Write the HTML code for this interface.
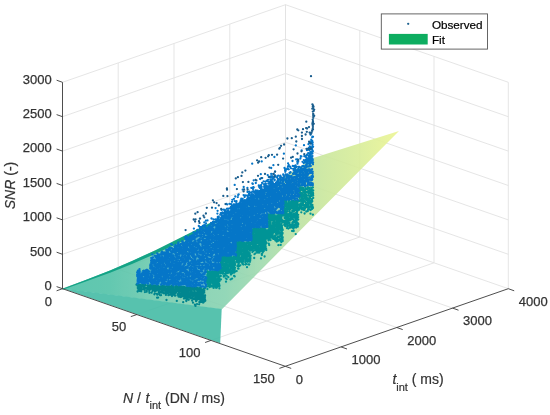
<!DOCTYPE html>
<html><head><meta charset="utf-8"><style>
html,body{margin:0;padding:0;background:#fff;}
body{width:550px;height:415px;overflow:hidden;}
svg{display:block;font-family:"Liberation Sans",Arial,sans-serif;}
.g{stroke:#e2e2e2;stroke-width:0.9;}
.a{stroke:#3a3a3a;stroke-width:0.9;}
.tk text{font-size:13px;fill:#333;stroke:#333;stroke-width:0.25px;}
.lab{font-size:14px;fill:#333;stroke:#333;stroke-width:0.2px;}
</style></head><body>
<svg width="550" height="415" viewBox="0 0 550 415">
<rect width="550" height="415" fill="#fff"/>
<g id="grid">
<line x1="118.2" y1="269.3" x2="341.1" y2="346.9" class="g"/>
<line x1="174.0" y1="249.9" x2="396.8" y2="327.5" class="g"/>
<line x1="229.8" y1="230.5" x2="452.6" y2="308.1" class="g"/>
<line x1="118.2" y1="269.3" x2="118.2" y2="62.9" class="g"/>
<line x1="174.0" y1="249.9" x2="174.0" y2="43.5" class="g"/>
<line x1="229.8" y1="230.5" x2="229.8" y2="24.1" class="g"/>
<line x1="285.5" y1="211.1" x2="285.5" y2="4.7" class="g"/>
<line x1="62.5" y1="288.7" x2="285.5" y2="211.1" class="g"/>
<line x1="136.8" y1="314.6" x2="359.8" y2="237.0" class="g"/>
<line x1="211.0" y1="340.4" x2="434.0" y2="262.8" class="g"/>
<line x1="285.5" y1="211.1" x2="285.5" y2="4.7" class="g"/>
<line x1="359.8" y1="237.0" x2="359.8" y2="30.6" class="g"/>
<line x1="434.0" y1="262.8" x2="434.0" y2="56.4" class="g"/>
<line x1="508.3" y1="288.7" x2="508.3" y2="82.3" class="g"/>
<line x1="285.5" y1="211.1" x2="508.3" y2="288.7" class="g"/>
<line x1="62.5" y1="254.3" x2="285.5" y2="176.7" class="g"/>
<line x1="285.5" y1="176.7" x2="508.3" y2="254.3" class="g"/>
<line x1="62.5" y1="219.9" x2="285.5" y2="142.3" class="g"/>
<line x1="285.5" y1="142.3" x2="508.3" y2="219.9" class="g"/>
<line x1="62.5" y1="185.5" x2="285.5" y2="107.9" class="g"/>
<line x1="285.5" y1="107.9" x2="508.3" y2="185.5" class="g"/>
<line x1="62.5" y1="151.1" x2="285.5" y2="73.5" class="g"/>
<line x1="285.5" y1="73.5" x2="508.3" y2="151.1" class="g"/>
<line x1="62.5" y1="116.7" x2="285.5" y2="39.1" class="g"/>
<line x1="285.5" y1="39.1" x2="508.3" y2="116.7" class="g"/>
<line x1="62.5" y1="82.3" x2="285.5" y2="4.7" class="g"/>
<line x1="285.5" y1="4.7" x2="508.3" y2="82.3" class="g"/>
</g>

<defs>
<linearGradient id="sg" gradientUnits="userSpaceOnUse" x1="62" y1="0" x2="399" y2="0">
<stop offset="0.000" stop-color="#4ac0a7"/><stop offset="0.142" stop-color="#53c3a8"/><stop offset="0.202" stop-color="#5ec6ab"/><stop offset="0.350" stop-color="#7fcfb0"/><stop offset="0.484" stop-color="#88d3b1"/><stop offset="0.588" stop-color="#9edaae"/><stop offset="0.706" stop-color="#bce2a1"/><stop offset="0.780" stop-color="#cae79c"/><stop offset="0.884" stop-color="#d8ed98"/><stop offset="1.000" stop-color="#ecf593"/>
</linearGradient>
</defs>
<g opacity="0.9">
<polygon points="221.7,309.5 399.0,131.0 314.0,157.8 290.0,173.0 265.0,190.0 240.0,206.0 215.0,220.5 195.0,230.5 175.0,240.5 155.0,250.4 132.0,261.0 110.0,270.5 85.0,280.2 62.5,288.7" fill="url(#sg)"/>
<polygon points="62.2,288.3 220.2,343.2 221.7,308.9" fill="#45bca6"/>
</g>
<polygon points="62.5,288.7 85.0,280.2 110.0,270.5 132.0,261.0 155.0,250.4 175.0,240.5 195.0,230.5 215.0,220.5 215.0,225.8 195.0,235.2 175.0,244.7 155.0,254.0 132.0,263.9 110.0,272.8 85.0,281.8 62.5,289.7" fill="#14a386"/>


<defs>
<linearGradient id="ubg" gradientUnits="userSpaceOnUse" x1="255" y1="0" x2="300" y2="0">
<stop offset="0" stop-color="#2a9ad8" stop-opacity="0.6"/><stop offset="1" stop-color="#2a9ad8" stop-opacity="0"/>
</linearGradient>
<linearGradient id="utg" gradientUnits="userSpaceOnUse" x1="260" y1="0" x2="305" y2="0">
<stop offset="0" stop-color="#009496" stop-opacity="0.45"/><stop offset="1" stop-color="#009496" stop-opacity="0"/>
</linearGradient>
</defs>
<polygon points="136.5,283.8 205.3,287.5 205.3,298.0 136.5,284.3" fill="url(#utg)"/><polygon points="206.3,270.4 219.6,270.4 219.6,283.5 206.3,283.9" fill="url(#utg)"/><polygon points="220.6,255.8 235.1,255.8 235.1,270.8 220.6,271.3" fill="url(#utg)"/><polygon points="236.1,241.0 250.8,241.0 250.8,258.5 236.1,259.0" fill="url(#utg)"/><polygon points="251.8,227.5 266.5,227.5 266.5,247.5 251.8,248.0" fill="url(#utg)"/><polygon points="267.5,213.3 282.8,213.3 282.8,236.3 267.5,236.8" fill="url(#utg)"/><polygon points="283.8,199.8 298.4,199.8 298.4,223.8 283.8,224.3" fill="url(#utg)"/><polygon points="299.4,186.3 313.2,186.3 313.2,207.4 299.4,207.8" fill="url(#utg)"/>
<polygon points="136.5,271.5 136.5,271.5 150.1,270.5 150.3,258.0 165.0,252.0 180.0,244.0 200.0,231.0 215.0,222.0 230.0,210.0 258.0,193.0 289.0,177.0 297.0,174.0 305.0,168.0 309.5,155.0 310.8,143.0 314.2,139.0 314.2,186.3 299.4,186.3 299.4,199.8 283.8,199.8 283.8,213.3 267.5,213.3 267.5,227.5 251.8,227.5 251.8,241.0 236.1,241.0 236.1,255.8 220.6,255.8 220.6,270.4 206.3,270.4 206.3,287.5 136.5,283.8" fill="url(#ubg)"/>
<g fill="none" stroke-linecap="round" stroke-width="2.3">
<path d="M210.9 277.9h0M207.7 280.8h0M217.9 274.7h0M213.0 285.7h0M218.3 273.9h0M210.4 285.3h0M214.1 276.6h0M213.6 287.9h0M209.0 280.8h0M216.8 282.3h0M217.8 279.7h0M216.5 284.3h0M213.7 273.4h0M209.0 284.6h0M214.9 273.7h0M217.2 286.9h0M214.6 282.5h0M212.6 286.4h0M218.7 272.3h0M209.0 285.3h0M212.6 271.9h0M219.3 277.0h0M218.6 281.6h0M218.0 278.6h0M206.4 277.9h0M213.4 285.7h0M216.9 275.6h0M209.6 287.2h0M211.4 277.3h0M211.8 282.4h0M218.4 271.8h0M209.7 276.0h0M217.7 285.6h0M216.0 285.7h0M217.3 274.5h0M219.0 276.8h0M213.8 282.3h0M211.5 273.7h0M214.4 286.0h0M219.1 283.9h0M212.7 278.8h0M215.5 283.2h0M213.0 275.3h0M209.5 275.7h0M208.0 276.4h0M212.5 285.9h0M210.1 283.8h0M214.0 282.5h0M209.9 281.6h0M219.0 276.5h0M213.0 276.9h0M211.3 272.7h0M218.4 280.1h0M218.2 273.8h0M217.3 283.7h0M214.9 278.8h0M208.1 277.0h0M207.2 271.5h0M214.0 278.5h0M219.3 271.2h0M218.1 281.2h0M214.9 276.7h0M214.2 274.0h0M219.3 278.6h0M209.1 279.8h0M213.0 286.0h0M212.2 276.9h0M215.0 272.8h0M214.1 273.6h0M218.3 276.3h0M208.4 280.3h0M214.2 278.4h0M215.9 283.5h0M208.0 278.6h0M217.1 274.5h0M214.1 273.8h0M209.0 277.8h0M213.1 281.5h0M218.2 280.9h0M215.9 272.1h0M215.7 275.1h0M212.0 285.3h0M217.4 278.3h0M214.6 281.9h0M209.3 272.9h0M207.4 275.9h0M210.6 283.2h0M210.5 272.3h0M217.0 279.7h0M215.2 279.5h0M210.3 272.1h0M214.6 281.7h0M210.7 278.3h0M211.2 280.1h0M206.5 279.6h0M215.0 278.7h0M212.4 273.6h0M218.8 280.6h0M208.8 284.8h0M209.8 286.3h0M214.0 283.8h0M218.2 274.7h0M209.1 278.4h0M208.4 279.2h0M209.2 274.2h0M208.7 276.8h0M209.3 272.3h0M211.1 273.3h0M212.1 271.4h0M213.0 273.2h0M207.5 274.9h0M219.0 271.7h0M212.3 279.2h0M218.3 286.2h0M212.3 275.9h0M207.0 280.6h0M215.0 272.3h0M208.2 277.2h0M214.8 284.7h0M214.2 278.6h0M219.3 286.3h0M214.3 273.9h0M217.1 279.9h0M219.0 281.6h0M215.9 281.2h0M218.5 275.3h0M213.9 276.4h0M216.7 287.8h0M209.7 284.3h0M209.7 286.9h0M210.7 272.8h0M217.8 273.7h0M214.0 275.3h0M208.6 283.6h0M218.9 277.6h0M210.2 281.5h0M215.3 280.3h0M211.5 274.3h0M216.7 279.2h0M213.7 275.2h0M211.5 276.8h0M208.9 272.3h0M214.4 279.5h0M215.3 277.3h0M209.6 285.1h0M214.7 286.1h0M215.5 284.3h0M219.3 271.5h0M219.5 285.4h0M209.3 279.8h0M211.6 277.4h0M215.4 276.3h0M211.6 273.8h0M216.4 285.0h0M216.8 282.1h0M213.4 285.1h0M209.1 281.5h0M217.1 276.3h0M208.0 273.3h0M215.9 287.7h0M213.3 272.9h0M209.8 275.0h0M212.7 272.7h0M211.3 277.1h0M207.8 283.8h0M219.0 272.3h0M210.8 279.4h0M215.3 271.4h0M213.9 277.1h0M216.4 271.2h0M211.2 273.0h0M219.4 288.4h0M217.6 285.4h0M218.4 273.5h0M214.7 279.1h0M206.3 281.8h0M212.1 275.4h0M208.7 284.1h0M216.2 273.0h0M214.9 274.8h0M213.5 271.6h0M209.7 280.3h0M208.0 275.5h0M210.6 279.2h0M207.0 281.5h0M219.4 286.1h0M213.6 276.9h0M217.8 272.3h0M214.6 272.5h0M211.5 279.4h0M213.7 272.5h0M207.4 289.0h0M212.8 282.4h0M207.4 279.3h0M208.8 282.2h0M208.3 285.9h0M208.1 284.4h0M214.4 278.3h0M217.0 281.3h0M207.5 277.6h0M217.2 281.4h0M219.2 280.2h0M208.6 281.4h0M207.9 278.2h0M217.5 281.2h0M213.4 278.7h0M210.3 275.6h0M212.9 283.2h0M214.5 272.8h0M212.8 281.4h0M217.2 282.8h0M210.0 272.7h0M213.5 280.2h0M211.5 279.4h0M210.3 276.4h0M212.3 282.6h0M211.3 286.4h0M209.1 275.2h0M207.9 277.5h0M209.3 273.1h0M213.3 285.1h0M216.3 283.8h0M212.8 276.3h0M209.2 271.8h0M218.0 279.1h0M219.6 280.9h0M213.5 276.1h0M213.7 284.6h0M210.6 275.3h0M211.9 280.7h0M216.4 283.2h0M209.5 284.8h0M218.0 280.0h0M218.8 280.0h0M215.2 285.3h0M219.4 281.1h0M217.8 281.3h0M207.9 282.8h0M217.7 278.9h0M207.5 277.1h0M210.1 275.3h0M216.7 272.8h0M207.1 271.4h0M206.9 286.4h0M215.7 282.0h0M210.1 283.2h0M215.0 280.4h0M217.9 272.3h0M209.9 278.5h0M209.5 280.8h0M214.5 286.1h0M218.5 275.3h0M218.6 284.0h0M218.7 280.3h0M213.6 272.0h0M214.8 279.4h0M209.8 285.7h0M210.0 282.4h0M215.9 281.5h0M209.2 280.2h0M231.3 271.8h0M224.4 265.5h0M230.2 262.9h0M234.2 266.5h0M232.8 260.2h0M224.9 258.4h0M228.9 256.7h0M223.0 260.4h0M230.1 260.2h0M234.4 257.0h0M224.4 261.5h0M232.0 265.0h0M232.1 264.5h0M228.9 258.6h0M229.0 272.4h0M220.7 263.5h0M234.3 262.9h0M223.8 276.7h0M224.1 270.2h0M221.4 266.0h0M228.7 272.5h0M225.2 259.2h0M221.4 264.2h0M225.7 260.2h0M232.1 267.0h0M230.6 279.4h0M233.6 262.7h0M223.6 271.2h0M223.1 259.8h0M222.2 272.1h0M223.5 265.0h0M220.7 263.3h0M228.6 258.2h0M235.1 264.1h0M233.3 268.5h0M231.7 260.1h0M224.2 256.7h0M222.4 270.2h0M231.3 264.9h0M221.6 259.9h0M235.1 257.8h0M234.2 260.1h0M234.4 262.2h0M232.5 261.1h0M222.5 273.6h0M225.8 261.6h0M228.2 271.8h0M226.3 268.8h0M228.9 261.3h0M222.3 269.2h0M224.7 275.9h0M225.2 269.7h0M224.2 269.1h0M233.5 264.1h0M234.9 263.8h0M234.3 272.5h0M231.1 262.5h0M234.5 268.8h0M221.4 272.1h0M234.8 256.9h0M232.4 273.2h0M234.1 258.2h0M232.5 264.1h0M229.9 262.5h0M227.5 256.8h0M225.0 270.7h0M232.1 278.6h0M228.1 267.3h0M234.0 264.7h0M230.2 270.9h0M233.1 268.9h0M234.4 270.3h0M230.2 259.7h0M221.2 262.4h0M223.0 264.6h0M222.8 263.2h0M234.7 276.4h0M226.7 279.1h0M220.8 264.1h0M230.9 257.1h0M229.8 266.0h0M226.9 265.0h0M234.8 271.9h0M233.7 258.1h0M222.7 267.5h0M226.9 265.0h0M234.4 257.2h0M227.8 266.4h0M227.6 258.3h0M223.9 260.4h0M230.5 265.5h0M228.0 257.9h0M226.1 257.1h0M228.4 256.8h0M230.5 264.9h0M221.4 270.2h0M224.2 268.4h0M234.2 270.7h0M228.3 277.2h0M231.6 270.3h0M233.9 258.0h0M230.2 263.1h0M230.5 259.0h0M226.0 268.1h0M222.0 268.6h0M221.8 268.1h0M230.6 261.1h0M223.5 270.5h0M233.7 261.2h0M228.2 261.0h0M225.2 274.0h0M223.3 264.8h0M233.3 272.5h0M231.4 261.8h0M223.9 268.0h0M221.1 270.4h0M226.0 281.7h0M225.2 259.2h0M228.1 272.9h0M234.9 267.8h0M227.3 257.8h0M228.4 268.9h0M227.0 265.4h0M226.2 265.4h0M220.8 268.4h0M221.7 264.5h0M220.7 269.1h0M233.4 257.2h0M221.0 273.0h0M231.4 266.1h0M230.8 259.2h0M228.3 272.8h0M222.0 267.9h0M231.9 266.7h0M235.0 267.8h0M226.7 275.7h0M230.8 261.6h0M220.8 276.0h0M229.4 270.6h0M226.1 269.9h0M233.2 264.3h0M229.8 257.2h0M232.2 265.8h0M222.3 258.7h0M226.7 271.0h0M223.5 260.6h0M228.4 267.2h0M228.5 257.0h0M222.0 257.1h0M230.1 269.9h0M234.8 265.6h0M224.0 257.3h0M231.8 262.9h0M232.0 263.8h0M232.5 263.3h0M230.9 256.6h0M223.7 260.1h0M221.0 271.5h0M227.7 262.4h0M224.5 264.3h0M220.9 279.4h0M220.9 261.4h0M220.9 261.8h0M231.4 261.2h0M225.4 269.3h0M225.9 262.3h0M221.6 260.3h0M233.6 268.2h0M233.0 270.8h0M221.0 264.7h0M225.1 258.4h0M227.2 272.0h0M224.6 264.5h0M231.8 259.3h0M228.2 270.3h0M229.2 264.2h0M223.9 265.8h0M230.7 260.3h0M234.9 265.0h0M226.0 263.3h0M221.8 260.0h0M222.3 262.6h0M232.1 268.3h0M226.2 270.4h0M222.7 268.6h0M232.4 263.4h0M231.8 273.5h0M223.2 265.0h0M228.0 257.0h0M225.2 266.9h0M225.9 263.5h0M231.3 264.5h0M232.8 271.4h0M231.1 262.1h0M230.2 265.5h0M225.1 258.9h0M221.4 257.9h0M222.1 264.0h0M223.0 272.2h0M231.2 261.7h0M225.0 267.7h0M220.6 273.3h0M222.2 261.6h0M226.4 264.9h0M232.7 266.2h0M225.8 272.2h0M229.2 258.5h0M222.4 270.8h0M227.8 259.4h0M222.2 269.0h0M222.7 262.1h0M232.2 271.2h0M232.3 266.3h0M220.7 258.8h0M228.6 265.4h0M224.4 269.9h0M224.2 266.4h0M222.6 264.2h0M229.9 271.3h0M232.1 267.2h0M234.3 269.8h0M225.8 259.4h0M224.3 256.9h0M225.8 278.3h0M224.1 264.2h0M230.5 259.3h0M224.5 257.4h0M226.1 264.2h0M231.0 273.0h0M231.0 274.5h0M234.7 262.6h0M226.7 258.7h0M234.3 276.1h0M223.2 268.5h0M221.3 265.9h0M234.1 275.9h0M228.4 265.7h0M226.0 270.7h0M226.9 264.2h0M233.6 272.0h0M230.0 261.5h0M223.5 273.7h0M234.2 264.8h0M227.6 271.0h0M232.5 266.2h0M234.2 270.1h0M227.8 260.3h0M224.7 266.0h0M225.1 264.8h0M224.7 260.1h0M223.7 276.1h0M227.6 258.6h0M234.3 258.1h0M231.1 258.7h0M227.2 260.1h0M224.6 271.1h0M229.4 264.7h0M227.8 257.3h0M223.7 257.0h0M222.1 270.1h0M221.4 268.4h0M229.3 266.6h0M227.2 265.8h0M224.5 260.2h0M224.4 264.5h0M234.7 269.7h0M226.1 271.3h0M231.8 261.6h0M231.1 267.6h0M221.3 265.5h0M225.3 260.4h0M221.0 271.9h0M220.9 265.0h0M227.9 257.9h0M234.5 258.3h0M226.8 273.1h0M233.7 257.5h0M225.4 267.3h0M233.5 271.1h0M233.1 258.1h0M230.9 266.8h0M221.5 258.0h0M227.5 259.8h0M226.8 265.2h0M231.3 266.0h0M222.4 261.5h0M227.4 257.8h0M226.0 265.4h0M222.8 256.6h0M222.8 260.7h0M222.9 259.2h0M229.4 263.2h0M228.9 261.0h0M229.4 259.0h0M221.3 264.0h0M226.7 269.8h0M230.0 269.1h0M224.0 270.6h0M232.5 258.0h0M234.6 265.7h0M225.4 271.0h0M223.7 256.9h0M220.7 261.0h0M227.1 262.8h0M227.4 262.1h0M227.6 267.4h0M223.4 267.1h0M234.4 271.8h0M225.3 268.5h0M233.9 262.0h0M225.3 266.3h0M226.3 265.7h0M231.0 267.7h0M235.0 258.9h0M224.7 256.6h0M224.4 264.2h0M234.7 270.1h0M226.5 261.6h0M226.9 263.3h0M225.5 264.0h0M226.6 261.2h0M224.8 270.6h0M221.4 257.9h0M221.2 260.2h0M233.3 265.0h0M226.8 272.7h0M232.4 271.7h0M223.2 267.3h0M230.6 273.0h0M246.4 256.1h0M237.8 247.5h0M248.5 249.2h0M236.4 243.7h0M236.8 243.8h0M241.6 244.4h0M237.0 244.7h0M240.3 247.8h0M236.5 259.4h0M237.3 245.6h0M238.5 252.5h0M245.2 253.3h0M241.2 254.3h0M243.8 254.2h0M248.6 259.6h0M243.2 250.0h0M250.1 245.9h0M246.3 251.8h0M238.0 242.9h0M236.6 243.5h0M245.5 254.6h0M245.7 249.3h0M241.5 251.3h0M236.7 251.8h0M249.8 246.3h0M243.2 252.0h0M244.9 249.8h0M239.2 259.6h0M243.5 244.4h0M236.2 256.6h0M236.7 271.1h0M236.5 261.5h0M245.0 253.1h0M243.1 250.0h0M242.6 264.0h0M239.2 248.4h0M247.1 249.3h0M242.1 245.3h0M242.2 255.5h0M238.3 247.1h0M237.2 259.0h0M250.2 260.4h0M250.4 259.1h0M238.9 241.9h0M236.6 257.5h0M249.8 260.8h0M236.7 259.6h0M236.1 248.3h0M243.5 255.4h0M247.0 267.2h0M242.2 247.6h0M238.4 253.6h0M240.2 248.6h0M241.3 241.8h0M245.5 255.8h0M249.1 245.9h0M239.6 251.5h0M239.6 246.5h0M241.8 260.5h0M241.5 246.4h0M240.4 249.8h0M245.0 248.9h0M242.3 259.5h0M250.6 248.1h0M239.1 258.0h0M236.4 250.0h0M238.5 264.4h0M242.7 246.2h0M236.5 252.2h0M243.0 250.6h0M248.0 249.2h0M238.8 244.6h0M244.9 249.3h0M240.4 246.2h0M238.0 268.6h0M250.4 258.7h0M248.3 248.7h0M250.4 242.8h0M250.7 255.7h0M249.6 243.6h0M240.3 265.3h0M242.3 260.2h0M238.8 253.9h0M249.6 256.8h0M238.5 252.8h0M240.9 248.4h0M243.3 264.5h0M249.8 245.4h0M244.2 254.6h0M240.7 260.5h0M236.4 246.5h0M239.0 256.9h0M237.9 261.9h0M249.9 248.7h0M241.7 254.0h0M242.4 242.8h0M246.7 259.6h0M242.7 263.4h0M240.6 242.4h0M248.2 264.3h0M241.3 253.7h0M242.2 257.7h0M239.3 266.0h0M239.4 254.7h0M244.2 243.2h0M239.5 243.3h0M240.1 247.8h0M245.8 254.0h0M238.3 245.2h0M242.7 247.5h0M237.1 258.6h0M242.6 258.3h0M239.8 251.8h0M237.1 262.3h0M242.6 264.1h0M245.6 258.3h0M249.6 257.0h0M240.4 258.3h0M243.2 261.7h0M246.4 247.1h0M236.6 253.2h0M250.2 246.2h0M237.3 255.7h0M238.6 248.5h0M242.7 254.0h0M238.0 256.3h0M243.9 248.3h0M241.2 259.1h0M243.1 251.4h0M238.3 248.0h0M246.1 252.6h0M249.4 256.8h0M238.3 255.8h0M236.8 252.0h0M248.7 244.1h0M244.5 250.4h0M240.3 243.4h0M249.1 261.4h0M245.8 247.1h0M236.7 253.3h0M244.7 254.1h0M243.4 254.7h0M241.6 247.0h0M240.1 248.1h0M245.3 257.7h0M244.7 243.9h0M249.5 247.7h0M242.8 244.4h0M248.3 243.9h0M238.9 254.6h0M246.8 253.2h0M245.4 256.9h0M248.2 247.0h0M247.3 250.1h0M248.0 253.2h0M241.6 249.0h0M241.1 251.2h0M236.7 251.0h0M241.7 262.6h0M244.6 256.2h0M239.7 261.4h0M244.6 249.1h0M242.6 250.3h0M250.1 244.5h0M250.4 243.9h0M249.8 258.2h0M241.0 253.2h0M250.6 248.2h0M246.5 251.0h0M238.3 249.4h0M245.3 258.4h0M249.0 255.4h0M250.0 246.4h0M245.1 244.7h0M248.7 260.1h0M249.7 256.3h0M244.3 258.3h0M247.8 255.5h0M236.1 248.9h0M242.2 242.0h0M241.1 260.4h0M245.5 261.2h0M237.6 253.9h0M238.4 256.4h0M244.2 254.1h0M238.0 260.5h0M245.4 248.3h0M250.3 249.9h0M237.0 254.1h0M249.2 264.5h0M247.8 248.7h0M249.6 257.1h0M241.9 260.7h0M248.2 260.0h0M242.7 260.7h0M236.6 249.0h0M239.2 255.1h0M243.3 259.7h0M239.3 250.4h0M245.6 254.8h0M244.7 254.5h0M243.1 257.8h0M239.1 261.8h0M239.6 247.7h0M245.5 255.0h0M239.2 258.4h0M241.0 249.5h0M238.3 244.6h0M249.7 248.0h0M248.5 260.6h0M246.2 258.0h0M240.8 243.0h0M246.5 248.1h0M246.8 257.5h0M240.0 252.7h0M241.9 253.8h0M250.0 261.8h0M236.6 251.9h0M241.4 252.1h0M245.4 245.9h0M248.1 256.3h0M248.8 259.2h0M240.9 243.8h0M239.7 242.1h0M242.5 254.4h0M237.5 257.1h0M244.2 246.1h0M246.3 260.2h0M241.1 243.7h0M246.6 247.4h0M240.8 245.8h0M245.4 262.2h0M250.8 249.9h0M239.0 253.4h0M246.9 245.9h0M246.3 244.1h0M250.1 250.6h0M236.6 259.1h0M248.4 252.2h0M243.7 259.7h0M238.6 246.4h0M247.6 261.8h0M245.0 243.1h0M237.0 256.0h0M247.8 249.6h0M238.0 256.6h0M241.6 245.3h0M241.8 243.2h0M244.7 251.4h0M244.3 257.5h0M238.8 263.2h0M237.9 249.7h0M243.0 261.9h0M248.4 260.7h0M241.2 250.4h0M237.9 253.2h0M241.8 251.7h0M242.5 250.2h0M237.2 251.7h0M243.6 245.5h0M242.7 254.5h0M248.5 242.0h0M245.4 247.1h0M246.4 245.6h0M247.0 255.0h0M249.2 243.5h0M238.7 256.1h0M237.8 248.4h0M241.3 258.6h0M239.4 261.9h0M239.2 250.7h0M242.5 260.9h0M240.5 245.3h0M236.3 252.5h0M245.5 244.5h0M237.4 266.0h0M238.2 260.3h0M246.3 246.4h0M239.8 254.8h0M242.3 247.7h0M247.9 259.3h0M247.1 252.2h0M240.3 243.7h0M239.4 248.8h0M245.5 248.4h0M241.4 251.8h0M247.4 243.5h0M243.3 252.1h0M244.1 256.0h0M240.8 257.7h0M242.5 259.0h0M242.7 241.8h0M246.9 259.6h0M249.7 259.8h0M242.0 256.7h0M246.1 264.0h0M250.3 249.1h0M247.7 242.3h0M245.7 255.4h0M238.5 268.7h0M247.1 250.6h0M249.3 244.0h0M249.2 255.3h0M241.9 245.1h0M238.4 243.1h0M250.3 257.7h0M240.0 261.5h0M245.4 256.7h0M247.6 251.1h0M244.5 255.0h0M242.5 256.8h0M236.3 257.7h0M246.0 260.0h0M249.7 255.3h0M236.6 245.0h0M245.5 264.5h0M237.8 255.8h0M238.1 260.1h0M247.5 247.3h0M236.7 248.3h0M238.2 243.2h0M243.5 250.4h0M237.9 261.7h0M241.0 249.3h0M249.0 255.4h0M247.1 260.2h0M247.3 255.7h0M240.8 248.2h0M242.6 259.6h0M247.8 246.0h0M249.7 253.3h0M247.1 242.5h0M240.7 246.2h0M236.2 241.9h0M243.7 252.7h0M236.8 251.5h0M248.0 247.7h0M236.9 242.1h0M242.5 251.3h0M245.5 250.8h0M243.3 254.8h0M240.7 248.2h0M238.3 266.5h0M239.9 247.9h0M247.2 256.7h0M244.4 249.0h0M243.4 260.6h0M239.5 252.3h0M245.6 253.0h0M241.6 242.8h0M248.5 242.5h0M249.9 259.5h0M236.8 259.3h0M248.3 253.6h0M247.2 256.9h0M243.1 245.6h0M245.9 252.3h0M249.2 255.2h0M237.4 254.4h0M240.7 242.6h0M263.9 230.4h0M254.1 237.8h0M252.6 230.7h0M255.7 231.9h0M255.0 230.5h0M263.7 242.2h0M265.5 232.6h0M262.5 249.4h0M263.5 228.4h0M253.1 247.6h0M253.8 239.3h0M262.4 234.3h0M252.8 231.8h0M253.4 245.0h0M260.0 240.4h0M252.5 248.6h0M258.6 236.7h0M259.8 240.6h0M264.6 232.8h0M255.9 241.5h0M261.6 241.1h0M261.3 235.3h0M256.7 241.8h0M264.4 241.1h0M261.8 235.2h0M265.8 241.3h0M253.7 245.2h0M257.7 240.8h0M254.1 235.3h0M252.1 240.4h0M259.7 248.2h0M260.8 232.5h0M259.3 249.1h0M260.1 247.8h0M258.0 251.6h0M257.5 250.3h0M260.9 246.2h0M261.7 234.7h0M252.8 236.2h0M265.8 248.3h0M264.3 231.9h0M254.3 247.2h0M265.5 246.3h0M261.5 232.8h0M264.3 238.5h0M252.4 247.6h0M263.5 248.3h0M253.5 243.7h0M265.5 246.5h0M263.7 249.4h0M263.8 236.8h0M254.4 242.2h0M257.5 248.4h0M253.9 242.6h0M256.6 250.0h0M255.5 239.7h0M257.6 231.6h0M260.8 238.8h0M251.8 247.2h0M264.2 249.7h0M263.3 236.9h0M262.3 232.7h0M256.7 251.2h0M259.0 242.1h0M259.9 236.9h0M261.5 240.8h0M257.6 235.6h0M255.4 234.8h0M260.7 249.7h0M252.3 241.7h0M257.2 250.7h0M263.2 248.9h0M254.8 229.6h0M260.9 251.0h0M254.2 258.0h0M254.6 247.9h0M260.3 248.8h0M257.7 246.4h0M256.0 229.9h0M253.6 246.7h0M254.8 247.2h0M257.5 238.9h0M261.8 254.8h0M254.3 250.2h0M260.9 237.7h0M253.3 240.5h0M262.4 237.3h0M258.6 236.7h0M264.8 245.7h0M255.7 233.1h0M264.4 236.5h0M265.6 230.7h0M264.7 237.9h0M263.9 231.3h0M252.4 248.8h0M263.2 235.0h0M255.0 235.7h0M264.7 234.0h0M260.8 242.9h0M261.7 247.1h0M262.7 240.5h0M263.2 229.6h0M264.5 237.8h0M252.6 244.0h0M264.8 243.3h0M261.0 232.2h0M264.8 248.0h0M255.1 250.3h0M255.4 233.9h0M263.2 228.9h0M263.0 248.6h0M263.9 241.4h0M261.5 245.0h0M262.1 240.7h0M265.4 238.5h0M259.5 242.6h0M253.4 247.8h0M260.0 238.5h0M254.1 247.9h0M266.3 233.1h0M257.6 246.5h0M264.8 241.3h0M253.0 237.5h0M255.1 246.2h0M258.7 249.7h0M260.9 234.7h0M258.8 245.6h0M265.5 244.6h0M256.2 229.7h0M263.9 233.5h0M252.3 244.1h0M255.9 244.1h0M252.1 234.7h0M263.8 251.0h0M261.8 236.1h0M258.6 232.1h0M257.7 239.8h0M255.7 242.6h0M262.4 239.9h0M258.2 242.8h0M261.0 258.4h0M255.9 230.1h0M264.7 247.6h0M265.1 231.6h0M262.9 234.1h0M260.0 238.5h0M254.8 230.0h0M254.4 240.4h0M259.0 249.1h0M260.7 239.4h0M258.1 236.2h0M257.4 245.9h0M255.6 230.9h0M262.4 242.3h0M253.7 241.5h0M258.0 238.2h0M257.7 229.5h0M256.9 238.4h0M252.0 246.6h0M255.3 247.2h0M265.5 235.7h0M259.0 236.4h0M259.6 230.6h0M252.1 246.7h0M265.8 249.0h0M256.8 236.2h0M260.4 241.3h0M263.6 240.6h0M254.7 239.6h0M260.7 242.4h0M257.8 238.6h0M256.6 234.4h0M255.1 244.6h0M258.3 230.2h0M252.8 229.7h0M252.9 237.4h0M262.6 238.7h0M260.7 228.6h0M254.5 254.2h0M262.7 235.3h0M262.3 232.1h0M265.8 234.5h0M257.5 232.9h0M264.9 249.3h0M252.3 231.7h0M257.8 240.5h0M253.3 232.8h0M255.0 250.3h0M260.8 234.6h0M262.4 228.3h0M265.2 246.8h0M251.9 234.1h0M266.1 248.3h0M263.5 232.0h0M259.8 235.5h0M264.6 247.9h0M258.9 239.1h0M263.0 229.8h0M257.9 247.4h0M263.9 244.7h0M251.9 241.9h0M262.9 247.3h0M263.9 240.7h0M252.6 235.0h0M253.2 230.9h0M259.2 239.1h0M257.1 235.1h0M264.2 244.3h0M257.6 240.1h0M265.4 229.3h0M265.6 233.0h0M260.5 231.7h0M261.5 229.5h0M260.6 237.8h0M252.7 249.3h0M255.1 231.4h0M260.0 235.4h0M258.7 249.1h0M259.5 232.1h0M264.0 228.6h0M258.0 246.8h0M252.9 242.0h0M254.8 243.5h0M256.4 228.7h0M255.6 240.8h0M262.9 248.2h0M257.2 252.5h0M252.5 245.0h0M254.6 235.8h0M260.0 245.4h0M263.3 244.1h0M254.9 241.1h0M258.6 252.5h0M258.6 243.3h0M258.9 235.4h0M252.0 232.2h0M258.1 228.5h0M257.1 243.1h0M263.3 237.7h0M261.9 255.0h0M261.9 235.5h0M264.3 249.1h0M256.0 237.7h0M255.0 228.6h0M259.4 244.4h0M264.6 235.8h0M263.6 234.4h0M258.0 240.5h0M264.6 240.3h0M255.2 248.1h0M258.2 234.5h0M262.8 246.4h0M260.5 246.5h0M255.9 242.5h0M265.5 232.4h0M266.3 250.1h0M265.2 249.4h0M256.1 246.8h0M257.3 239.6h0M266.5 230.5h0M257.4 233.3h0M252.1 244.4h0M252.7 234.2h0M254.5 238.4h0M251.8 241.1h0M255.8 244.5h0M264.6 256.5h0M256.0 244.0h0M257.1 252.4h0M257.4 250.0h0M261.0 243.7h0M254.3 240.0h0M256.4 248.9h0M258.1 233.5h0M257.0 248.3h0M252.5 248.6h0M252.7 229.3h0M259.6 231.2h0M266.4 236.5h0M261.4 237.7h0M252.3 250.3h0M263.2 230.1h0M259.7 245.1h0M256.5 235.4h0M257.5 235.1h0M263.8 231.2h0M262.4 232.6h0M255.6 230.8h0M262.2 240.2h0M263.4 251.1h0M254.6 246.0h0M253.3 251.0h0M259.2 235.5h0M253.8 235.0h0M263.1 245.1h0M254.8 242.5h0M253.3 244.6h0M256.4 248.4h0M263.2 232.9h0M252.1 249.5h0M260.4 244.8h0M255.4 247.0h0M255.3 232.6h0M260.1 233.6h0M260.2 234.3h0M255.5 241.4h0M256.8 247.6h0M255.7 246.4h0M258.4 237.1h0M259.2 245.4h0M256.7 229.9h0M252.8 249.9h0M258.9 231.5h0M257.5 247.9h0M260.2 247.4h0M259.6 244.8h0M254.9 236.5h0M261.1 241.3h0M266.4 233.6h0M255.6 233.8h0M260.7 250.2h0M256.4 247.0h0M253.1 245.8h0M263.5 244.0h0M251.8 235.6h0M255.3 239.3h0M259.9 229.1h0M265.8 239.1h0M263.1 242.1h0M262.9 235.0h0M254.6 237.1h0M263.2 240.9h0M256.7 229.8h0M262.7 252.5h0M257.8 238.6h0M261.3 231.0h0M255.2 248.8h0M256.7 250.4h0M258.1 230.2h0M261.9 230.6h0M260.5 250.5h0M255.1 248.4h0M255.4 253.3h0M261.9 238.1h0M263.6 236.4h0M263.5 235.5h0M258.6 243.6h0M260.5 240.9h0M260.5 238.9h0M265.0 243.2h0M260.9 237.3h0M252.0 239.2h0M253.2 244.9h0M252.1 239.9h0M260.7 248.1h0M266.5 242.9h0M254.8 240.6h0M257.8 241.5h0M252.7 248.4h0M255.1 232.6h0M259.4 252.5h0M259.7 241.0h0M258.3 231.6h0M266.4 238.5h0M258.3 238.0h0M258.4 239.7h0M252.2 242.3h0M264.6 231.7h0M257.4 248.4h0M257.9 242.1h0M256.7 237.6h0M253.7 236.0h0M254.9 248.0h0M257.3 238.1h0M264.6 243.2h0M262.1 244.5h0M264.2 228.6h0M264.5 228.3h0M262.6 250.4h0M261.1 246.2h0M259.7 250.6h0M256.5 239.0h0M252.4 252.0h0M262.8 243.8h0M255.4 238.1h0M265.3 232.8h0M254.1 229.0h0M253.8 236.4h0M261.6 241.7h0M263.3 236.2h0M263.6 232.2h0M256.7 247.5h0M256.2 236.1h0M263.6 248.9h0M261.6 240.5h0M254.8 230.5h0M262.3 231.5h0M253.9 237.5h0M254.3 244.4h0M254.5 237.3h0M261.8 253.8h0M267.8 237.0h0M273.2 238.5h0M269.8 237.1h0M270.3 220.5h0M268.0 230.2h0M275.9 225.2h0M274.4 216.6h0M279.6 216.1h0M278.9 233.5h0M281.8 234.9h0M280.1 233.9h0M277.7 228.4h0M276.0 225.7h0M268.7 239.0h0M274.1 218.7h0M275.2 224.2h0M280.9 221.7h0M272.0 233.1h0M276.4 234.3h0M281.8 232.1h0M279.4 228.1h0M280.9 220.2h0M276.6 225.0h0M272.9 226.3h0M282.5 222.2h0M269.5 238.1h0M268.7 226.1h0M274.7 215.3h0M282.0 227.5h0M275.4 231.2h0M275.5 238.0h0M278.6 216.3h0M268.4 215.2h0M271.6 228.8h0M271.6 219.6h0M280.4 230.4h0M276.3 224.6h0M268.6 214.8h0M276.8 225.8h0M277.8 216.5h0M274.9 237.4h0M270.6 230.0h0M272.4 238.0h0M276.8 230.8h0M280.2 229.7h0M274.2 232.1h0M277.3 227.2h0M281.8 235.3h0M275.2 239.3h0M276.1 220.1h0M267.6 223.0h0M268.2 214.7h0M272.3 233.9h0M282.2 215.2h0M281.5 230.6h0M274.3 217.6h0M272.3 217.6h0M281.7 236.3h0M271.3 231.5h0M278.7 214.9h0M272.7 219.8h0M278.1 219.9h0M272.1 216.1h0M277.5 240.0h0M276.5 237.9h0M278.0 222.7h0M270.5 220.9h0M268.4 218.7h0M277.7 236.3h0M280.0 229.0h0M269.7 221.0h0M269.3 219.6h0M277.6 219.0h0M280.8 234.8h0M276.9 222.0h0M276.6 232.3h0M271.1 229.8h0M278.5 237.3h0M270.2 214.5h0M277.8 233.8h0M271.3 214.3h0M272.4 235.4h0M276.2 219.7h0M270.3 219.3h0M270.2 230.4h0M268.1 216.9h0M279.8 219.9h0M278.6 227.2h0M273.6 237.7h0M273.5 219.2h0M276.5 216.4h0M281.7 225.3h0M268.9 232.3h0M268.2 232.3h0M277.2 227.3h0M279.3 221.0h0M274.3 223.4h0M273.1 222.8h0M267.6 219.3h0M272.2 230.3h0M269.4 228.3h0M276.4 231.9h0M269.8 229.6h0M277.2 222.3h0M271.6 227.1h0M280.1 229.5h0M269.8 229.7h0M270.5 215.6h0M280.2 215.5h0M270.2 221.6h0M280.7 244.9h0M272.6 232.7h0M277.8 230.7h0M274.0 215.4h0M273.4 220.6h0M269.6 239.0h0M270.2 220.3h0M276.9 226.8h0M269.8 215.0h0M268.3 222.5h0M280.1 240.6h0M281.5 238.7h0M274.6 224.3h0M268.5 222.1h0M275.6 218.4h0M272.4 218.0h0M279.5 222.5h0M272.4 228.6h0M270.6 226.2h0M279.9 227.2h0M270.8 235.8h0M269.7 234.3h0M275.2 240.1h0M268.4 238.0h0M281.3 242.0h0M282.4 220.2h0M271.6 217.2h0M277.8 220.7h0M279.3 219.0h0M273.1 229.5h0M276.6 238.1h0M274.9 230.5h0M268.5 240.4h0M267.9 217.2h0M274.8 219.7h0M275.0 237.4h0M275.2 218.6h0M268.9 223.8h0M276.2 233.3h0M272.8 237.9h0M271.1 233.4h0M270.1 232.5h0M273.5 227.8h0M268.8 229.4h0M268.3 232.6h0M274.8 222.0h0M268.6 219.5h0M273.1 229.9h0M276.2 230.6h0M268.5 219.1h0M281.1 226.1h0M268.6 226.4h0M272.6 217.1h0M269.4 228.1h0M273.3 220.2h0M268.5 222.5h0M271.9 236.5h0M271.5 216.5h0M272.7 237.1h0M271.9 235.8h0M281.4 228.0h0M273.5 227.0h0M276.7 232.5h0M273.6 215.3h0M275.6 235.3h0M281.3 230.3h0M282.7 241.0h0M279.2 236.4h0M270.1 217.9h0M274.4 226.5h0M268.5 217.6h0M274.4 218.8h0M282.7 237.2h0M272.0 234.7h0M274.2 219.2h0M269.9 216.2h0M273.9 223.5h0M274.3 225.6h0M267.7 232.2h0M269.5 216.2h0M280.5 218.5h0M274.9 238.3h0M269.4 223.8h0M268.2 217.8h0M276.7 228.7h0M273.5 214.4h0M282.2 215.6h0M273.4 229.1h0M270.1 225.0h0M278.4 223.5h0M267.8 236.3h0M276.9 228.9h0M276.5 230.5h0M272.2 216.0h0M280.4 229.4h0M272.1 225.7h0M281.6 216.6h0M269.7 217.9h0M276.3 228.2h0M281.8 235.5h0M270.5 236.9h0M279.3 218.4h0M277.1 238.6h0M279.9 225.2h0M281.5 219.3h0M271.7 234.0h0M281.9 239.6h0M280.7 229.3h0M281.4 231.0h0M267.5 217.7h0M279.2 222.2h0M270.1 223.8h0M276.6 229.8h0M278.4 245.2h0M279.2 227.6h0M272.6 235.2h0M275.7 229.5h0M268.8 223.9h0M280.6 234.8h0M281.5 219.7h0M279.3 229.7h0M268.8 243.6h0M273.1 216.6h0M281.8 230.2h0M275.0 236.6h0M269.6 232.9h0M279.9 218.3h0M277.3 227.1h0M281.0 217.8h0M269.6 224.7h0M278.3 232.0h0M282.7 233.1h0M278.1 233.3h0M275.1 226.1h0M276.5 229.2h0M281.0 233.0h0M269.1 227.3h0M269.3 223.4h0M281.5 236.5h0M275.4 226.0h0M272.5 220.6h0M270.0 216.9h0M271.4 235.0h0M282.1 220.9h0M281.9 228.3h0M269.1 232.7h0M276.0 233.3h0M269.7 223.8h0M280.4 219.7h0M273.1 231.4h0M275.1 225.5h0M269.6 230.5h0M270.5 234.8h0M272.9 237.0h0M278.0 221.7h0M278.9 226.8h0M270.2 215.5h0M270.7 236.7h0M277.3 227.1h0M270.7 226.5h0M279.3 239.6h0M277.2 239.9h0M272.6 230.2h0M274.5 238.8h0M275.4 240.4h0M272.2 217.3h0M272.8 233.6h0M272.1 215.2h0M271.4 230.2h0M282.5 239.6h0M269.1 232.3h0M272.2 218.9h0M280.2 234.3h0M282.3 233.9h0M272.9 225.4h0M270.7 216.2h0M281.1 219.1h0M281.8 215.9h0M276.8 217.8h0M279.7 240.3h0M268.2 233.6h0M268.4 234.9h0M267.5 231.9h0M269.3 229.0h0M276.9 229.9h0M282.6 238.0h0M272.9 215.8h0M275.5 225.6h0M280.7 217.2h0M276.6 241.6h0M273.9 221.3h0M281.4 216.4h0M272.5 218.3h0M278.1 225.1h0M278.1 232.9h0M271.7 219.1h0M271.3 225.9h0M277.0 219.9h0M281.9 238.2h0M274.2 218.2h0M277.4 225.9h0M272.1 218.5h0M269.4 235.4h0M282.7 229.3h0M278.5 222.0h0M269.3 219.6h0M278.6 226.6h0M275.2 217.8h0M282.2 214.7h0M274.4 215.2h0M268.0 219.1h0M270.6 240.1h0M268.5 237.7h0M272.8 227.4h0M280.6 218.5h0M273.1 214.4h0M282.3 230.4h0M270.6 226.9h0M277.6 217.5h0M280.4 221.1h0M270.2 234.5h0M270.2 214.5h0M280.3 238.5h0M273.3 238.9h0M282.6 230.2h0M269.8 232.6h0M281.3 217.3h0M274.3 217.4h0M270.4 223.0h0M276.8 216.5h0M272.7 223.2h0M269.9 234.4h0M273.4 236.6h0M280.0 219.7h0M272.3 217.4h0M276.2 216.8h0M279.4 232.4h0M271.8 236.5h0M270.2 225.0h0M267.6 235.0h0M271.0 226.6h0M270.4 229.0h0M281.4 233.1h0M269.2 230.9h0M280.6 221.6h0M267.9 222.0h0M277.4 232.7h0M275.1 235.9h0M270.5 237.7h0M282.4 222.4h0M268.0 238.8h0M276.4 230.2h0M276.6 223.0h0M280.6 220.9h0M268.6 230.3h0M274.7 227.4h0M279.7 236.4h0M281.2 224.1h0M281.8 230.1h0M282.4 229.9h0M276.5 231.6h0M281.2 218.5h0M271.5 227.2h0M274.9 236.2h0M280.7 230.3h0M277.8 229.7h0M279.3 224.3h0M271.3 228.5h0M282.3 229.4h0M282.1 220.9h0M271.0 225.9h0M269.2 245.1h0M274.9 218.0h0M277.6 216.0h0M274.9 228.4h0M281.4 232.9h0M274.0 218.8h0M280.8 214.2h0M273.0 224.5h0M273.5 236.3h0M268.1 226.1h0M275.8 225.4h0M281.9 225.7h0M271.3 217.7h0M270.7 225.0h0M277.9 241.1h0M277.4 215.3h0M271.5 219.4h0M268.6 230.8h0M273.0 236.6h0M282.6 237.2h0M280.7 234.7h0M291.0 202.4h0M296.8 222.2h0M284.3 202.0h0M285.3 226.2h0M288.1 214.6h0M285.2 204.2h0M283.8 203.3h0M284.3 214.1h0M286.7 219.0h0M297.8 210.6h0M293.9 207.8h0M296.9 213.5h0M295.9 208.3h0M288.8 209.5h0M286.2 220.3h0M287.1 219.6h0M293.7 231.0h0M284.3 214.4h0M295.1 216.9h0M293.7 222.4h0M290.5 203.5h0M288.0 225.7h0M284.7 222.9h0M297.9 209.7h0M287.1 219.2h0M294.7 206.3h0M289.8 207.0h0M292.5 200.8h0M291.3 217.8h0M296.7 218.9h0M291.2 219.0h0M296.7 202.7h0M298.2 217.1h0M286.8 215.1h0M294.8 227.2h0M285.9 222.3h0M292.1 231.0h0M294.7 214.8h0M290.6 207.8h0M287.5 226.1h0M286.0 215.8h0M290.2 216.9h0M287.8 204.2h0M284.8 224.3h0M288.8 223.0h0M286.4 217.7h0M290.0 220.3h0M293.4 209.4h0M293.5 228.7h0M296.5 217.6h0M290.3 208.2h0M288.5 206.9h0M285.2 211.6h0M295.9 220.1h0M288.5 209.2h0M287.2 222.4h0M291.1 206.0h0M289.0 214.9h0M290.0 227.8h0M291.9 216.0h0M298.0 207.7h0M286.6 213.2h0M295.2 225.4h0M287.5 226.7h0M293.3 204.0h0M294.0 207.6h0M285.2 202.5h0M298.2 223.6h0M293.1 201.0h0M289.0 200.6h0M297.4 218.8h0M293.7 226.2h0M286.1 215.3h0M296.6 221.5h0M285.2 202.9h0M293.0 202.5h0M291.0 208.5h0M297.2 211.2h0M289.0 204.5h0M285.6 221.3h0M296.1 223.1h0M286.7 209.1h0M287.5 204.3h0M288.2 220.6h0M283.9 221.2h0M285.9 218.8h0M293.3 214.3h0M286.9 208.2h0M297.8 208.3h0M297.0 212.7h0M285.6 217.2h0M296.2 210.2h0M296.3 222.1h0M293.6 216.7h0M287.0 208.8h0M290.8 218.1h0M292.2 217.6h0M284.8 205.1h0M292.4 222.7h0M295.2 205.1h0M283.8 222.1h0M295.7 221.8h0M290.3 226.7h0M285.4 201.9h0M289.6 206.4h0M290.7 204.0h0M292.1 224.3h0M291.0 219.3h0M284.4 223.0h0M295.3 209.3h0M290.3 209.0h0M293.1 207.9h0M293.5 208.0h0M289.2 218.8h0M287.9 220.1h0M292.0 214.9h0M298.2 224.5h0M289.2 215.4h0M286.9 228.1h0M296.5 213.5h0M292.5 211.5h0M292.9 206.2h0M284.0 212.5h0M288.9 208.8h0M289.3 211.3h0M287.6 218.6h0M296.9 210.4h0M290.1 214.7h0M287.4 222.7h0M295.7 204.8h0M288.3 228.5h0M292.1 202.5h0M298.1 223.4h0M286.8 216.1h0M289.4 222.7h0M286.1 202.4h0M284.2 224.9h0M285.9 223.6h0M285.2 213.5h0M293.8 220.2h0M284.2 207.7h0M285.1 209.5h0M287.8 208.6h0M285.1 224.2h0M291.4 225.7h0M295.4 206.0h0M287.8 209.5h0M288.4 225.8h0M288.4 202.7h0M293.0 204.7h0M293.4 200.7h0M296.5 213.9h0M288.0 217.4h0M289.7 209.6h0M296.9 209.9h0M297.7 226.7h0M295.1 205.0h0M293.1 225.6h0M293.9 216.8h0M294.7 202.0h0M298.2 219.5h0M287.0 224.7h0M288.8 215.9h0M293.2 225.8h0M287.3 225.0h0M293.3 225.5h0M287.7 206.9h0M289.0 202.2h0M298.2 214.8h0M284.8 218.2h0M286.1 214.2h0M291.8 212.7h0M296.9 201.1h0M288.1 220.9h0M286.6 208.1h0M296.1 224.2h0M297.2 226.0h0M290.7 225.6h0M294.8 225.6h0M296.1 218.2h0M295.4 205.9h0M286.3 201.0h0M295.7 204.2h0M283.8 200.6h0M295.0 208.3h0M298.0 204.4h0M297.8 208.6h0M296.6 220.5h0M284.4 200.8h0M287.8 217.0h0M286.9 203.7h0M298.0 207.5h0M283.8 208.5h0M292.4 216.5h0M284.5 222.7h0M286.4 221.0h0M297.5 216.9h0M288.7 201.5h0M296.2 213.7h0M297.2 215.6h0M286.6 219.0h0M295.6 216.0h0M291.0 204.9h0M288.4 214.8h0M284.6 218.0h0M285.6 210.3h0M296.8 217.2h0M288.0 207.2h0M296.0 224.4h0M285.9 220.9h0M297.5 202.7h0M284.0 221.0h0M292.8 217.0h0M295.8 200.7h0M296.8 202.3h0M293.9 225.4h0M289.8 208.1h0M288.2 207.6h0M295.7 207.5h0M292.9 219.3h0M291.0 203.1h0M293.7 215.6h0M285.1 210.4h0M292.0 227.6h0M290.3 213.8h0M297.2 218.9h0M290.3 224.6h0M295.0 217.9h0M296.1 227.6h0M293.3 222.8h0M292.7 218.2h0M297.6 207.7h0M296.3 225.2h0M294.9 222.1h0M287.3 221.0h0M287.1 219.1h0M293.7 205.6h0M296.9 217.0h0M295.2 203.2h0M285.7 220.8h0M283.9 215.7h0M296.9 217.4h0M297.3 206.0h0M288.0 214.7h0M291.1 215.0h0M297.5 217.5h0M287.1 211.4h0M295.7 234.1h0M297.7 226.2h0M284.5 202.3h0M285.3 205.4h0M298.3 204.7h0M293.1 221.9h0M294.7 206.7h0M291.4 208.1h0M296.5 200.8h0M296.0 218.7h0M294.4 216.0h0M289.5 208.2h0M284.7 215.8h0M294.5 201.9h0M292.3 210.9h0M292.5 202.0h0M286.8 222.8h0M284.5 213.4h0M296.7 204.0h0M285.7 204.9h0M288.5 205.4h0M295.3 210.2h0M293.6 209.0h0M290.4 212.9h0M285.6 206.4h0M289.2 220.0h0M297.6 202.3h0M298.3 200.8h0M290.4 213.2h0M289.7 212.0h0M297.0 225.2h0M296.9 214.5h0M288.8 209.5h0M289.7 213.7h0M297.7 217.3h0M284.7 205.7h0M296.1 213.0h0M294.2 210.9h0M293.4 209.6h0M295.0 208.2h0M287.1 205.8h0M289.4 213.8h0M290.1 224.6h0M285.6 213.5h0M289.5 220.0h0M285.9 211.0h0M283.9 212.2h0M294.6 225.5h0M291.3 214.6h0M285.5 209.5h0M291.2 216.9h0M293.6 210.2h0M285.2 200.8h0M295.4 202.3h0M294.0 213.3h0M290.2 209.4h0M291.2 201.3h0M297.0 224.8h0M286.3 206.0h0M290.8 215.2h0M285.8 210.0h0M283.9 210.7h0M294.2 221.5h0M296.4 220.2h0M293.1 226.4h0M286.3 201.0h0M294.3 224.8h0M293.5 226.6h0M295.6 218.5h0M289.8 205.3h0M294.2 202.8h0M292.7 204.0h0M294.7 226.2h0M287.8 205.0h0M287.6 216.7h0M286.6 220.8h0M286.7 208.9h0M287.6 224.2h0M293.1 225.2h0M296.4 210.4h0M287.2 218.7h0M284.5 206.3h0M291.5 203.8h0M290.4 220.2h0M293.2 222.3h0M284.3 211.8h0M291.1 219.4h0M287.1 222.4h0M284.7 217.9h0M295.6 218.5h0M293.0 204.8h0M297.9 210.1h0M286.2 214.8h0M293.5 207.3h0M289.8 208.6h0M291.7 201.4h0M286.6 222.6h0M288.9 203.2h0M291.3 213.2h0M291.7 207.4h0M293.9 206.1h0M294.9 224.6h0M290.8 202.4h0M289.6 225.5h0M312.9 214.7h0M302.6 203.7h0M305.8 206.2h0M312.3 194.9h0M311.8 195.9h0M300.6 188.2h0M310.8 195.2h0M303.8 195.7h0M301.1 189.2h0M303.8 189.7h0M305.3 208.0h0M300.9 187.2h0M299.8 189.2h0M311.2 195.0h0M301.8 203.3h0M302.2 201.8h0M299.6 200.4h0M308.8 203.5h0M309.8 206.3h0M311.7 189.4h0M301.6 205.3h0M312.5 192.7h0M309.2 189.0h0M301.8 189.2h0M313.2 197.9h0M307.8 206.1h0M311.6 194.9h0M304.0 205.9h0M303.5 200.9h0M307.6 192.5h0M310.9 201.5h0M308.7 199.7h0M299.6 192.9h0M300.3 190.2h0M309.5 202.1h0M307.8 188.8h0M300.1 189.4h0M307.8 207.4h0M313.2 190.5h0M301.6 208.6h0M305.6 193.5h0M309.8 187.8h0M310.8 204.5h0M304.1 205.2h0M310.5 190.5h0M300.6 189.4h0M303.1 202.6h0M313.2 195.4h0M302.8 189.7h0M311.9 188.0h0M300.1 191.8h0M304.9 194.3h0M303.9 198.3h0M302.2 193.6h0M305.4 191.6h0M310.3 197.1h0M302.2 198.9h0M303.9 210.1h0M303.9 205.3h0M310.4 193.8h0M304.3 210.0h0M310.6 204.4h0M302.3 199.6h0M308.3 200.4h0M310.7 210.0h0M307.9 202.6h0M311.9 199.2h0M302.6 201.1h0M305.4 189.0h0M305.6 189.5h0M309.9 198.6h0M300.8 189.1h0M308.6 206.4h0M305.0 199.1h0M301.7 205.3h0M309.7 202.5h0M304.4 207.8h0M307.0 205.4h0M305.9 204.2h0M300.3 195.0h0M312.3 206.1h0M313.1 193.8h0M310.7 193.2h0M309.1 191.8h0M304.2 196.0h0M304.5 192.4h0M305.3 199.8h0M306.0 205.5h0M311.6 204.5h0M305.8 204.7h0M310.4 195.5h0M308.1 191.1h0M304.8 201.7h0M306.4 206.4h0M301.3 204.6h0M310.7 191.2h0M309.3 197.8h0M311.2 193.4h0M312.1 194.4h0M301.0 205.2h0M299.6 197.9h0M306.8 198.4h0M300.3 207.7h0M305.8 207.1h0M307.8 206.6h0M310.2 190.0h0M302.1 189.6h0M302.0 209.5h0M309.8 196.1h0M300.6 204.8h0M308.1 195.6h0M303.0 195.7h0M300.6 207.5h0M305.5 197.3h0M311.8 200.0h0M310.7 200.8h0M301.8 193.2h0M310.3 209.3h0M308.5 193.2h0M309.4 200.8h0M313.0 207.9h0M299.6 206.5h0M302.5 202.1h0M306.6 200.1h0M302.9 195.0h0M303.7 196.0h0M313.0 193.0h0M311.6 202.2h0M308.0 202.0h0M308.2 203.1h0M311.9 207.7h0M309.0 188.2h0M302.3 199.4h0M308.5 207.9h0M301.0 206.9h0M308.8 191.5h0M300.4 199.5h0M309.4 199.1h0M305.1 208.5h0M303.0 199.4h0M308.4 191.0h0M305.6 188.1h0M299.8 191.8h0M312.2 198.8h0M304.5 192.1h0M301.5 196.0h0M300.1 201.1h0M303.6 191.7h0M306.8 198.9h0M300.7 195.1h0M306.3 194.8h0M307.4 207.1h0M300.6 207.1h0M311.9 200.1h0M306.6 192.0h0M308.9 198.6h0M307.1 204.5h0M312.1 208.9h0M301.3 196.8h0M312.9 187.4h0M311.9 207.2h0M307.5 200.5h0M308.6 192.3h0M302.0 197.9h0M302.5 207.9h0M303.2 208.5h0M311.8 192.3h0M300.7 193.2h0M299.4 196.5h0M310.3 203.3h0M307.9 187.1h0M306.8 188.9h0M308.8 195.6h0M301.7 193.2h0M299.4 209.7h0M306.0 195.3h0M302.5 188.3h0M312.7 207.0h0M302.9 205.6h0M311.2 205.8h0M299.9 188.0h0M300.5 189.7h0M304.1 206.1h0M310.5 213.7h0M303.7 208.0h0M303.4 191.0h0M306.0 198.1h0M299.7 208.5h0M312.3 201.2h0M309.8 189.4h0M310.9 191.5h0M301.6 200.7h0M308.0 209.8h0M304.6 197.9h0M305.9 202.5h0M309.2 201.8h0M304.7 189.7h0M307.7 211.2h0M312.2 190.3h0M300.5 194.4h0M300.1 204.1h0M306.2 197.4h0M311.1 201.4h0M300.7 203.5h0M309.9 207.1h0M299.5 192.6h0M299.5 201.0h0M308.9 198.7h0M302.2 194.1h0M303.4 187.8h0M299.7 192.4h0M299.6 187.3h0M308.5 205.6h0M305.0 190.9h0M307.5 204.3h0M302.3 204.1h0M305.2 207.2h0M301.3 212.3h0M311.8 190.2h0M305.3 204.9h0M307.9 201.1h0M304.6 213.5h0M302.8 196.6h0M309.9 209.7h0M306.3 211.5h0M308.3 195.6h0M310.4 193.2h0M306.9 197.7h0M303.2 204.2h0M309.5 189.5h0M304.5 193.6h0M310.6 203.0h0M301.8 187.8h0M302.4 190.6h0M308.0 203.2h0M312.4 204.9h0M304.8 194.7h0M308.1 209.3h0M306.6 195.4h0M300.4 207.9h0M302.5 203.8h0M303.7 192.6h0" stroke="#009496"/>
<path d="M193.0 302.7h0M179.5 287.3h0M149.8 289.7h0M182.7 295.9h0M152.5 291.1h0M190.0 294.3h0M144.7 289.9h0M175.5 295.6h0M165.9 288.9h0M198.3 288.8h0M196.1 301.2h0M178.5 293.5h0M203.4 296.7h0M197.0 288.0h0M178.6 294.9h0M185.7 290.2h0M178.1 291.2h0M179.4 290.8h0M177.3 286.8h0M200.4 292.9h0M180.1 293.8h0M187.3 293.9h0M178.5 296.6h0M185.2 297.1h0M200.7 290.1h0M183.0 288.5h0M155.8 287.7h0M155.7 288.9h0M180.2 297.0h0M194.4 289.6h0M203.4 302.4h0M169.7 287.9h0M200.0 293.6h0M186.6 288.9h0M191.7 292.0h0M196.2 292.8h0M192.3 287.8h0M195.4 298.9h0M201.0 290.5h0M199.4 296.5h0M172.1 290.0h0M196.3 289.5h0M154.6 285.6h0M184.4 288.2h0M146.7 288.1h0M202.9 296.1h0M166.5 300.0h0M150.1 287.5h0M193.4 294.4h0M189.9 294.4h0M180.1 289.5h0M183.0 292.5h0M154.4 294.3h0M169.4 287.7h0M202.5 294.9h0M178.2 293.3h0M186.5 291.3h0M199.1 304.3h0M180.1 295.9h0M180.1 293.1h0M180.6 293.5h0M190.2 288.9h0M166.4 293.4h0M184.3 291.4h0M184.9 290.9h0M199.0 289.9h0M163.6 288.4h0M192.1 298.3h0M175.8 287.9h0M198.0 290.9h0M142.4 285.1h0M180.8 286.9h0M181.8 289.8h0M189.9 297.8h0M165.9 294.9h0M148.2 288.7h0M158.0 286.1h0M190.7 287.9h0M139.0 285.9h0M178.0 289.2h0M156.1 287.8h0M170.0 290.3h0M200.3 292.6h0M203.3 296.7h0M186.3 300.2h0M197.2 297.6h0M173.8 287.1h0M191.6 294.8h0M194.6 291.7h0M186.4 293.1h0M154.4 288.5h0M187.0 292.3h0M142.9 286.8h0M142.8 289.3h0M200.8 295.1h0M174.8 292.9h0M150.3 285.2h0M201.3 293.2h0M199.6 298.4h0M175.6 290.4h0M178.5 286.3h0M202.1 301.7h0M172.8 290.4h0M183.3 287.0h0M189.0 296.7h0M199.6 292.0h0M185.0 297.9h0M192.7 289.2h0M199.2 291.6h0M199.1 288.4h0M180.6 288.3h0M140.0 285.8h0M186.1 288.4h0M177.7 289.4h0M201.2 301.9h0M205.1 295.4h0M178.4 291.0h0M201.4 297.1h0M190.9 287.5h0M170.6 289.1h0M197.4 288.0h0M167.3 290.3h0M146.7 291.7h0M193.8 287.7h0M165.2 293.3h0M187.7 289.4h0M175.0 289.7h0M201.6 293.2h0M205.0 300.3h0M191.0 289.0h0M184.8 293.2h0M137.8 288.0h0M201.9 293.1h0M159.0 293.8h0M198.1 292.1h0M164.0 289.6h0M197.1 289.5h0M171.2 290.8h0M182.9 289.7h0M163.8 293.3h0M159.2 290.1h0M174.5 294.1h0M204.1 292.4h0M198.4 291.8h0M194.0 287.4h0M153.0 290.0h0M192.1 294.1h0M194.3 299.1h0M180.6 294.2h0M146.8 287.8h0M201.7 290.0h0M144.9 292.1h0M176.0 286.9h0M155.6 289.3h0M162.0 290.3h0M197.0 296.7h0M192.8 294.2h0M138.4 287.6h0M158.1 297.6h0M187.8 294.3h0M185.7 290.0h0M193.1 293.3h0M148.9 285.8h0M161.0 295.2h0M171.6 294.4h0M198.0 292.0h0M203.7 289.1h0M185.8 287.9h0M181.4 288.9h0M182.9 294.8h0M180.3 295.6h0M192.8 295.8h0M196.9 288.4h0M162.0 285.7h0M144.7 288.0h0M180.5 290.8h0M185.0 288.0h0M184.9 296.2h0M161.5 288.4h0M180.6 295.0h0M202.2 292.7h0M197.4 291.0h0M165.8 290.9h0M203.1 291.2h0M183.4 289.8h0M195.8 299.8h0M183.2 292.7h0M180.7 296.3h0M168.9 291.9h0M162.3 286.9h0M188.3 290.1h0M191.6 291.5h0M190.8 289.9h0M204.2 297.9h0M186.2 287.3h0M138.5 286.0h0M154.7 286.0h0M152.0 285.6h0M188.8 296.8h0M178.2 293.4h0M140.2 285.5h0M196.5 294.3h0M189.0 293.6h0M167.0 286.2h0M184.6 293.9h0M177.4 288.6h0M195.3 293.1h0M185.2 289.5h0M187.5 299.3h0M186.5 295.2h0M159.7 287.1h0M191.2 289.1h0M174.0 290.1h0M154.2 286.6h0M155.5 291.0h0M201.9 293.2h0M176.0 292.8h0M202.1 301.7h0M176.0 286.2h0M173.3 288.1h0M185.7 294.8h0M204.4 298.9h0M136.5 284.7h0M159.9 292.8h0M190.3 290.3h0M173.2 292.4h0M168.3 289.5h0M148.8 287.1h0M173.0 290.1h0M149.4 289.5h0M191.7 298.3h0M189.8 289.8h0M163.5 286.7h0M191.1 292.5h0M163.0 291.0h0M188.3 296.5h0M201.5 292.6h0M149.9 286.7h0M168.2 293.5h0M149.4 292.8h0M157.9 288.0h0M142.2 289.2h0M171.7 287.4h0M176.2 291.3h0M204.4 296.0h0M195.6 296.1h0M189.7 294.3h0M182.1 296.1h0M137.6 291.5h0M156.6 287.7h0M202.6 291.0h0M184.5 292.8h0M171.2 290.5h0M180.6 296.1h0M204.2 290.8h0M199.5 297.3h0M170.2 291.1h0M171.6 292.6h0M192.4 287.9h0M201.6 301.3h0M205.3 300.7h0M197.5 299.1h0M181.1 296.9h0M172.5 291.9h0M202.3 292.3h0M200.1 291.1h0M196.7 298.2h0M188.5 290.0h0M177.0 289.7h0M181.1 294.7h0M168.4 295.2h0M140.4 284.8h0M185.0 295.4h0M157.7 289.1h0M198.4 290.2h0M185.9 295.7h0M180.0 294.6h0M190.4 295.9h0M197.9 295.8h0M182.1 289.3h0M179.3 289.1h0M191.0 292.1h0M202.8 290.7h0M203.1 292.9h0M201.7 290.0h0M144.7 285.3h0M188.1 290.4h0M197.8 289.1h0M200.4 302.2h0M161.9 289.4h0M195.2 298.4h0M185.1 287.9h0M169.1 291.1h0M156.9 290.3h0M172.2 291.8h0M184.8 297.2h0M198.8 289.2h0M192.1 300.6h0M172.4 291.7h0M177.2 287.8h0M199.3 302.1h0M176.8 300.9h0M203.4 298.8h0M181.0 290.3h0M141.1 288.2h0M159.5 287.1h0M200.3 288.0h0M153.2 288.2h0M139.1 286.0h0M149.8 286.0h0M181.2 287.6h0M173.9 293.6h0M179.4 288.3h0M201.0 288.1h0M199.2 299.4h0M180.4 290.8h0M178.9 288.3h0M195.8 288.5h0M186.5 289.5h0M165.9 291.9h0M184.3 287.2h0M204.0 288.6h0M165.4 288.1h0M140.6 285.6h0M173.6 286.5h0M194.0 292.7h0M140.6 286.6h0M192.6 294.1h0M183.8 287.1h0M167.5 291.3h0M198.5 288.9h0M198.3 296.7h0M201.8 292.4h0M171.7 286.8h0M175.0 291.9h0M168.9 286.2h0M181.5 293.3h0M181.8 293.5h0M181.4 290.0h0M169.5 288.6h0M166.1 290.8h0M159.3 288.3h0M176.6 286.4h0M183.2 287.3h0M195.5 305.9h0M183.1 294.7h0M163.0 287.4h0M151.1 286.3h0M169.6 286.5h0M190.7 295.3h0M176.1 287.0h0M163.5 293.1h0M163.1 287.9h0M187.9 291.5h0M184.0 288.7h0M196.9 297.4h0M160.3 289.3h0M170.8 293.6h0M197.9 293.1h0M189.1 296.8h0M190.8 290.7h0M201.8 297.9h0M170.0 292.5h0M167.6 290.6h0M194.4 289.4h0M137.9 285.4h0M199.2 290.4h0M172.1 290.6h0M182.7 292.1h0M193.8 299.1h0M187.5 296.8h0M168.8 288.7h0M184.0 298.5h0M152.3 289.2h0M196.7 300.4h0M199.1 294.2h0M164.1 290.7h0M192.5 292.5h0M197.0 304.1h0M178.7 286.7h0M172.1 290.5h0M183.2 290.3h0M186.6 297.9h0M190.3 293.3h0M205.0 299.7h0M157.2 289.5h0M202.9 291.8h0M153.6 287.3h0M141.2 291.3h0M198.0 292.9h0M161.4 288.6h0M193.9 289.8h0M184.9 294.8h0M198.0 294.0h0M145.3 285.2h0M178.8 296.5h0M181.3 286.7h0M157.7 286.9h0M192.9 296.8h0M151.6 292.7h0M189.9 296.4h0M201.0 290.6h0M171.8 287.0h0M196.1 295.9h0M165.0 287.0h0M140.9 286.2h0M166.2 286.7h0M150.9 288.7h0M176.7 289.9h0M178.8 291.1h0M198.8 292.7h0M177.1 290.2h0M158.2 286.1h0M179.1 289.7h0M189.2 290.6h0M175.1 289.6h0M168.2 287.9h0M150.7 288.4h0M173.0 287.7h0M179.2 291.3h0M184.6 289.0h0M186.7 288.1h0M205.0 297.0h0M179.9 293.8h0M186.2 287.7h0M181.0 296.0h0M156.6 287.4h0M204.7 298.5h0M184.2 290.1h0M153.3 288.2h0M184.5 289.3h0M172.1 287.9h0M138.9 285.2h0M167.7 287.0h0M175.7 290.9h0M164.4 286.4h0M173.2 293.0h0M187.6 290.1h0M184.2 295.0h0M170.8 290.1h0M202.7 296.6h0M152.0 286.5h0M195.3 298.1h0M153.8 285.7h0M178.9 295.1h0M204.3 295.7h0M182.0 291.8h0M191.7 290.8h0M203.2 302.3h0M202.4 296.2h0M175.0 290.1h0M146.9 290.1h0M182.5 291.0h0M202.9 302.4h0M187.6 287.3h0M192.0 293.0h0M201.4 294.7h0M180.6 287.0h0M203.2 295.7h0M140.0 287.9h0M149.2 291.0h0M147.6 285.5h0M142.0 286.8h0M173.0 293.5h0M193.8 294.0h0M169.8 287.7h0M157.0 286.0h0M169.9 291.0h0M172.8 291.1h0M182.1 292.7h0M172.0 296.0h0M155.1 288.1h0M189.7 290.5h0M189.5 297.2h0M187.8 298.6h0M194.0 288.7h0M152.1 287.3h0M188.5 288.7h0M161.5 290.4h0M145.5 287.9h0M181.9 293.9h0M192.8 298.1h0M190.6 295.8h0M142.0 285.3h0M148.4 286.9h0M166.7 291.1h0M160.9 286.8h0M201.6 300.6h0M195.2 295.7h0M200.2 289.1h0M149.5 287.9h0M181.2 286.9h0M178.7 289.7h0M196.2 288.9h0M175.1 289.5h0M203.9 300.7h0M141.2 289.8h0M192.5 292.9h0M190.8 292.9h0M161.0 287.8h0M186.3 301.1h0M184.0 296.3h0M197.4 295.3h0M141.5 288.9h0M187.1 290.8h0M159.0 287.1h0M140.8 285.2h0M142.9 285.4h0M165.4 292.4h0M179.5 293.3h0M175.6 289.2h0M179.8 286.5h0M188.0 293.3h0M177.1 290.1h0M168.2 290.1h0M160.1 288.5h0M160.0 295.1h0M161.0 286.5h0M167.2 289.1h0M187.9 293.0h0M203.9 301.0h0M190.4 298.3h0M160.9 292.0h0M157.0 285.5h0M176.9 286.4h0M200.4 298.4h0M186.3 292.3h0M199.4 293.5h0M202.7 301.0h0M187.4 293.0h0M179.2 296.1h0M143.6 284.9h0M150.9 285.7h0M200.3 296.2h0M185.1 296.7h0M163.7 290.7h0M144.6 286.3h0M169.7 289.1h0M185.5 294.9h0M201.4 299.2h0M158.8 291.5h0M148.0 287.2h0M180.0 287.4h0M200.4 295.5h0M177.8 294.7h0M195.1 297.0h0M139.0 287.5h0M188.3 293.1h0M150.0 286.8h0M202.9 293.9h0M180.5 287.9h0M203.6 296.9h0M171.6 286.4h0M171.9 286.0h0M168.9 292.1h0M175.2 290.5h0M156.8 287.5h0M194.7 298.7h0M192.3 298.4h0M181.7 287.6h0M189.7 294.0h0M182.0 288.7h0M200.4 289.2h0M179.6 292.7h0M161.8 292.7h0M200.5 295.5h0M173.6 292.1h0M173.3 293.8h0M188.2 295.8h0M166.6 286.6h0M198.8 289.5h0M155.9 288.5h0M157.1 297.7h0M137.7 285.9h0M191.7 291.7h0M172.0 291.5h0M204.8 301.2h0M194.3 290.3h0M202.3 298.9h0M167.6 290.4h0M199.7 291.9h0M174.9 291.2h0M172.0 290.7h0M154.8 293.6h0M196.4 298.2h0M165.0 287.2h0M174.7 295.6h0M200.2 292.6h0M182.8 296.3h0M151.7 287.2h0M182.2 295.2h0M156.9 293.8h0M139.2 289.0h0M194.4 293.1h0M179.1 293.0h0M190.2 292.6h0M190.3 296.7h0M196.7 292.9h0M147.7 287.0h0M200.6 300.7h0M197.2 294.4h0M188.1 293.0h0M182.4 290.1h0M148.1 288.9h0M158.9 288.7h0M192.4 298.3h0M202.9 291.9h0M195.7 288.0h0M173.2 294.4h0M158.9 292.2h0M175.2 289.5h0M172.7 287.9h0M198.2 297.3h0M139.2 285.2h0M195.9 293.1h0M191.3 288.0h0M176.1 291.5h0M192.3 288.4h0M195.3 295.3h0M194.2 290.5h0M186.6 288.8h0M177.2 287.8h0M204.8 295.6h0M138.8 290.3h0M179.8 287.2h0M183.0 287.8h0M159.2 288.8h0M203.9 288.8h0M168.0 287.8h0M143.9 287.8h0M172.9 287.8h0M172.9 290.6h0M167.1 291.4h0M157.4 287.4h0M184.8 292.9h0M194.9 304.7h0M183.2 302.2h0M199.5 291.8h0M191.8 298.4h0M186.5 293.1h0M167.6 288.8h0M204.8 288.4h0M141.8 286.3h0M203.4 289.7h0M184.9 293.1h0M186.7 294.0h0M189.5 287.4h0M193.9 293.0h0M169.3 287.1h0M154.5 290.5h0M168.1 286.6h0M170.1 294.8h0M177.9 288.5h0M171.1 290.9h0M154.9 291.6h0M187.4 296.9h0M163.5 286.1h0M198.9 295.6h0M193.4 289.3h0M150.2 288.2h0M184.6 293.1h0M174.1 289.1h0M202.3 290.6h0M157.3 294.7h0M144.8 290.1h0M191.4 297.2h0M188.7 299.8h0M168.6 288.6h0M204.7 288.5h0M200.5 294.0h0M202.2 297.7h0M193.0 295.9h0M139.6 290.9h0M144.9 285.2h0M170.3 290.4h0M176.8 286.4h0M182.5 289.9h0M204.1 301.4h0M169.6 291.5h0M198.6 292.3h0M178.7 295.6h0M203.1 302.7h0M190.4 287.7h0M156.7 285.7h0M176.0 292.6h0M156.8 287.6h0M186.1 294.7h0M202.6 294.8h0M199.1 295.9h0M138.3 289.1h0M160.7 289.7h0M173.2 294.6h0M204.4 301.4h0M196.5 294.7h0M178.1 295.6h0M200.0 288.4h0M178.4 293.9h0M174.1 294.2h0M189.3 294.3h0M169.1 292.8h0" stroke="#00868f"/>
<path d="M287.9 199.4h0M176.3 264.1h0M263.8 205.3h0M163.9 284.4h0M206.1 223.3h0M296.5 195.8h0M230.2 223.9h0M172.0 255.1h0M189.2 272.5h0M177.5 281.8h0M287.6 181.7h0M302.9 180.1h0M223.0 255.6h0M193.7 254.5h0M260.2 203.0h0M240.5 230.4h0M163.3 253.3h0M240.2 239.9h0M176.8 264.5h0M165.5 256.5h0M240.8 227.8h0M262.6 196.2h0M201.5 268.9h0M178.7 285.0h0M201.9 239.1h0M216.4 233.5h0M283.0 204.3h0M209.2 242.0h0M258.1 221.8h0M240.3 236.1h0M198.8 268.2h0M231.3 250.5h0M271.8 190.4h0M193.9 228.6h0M298.8 182.8h0M194.0 276.3h0M209.6 241.2h0M189.1 262.8h0M232.4 247.1h0M224.7 216.3h0M281.6 190.4h0M297.0 184.7h0M209.0 250.8h0M254.4 220.6h0M225.6 241.7h0M246.3 215.3h0M271.2 173.9h0M175.7 251.8h0M245.0 232.2h0M233.7 218.3h0M208.1 232.2h0M139.9 281.7h0M221.3 244.0h0M294.0 166.2h0M229.7 222.0h0M178.7 285.3h0M146.5 274.5h0M240.6 203.0h0M159.2 273.9h0M182.6 253.2h0M226.5 217.4h0M181.9 258.3h0M282.6 177.9h0M255.5 201.5h0M224.9 224.4h0M159.2 266.6h0M254.8 221.7h0M261.3 210.0h0M230.5 207.9h0M282.5 212.4h0M263.6 191.0h0M178.0 258.1h0M234.6 227.8h0M192.0 252.4h0M261.9 199.3h0M168.3 283.4h0M150.9 275.7h0M276.1 204.5h0M238.0 232.6h0M243.0 220.2h0M212.0 257.2h0M254.0 201.6h0M211.3 224.4h0M262.8 205.9h0M218.7 231.2h0M163.4 262.8h0M187.2 254.3h0M283.6 196.6h0M251.5 219.5h0M280.6 187.2h0M235.8 231.4h0M187.4 274.9h0M172.3 260.2h0M305.4 186.1h0M233.9 219.9h0M242.7 218.9h0M228.5 233.0h0M261.9 195.1h0M183.2 267.3h0M273.8 186.3h0M217.6 210.8h0M145.1 271.7h0M171.6 261.3h0M172.8 260.3h0M225.9 239.4h0M211.3 258.7h0M310.3 161.7h0M268.1 202.2h0M159.6 274.3h0M203.0 232.9h0M257.7 227.2h0M269.7 201.9h0M224.4 212.9h0M255.6 222.0h0M229.4 245.9h0M178.1 243.4h0M238.0 230.4h0M236.3 221.1h0M208.9 233.0h0M185.6 251.4h0M154.2 270.5h0M284.6 198.0h0M291.4 181.7h0M200.2 235.6h0M307.4 149.1h0M255.7 226.1h0M138.3 280.6h0M257.5 191.8h0M282.8 182.7h0M287.2 174.4h0M250.4 210.3h0M283.9 153.7h0M156.2 277.1h0M183.7 270.7h0M291.1 186.0h0M164.3 254.6h0M166.0 268.7h0M238.2 211.9h0M214.4 224.6h0M286.1 199.4h0M168.1 266.7h0M260.6 191.4h0M273.8 177.6h0M146.0 278.9h0M227.8 238.9h0M176.8 263.7h0M205.5 233.5h0M234.3 249.3h0M267.4 202.2h0M274.9 210.6h0M293.1 177.7h0M297.3 161.8h0M260.5 223.1h0M301.1 170.0h0M245.5 208.3h0M173.5 255.5h0M168.5 256.8h0M308.4 170.4h0M194.3 264.5h0M225.8 222.0h0M175.5 251.1h0M235.6 242.5h0M304.3 184.6h0M194.8 277.8h0M282.8 210.9h0M250.6 220.7h0M250.8 226.8h0M149.4 278.1h0M217.8 224.8h0M227.2 208.6h0M270.0 198.5h0M179.9 272.7h0M212.7 226.4h0M306.0 156.0h0M226.4 227.9h0M280.3 210.6h0M288.8 195.2h0M188.4 245.0h0M187.3 259.7h0M179.8 244.4h0M242.4 203.1h0M223.7 228.3h0M300.5 177.0h0M312.4 158.4h0M217.9 219.7h0M175.5 277.7h0M243.6 218.5h0M246.4 214.9h0M156.1 274.2h0M217.4 220.7h0M297.7 178.6h0M282.3 192.3h0M200.1 263.6h0M261.6 212.3h0M206.5 257.2h0M228.9 211.8h0M307.8 158.7h0M180.0 268.7h0M261.3 208.8h0M250.6 215.9h0M155.5 282.1h0M209.9 231.6h0M276.0 212.1h0M251.3 200.8h0M166.6 261.2h0M210.8 267.9h0M298.0 178.2h0M260.6 222.1h0M211.3 252.0h0M218.7 242.9h0M260.1 179.0h0M234.9 217.7h0M211.0 264.5h0M283.2 174.3h0M160.9 268.4h0M217.3 244.3h0M157.4 275.7h0M211.4 236.1h0M189.0 238.7h0M221.0 243.8h0M311.1 171.2h0M249.0 198.8h0M239.6 230.2h0M220.0 242.2h0M200.3 268.3h0M272.2 199.9h0M285.8 197.2h0M200.4 257.4h0M223.5 239.0h0M205.8 239.9h0M274.8 202.2h0M202.4 274.5h0M174.0 275.1h0M233.8 205.3h0M261.6 201.9h0M294.7 186.6h0M282.3 199.0h0M171.3 253.9h0M282.8 185.3h0M292.1 194.0h0M215.0 234.2h0M262.0 211.6h0M189.7 239.2h0M243.3 214.3h0M166.4 273.7h0M224.8 228.3h0M140.5 281.3h0M215.6 208.1h0M153.6 263.5h0M227.6 240.0h0M247.3 209.8h0M154.5 269.0h0M251.5 216.4h0M157.4 257.2h0M197.4 276.3h0M223.5 209.6h0M191.4 270.9h0M215.6 219.5h0M311.8 172.8h0M222.3 228.0h0M145.6 275.2h0M202.0 253.0h0M206.0 267.9h0M226.0 224.6h0M230.8 251.4h0M242.1 235.9h0M173.6 256.8h0M303.1 165.8h0M180.9 273.7h0M197.5 235.3h0M209.0 262.2h0M241.8 208.9h0M228.9 246.8h0M180.7 264.3h0M281.3 206.3h0M203.7 237.3h0M249.3 211.9h0M310.6 159.6h0M247.0 206.1h0M141.1 274.4h0M282.9 210.3h0M244.5 231.5h0M241.2 230.9h0M268.8 194.6h0M158.1 271.1h0M151.3 275.9h0M279.2 191.6h0M158.7 279.6h0M206.6 251.2h0M225.5 212.2h0M219.7 230.9h0M310.7 182.7h0M230.1 232.2h0M190.9 262.1h0M293.7 172.7h0M219.0 261.4h0M238.4 209.2h0M161.8 279.8h0M183.7 247.1h0M201.9 259.5h0M216.3 234.8h0M282.0 188.3h0M202.6 238.3h0M214.3 249.3h0M278.7 188.1h0M184.0 265.3h0M304.3 184.1h0M219.2 230.4h0M213.3 245.7h0M273.4 186.3h0M254.7 219.7h0M199.6 261.4h0M152.3 254.4h0M244.6 230.5h0M274.8 189.6h0M216.1 266.2h0M177.5 279.4h0M167.1 254.8h0M217.2 250.2h0M238.4 236.6h0M207.0 259.3h0M186.7 248.7h0M237.7 212.6h0M262.3 214.6h0M280.8 202.0h0M189.2 245.6h0M276.0 201.5h0M219.2 233.6h0M184.6 282.4h0M279.5 211.5h0M198.3 242.0h0M295.0 194.2h0M281.7 203.3h0M288.9 188.5h0M306.4 157.9h0M307.1 181.6h0M243.6 195.1h0M237.9 224.8h0M158.2 275.7h0M227.1 221.5h0M220.0 246.7h0M260.8 190.4h0M278.0 201.1h0M202.8 255.2h0M229.9 246.0h0M188.8 275.6h0M223.6 251.4h0M262.7 191.1h0M261.9 224.4h0M229.3 247.3h0M193.6 285.4h0M249.4 191.6h0M164.1 252.4h0M224.4 237.2h0M183.1 266.1h0M148.0 276.9h0M237.0 238.1h0M165.3 254.8h0M271.7 206.7h0M239.5 237.3h0M300.0 173.3h0M217.5 243.6h0M285.0 192.1h0M217.6 270.4h0M261.6 203.0h0M221.0 244.7h0M263.8 202.3h0M242.3 204.6h0M137.6 271.7h0M173.9 279.0h0M249.0 226.1h0M175.8 263.5h0M217.4 258.4h0M168.5 278.6h0M157.3 268.8h0M266.4 209.0h0M217.1 246.1h0M287.0 169.2h0M171.3 260.9h0M281.9 191.5h0M304.6 162.6h0M177.9 279.8h0M152.0 262.0h0M194.1 268.7h0M274.4 210.4h0M247.2 228.1h0M304.2 175.0h0M312.1 148.0h0M231.5 230.5h0M271.2 192.9h0M152.9 283.6h0M234.0 217.0h0M240.2 236.9h0M235.0 225.9h0M263.7 190.2h0M232.3 221.1h0M205.6 281.1h0M202.0 266.3h0M188.4 255.3h0M138.1 273.7h0M195.0 276.8h0M162.1 271.4h0M249.3 231.5h0M247.6 233.8h0M215.4 262.2h0M208.8 254.9h0M228.1 250.3h0M143.7 272.1h0M192.1 239.0h0M259.6 205.4h0M243.9 213.1h0M288.4 198.2h0M214.9 245.1h0M250.9 233.9h0M247.0 206.0h0M189.1 256.0h0M233.5 234.6h0M263.6 218.9h0M204.8 250.3h0M159.5 277.0h0M202.5 237.4h0M303.3 170.3h0M192.5 243.6h0M205.2 277.1h0M305.6 176.1h0M195.3 286.4h0M179.5 249.6h0M292.5 161.0h0M302.3 172.9h0M270.1 210.4h0M157.1 283.3h0M254.6 202.4h0M264.2 187.0h0M160.9 258.1h0M246.0 223.9h0M217.1 227.5h0M303.0 176.7h0M180.1 265.8h0M240.3 202.2h0M256.7 220.4h0M268.4 194.9h0M270.5 187.4h0M265.6 220.5h0M274.4 157.0h0M229.5 231.0h0M291.6 195.0h0M219.7 232.5h0M206.1 245.2h0M261.7 192.5h0M303.5 173.1h0M288.7 188.9h0M247.0 202.6h0M206.0 285.3h0M280.4 186.8h0M229.8 249.0h0M223.7 236.8h0M307.2 160.6h0M207.1 265.1h0M221.2 244.6h0M169.8 263.4h0M309.3 149.6h0M184.0 278.4h0M256.1 208.9h0M185.9 277.4h0M170.8 257.8h0M294.4 170.9h0M242.8 233.3h0M235.7 228.9h0M247.5 233.7h0M268.0 200.7h0M234.2 252.2h0M227.5 213.0h0M231.1 246.2h0M156.3 270.3h0M203.5 259.8h0M263.9 202.4h0M176.1 268.8h0M257.2 201.9h0M173.3 250.0h0M283.6 206.5h0M190.9 259.2h0M184.1 283.0h0M222.9 251.2h0M245.4 232.8h0M273.9 213.1h0M148.5 275.6h0M240.6 221.3h0M252.8 216.4h0M262.0 202.2h0M260.3 225.6h0M277.2 190.6h0M266.5 188.7h0M205.7 267.4h0M204.7 227.0h0M253.7 180.3h0M272.7 182.1h0M210.5 242.7h0M234.8 213.7h0M282.7 204.2h0M295.3 173.7h0M260.6 210.8h0M193.2 282.4h0M196.3 256.7h0M245.0 232.4h0M185.8 267.1h0M191.7 265.1h0M199.5 264.8h0M292.0 196.5h0M220.9 246.1h0M300.3 181.4h0M181.0 270.3h0M187.8 266.1h0M204.0 240.8h0M219.2 248.1h0M197.4 229.8h0M236.8 204.8h0M262.4 208.5h0M265.6 218.0h0M247.5 220.1h0M190.7 267.4h0M261.7 219.7h0M264.6 221.4h0M242.0 210.9h0M219.4 267.8h0M181.2 262.6h0M239.2 218.0h0M184.7 262.6h0M248.1 213.5h0M297.8 199.8h0M241.4 200.9h0M199.6 256.0h0M156.3 266.6h0M231.1 244.7h0M297.1 198.7h0M217.2 227.8h0M250.3 221.7h0M258.8 185.5h0M137.8 280.4h0M163.3 273.0h0M169.8 274.1h0M257.7 196.9h0M221.5 249.7h0M209.3 259.5h0M213.3 230.0h0M165.0 260.0h0M235.0 224.2h0M185.9 249.7h0M253.7 187.5h0M234.6 226.8h0M183.9 260.8h0M163.5 282.9h0M157.7 272.4h0M192.6 279.3h0M185.1 242.8h0M249.0 204.5h0M225.0 254.6h0M236.8 230.9h0M264.0 205.9h0M279.4 206.2h0M292.9 185.9h0M137.9 279.4h0M234.0 250.6h0M301.7 170.2h0M182.9 283.9h0M302.2 184.9h0M218.4 246.1h0M240.1 233.4h0M157.7 284.1h0M292.0 188.0h0M201.3 259.9h0M145.7 279.7h0M243.5 220.4h0M263.9 209.4h0M257.7 197.7h0M262.7 189.3h0M194.7 278.0h0M303.1 182.9h0M210.9 262.0h0M262.7 221.5h0M160.1 270.9h0M185.2 248.5h0M172.7 281.1h0M197.0 275.2h0M265.5 219.2h0M201.8 251.7h0M285.9 188.6h0M248.7 234.4h0M233.8 238.5h0M244.7 195.7h0M184.7 248.0h0M219.1 228.3h0M153.3 267.8h0M218.6 252.2h0M277.2 212.4h0M291.3 189.3h0M163.9 278.3h0M192.7 249.7h0M262.5 208.5h0M247.3 212.0h0M145.5 271.7h0M235.3 196.5h0M161.2 254.0h0M217.1 233.9h0M270.0 193.8h0M241.4 216.7h0M297.9 169.5h0M180.7 269.6h0M242.7 189.7h0M176.8 263.9h0M138.8 283.1h0M226.5 229.4h0M242.7 202.5h0M242.9 232.8h0M176.4 262.3h0M257.0 217.9h0M200.2 274.2h0M217.1 269.6h0M201.7 260.9h0M231.5 255.2h0M186.0 248.1h0M148.3 281.5h0M234.8 236.9h0M242.5 204.4h0M229.3 216.9h0M144.2 279.9h0M233.8 225.4h0M261.7 161.4h0M228.9 217.9h0M185.1 263.9h0M253.4 213.0h0M201.6 247.5h0M193.7 237.6h0M255.7 207.7h0M157.7 277.7h0M191.8 276.6h0M229.5 236.5h0M220.8 220.6h0M253.7 219.4h0M189.1 283.1h0M301.2 179.7h0M189.6 252.4h0M237.8 232.3h0M270.2 177.5h0M232.9 223.7h0M288.6 175.4h0M267.3 210.5h0M143.0 278.6h0M287.5 180.7h0M269.4 197.7h0M154.6 262.8h0M198.7 275.8h0M174.6 252.5h0M232.5 248.4h0M259.0 197.0h0M248.1 232.3h0M228.8 208.7h0M293.2 168.9h0M220.3 233.9h0M224.6 252.3h0M221.8 255.2h0M251.7 195.3h0M231.9 214.7h0M232.6 234.3h0M143.2 279.3h0M157.7 271.8h0M230.8 244.2h0M157.1 259.6h0M175.8 282.2h0M241.6 216.9h0M205.4 263.6h0M231.1 255.3h0M176.2 248.3h0M248.7 222.4h0M191.5 251.5h0M304.7 169.4h0M202.1 247.7h0M231.1 204.2h0M227.0 252.0h0M160.7 275.0h0M284.5 176.6h0M236.7 214.3h0M195.4 282.4h0M178.7 257.8h0M235.7 231.1h0M240.2 234.6h0M200.0 235.4h0M219.2 235.9h0M244.3 206.2h0M188.9 265.3h0M199.0 279.7h0M281.4 206.8h0M241.0 216.5h0M266.8 186.2h0M220.3 220.3h0M172.0 274.7h0M219.9 237.9h0M221.9 215.9h0M248.8 208.9h0M241.1 224.8h0M157.6 267.3h0M288.8 169.3h0M153.2 259.9h0M226.1 221.1h0M231.1 206.6h0M299.8 172.7h0M292.3 194.8h0M215.8 253.5h0M283.1 212.0h0M191.2 236.6h0M229.5 240.8h0M311.3 139.7h0M226.3 225.9h0M227.2 241.2h0M179.5 267.7h0M179.7 267.9h0M256.6 222.7h0M213.6 223.2h0M281.8 179.5h0M277.4 184.9h0M286.5 189.9h0M239.3 213.7h0M207.6 254.5h0M185.7 249.4h0M239.4 218.6h0M227.5 240.0h0M293.5 170.0h0M252.7 220.8h0M142.8 280.0h0M304.3 184.4h0M201.2 260.9h0M249.5 220.1h0M301.8 172.0h0M261.9 212.0h0M273.4 194.7h0M246.4 208.8h0M201.4 256.7h0M228.7 254.1h0M297.7 176.1h0M158.8 260.1h0M236.4 203.8h0M178.8 269.4h0M247.8 238.3h0M181.3 277.0h0M239.8 221.9h0M239.6 216.8h0M278.9 185.3h0M220.3 237.7h0M248.6 194.6h0M255.4 197.0h0M256.6 200.4h0M186.2 272.4h0M178.5 242.3h0M241.2 233.8h0M253.8 199.6h0M246.2 218.5h0M300.1 177.6h0M287.6 190.8h0M310.5 182.4h0M185.5 280.8h0M305.0 183.9h0M235.9 236.0h0M214.5 252.6h0M200.4 282.7h0M248.5 213.8h0M154.9 281.6h0M150.4 279.4h0M220.8 218.1h0M230.5 220.6h0M288.4 192.3h0M240.4 204.6h0M216.0 257.0h0M225.9 252.6h0M156.4 265.9h0M223.4 232.2h0M251.6 202.2h0M270.2 193.8h0M182.0 279.9h0M216.0 238.1h0M288.5 199.0h0M174.8 269.0h0M229.7 255.6h0M275.8 184.0h0M137.6 272.1h0M233.4 204.5h0M160.3 276.7h0M280.1 205.5h0M229.7 254.0h0M256.3 211.6h0M284.5 191.1h0M308.5 144.2h0M268.6 208.3h0M168.0 266.2h0M208.7 250.0h0M212.2 268.2h0M250.8 212.1h0M208.0 239.8h0M292.2 184.5h0M240.8 200.1h0M146.1 270.1h0M171.7 270.5h0M281.8 204.2h0M288.1 193.5h0M158.1 282.6h0M176.9 245.7h0M241.4 210.4h0M234.9 236.3h0M232.7 222.4h0M266.8 205.8h0M224.2 239.3h0M246.5 203.7h0M175.8 253.5h0M262.6 218.8h0M220.1 251.2h0M152.2 261.9h0M273.4 183.7h0M251.0 221.2h0M157.4 274.7h0M159.3 269.9h0M219.2 252.1h0M240.7 209.4h0M158.8 267.6h0M139.4 274.4h0M139.1 275.3h0M245.0 223.7h0M248.0 211.9h0M235.0 210.5h0M196.7 274.5h0M193.9 245.2h0M237.6 228.2h0M195.0 249.0h0M309.0 182.4h0M263.9 195.2h0M201.7 274.6h0M289.5 173.0h0M162.2 282.1h0M213.4 240.8h0M173.2 258.9h0M199.1 283.0h0M274.7 185.0h0M222.9 232.9h0M236.3 240.5h0M233.6 238.0h0M280.4 175.7h0M287.0 193.7h0M278.3 206.3h0M257.6 193.8h0M223.1 227.8h0M193.3 237.0h0M297.4 195.4h0M296.8 176.0h0M248.5 232.9h0M146.3 281.9h0M264.0 198.2h0M236.4 205.8h0M182.0 269.2h0M308.5 161.0h0M232.7 231.3h0M284.0 176.9h0M210.4 237.2h0M192.5 260.4h0M284.9 180.0h0M295.5 172.6h0M304.3 182.7h0M207.1 230.7h0M190.8 262.2h0M182.0 275.9h0M219.1 264.9h0M240.6 201.2h0M272.0 188.1h0M263.6 194.1h0M182.0 262.6h0M306.8 181.4h0M275.7 204.0h0M167.8 277.4h0M241.4 203.9h0M273.5 204.1h0M166.1 271.8h0M222.1 217.3h0M177.1 250.9h0M215.4 266.7h0M270.6 210.0h0M276.5 201.3h0M297.9 185.2h0M290.1 188.0h0M199.2 285.4h0M282.7 181.1h0M204.3 236.9h0M204.7 281.8h0M278.2 193.1h0M267.1 218.7h0M194.3 285.4h0M187.7 272.5h0M257.6 207.9h0M180.1 244.5h0M307.6 175.4h0M247.7 208.6h0M155.5 279.6h0M242.6 237.1h0M236.2 231.7h0M202.4 256.6h0M241.4 210.4h0M230.7 247.2h0M250.2 229.1h0M308.3 177.9h0M264.7 192.7h0M207.9 267.8h0M213.5 245.5h0M236.0 223.9h0M237.0 217.8h0M238.2 234.0h0M259.4 223.6h0M229.4 234.6h0M266.0 222.5h0M175.4 272.5h0M301.8 184.1h0M251.3 240.1h0M289.6 186.9h0M266.4 226.8h0M257.6 202.4h0M212.2 249.6h0M233.8 246.6h0M245.5 239.9h0M206.5 231.5h0M194.7 256.6h0M165.4 256.6h0M162.4 253.2h0M265.1 221.1h0M172.5 261.4h0M145.8 275.2h0M301.7 182.7h0M276.6 197.3h0M242.1 228.4h0M150.2 266.0h0M254.9 200.3h0M237.6 229.5h0M148.2 271.0h0M206.5 240.3h0M204.7 272.4h0M243.1 212.1h0M221.0 253.0h0M179.7 263.5h0M288.1 185.5h0M285.1 185.4h0M266.0 197.8h0M282.1 212.9h0M297.4 159.5h0M261.9 206.1h0M171.0 254.5h0M233.8 218.1h0M177.9 284.1h0M231.7 207.1h0M282.3 201.7h0M289.4 198.0h0M244.0 215.8h0M305.8 172.3h0M259.4 216.8h0M179.0 275.6h0M217.4 235.9h0M195.0 237.7h0M220.4 252.7h0M212.3 233.8h0M176.5 271.3h0M236.0 208.4h0M200.0 258.1h0M233.6 243.9h0M216.0 241.8h0M254.5 202.1h0M165.2 272.1h0M242.7 207.7h0M287.8 188.9h0M220.3 224.2h0M178.9 277.4h0M296.9 173.0h0M234.7 184.9h0M306.7 165.6h0M197.6 254.9h0M294.9 186.3h0M232.9 243.9h0M288.4 178.0h0M222.5 238.6h0M230.9 226.6h0M223.0 223.7h0M231.3 238.1h0M255.8 214.2h0M165.4 259.4h0M275.3 189.7h0M156.1 264.9h0M164.5 282.4h0M290.3 184.6h0M188.1 281.5h0M229.4 225.2h0M158.8 258.2h0M298.0 190.8h0M266.2 221.3h0M232.6 236.9h0M165.0 261.6h0M254.3 203.3h0M271.5 187.1h0M243.8 239.7h0M290.1 180.7h0M228.5 227.5h0M214.7 248.9h0M263.2 222.1h0M237.8 233.7h0M282.6 203.1h0M247.6 237.4h0M256.9 191.1h0M259.7 227.4h0M309.9 158.1h0M260.7 201.2h0M215.5 252.2h0M276.6 177.3h0M185.0 251.4h0M239.5 225.4h0M216.3 239.1h0M283.6 187.6h0M311.3 147.3h0M199.2 251.4h0M221.9 240.9h0M224.5 243.2h0M184.4 260.4h0M258.4 205.2h0M308.0 174.5h0M158.7 265.1h0M195.6 245.9h0M285.8 198.2h0M234.4 242.0h0M229.2 224.1h0M175.6 258.5h0M192.8 262.2h0M249.6 233.6h0M140.3 278.6h0M230.7 240.5h0M221.6 230.3h0M219.5 265.7h0M207.3 252.3h0M280.2 187.2h0M275.8 187.4h0M192.5 238.9h0M223.8 252.5h0M240.2 228.4h0M249.4 240.2h0M209.5 235.4h0M166.0 255.3h0M214.9 231.6h0M170.3 267.9h0M215.2 243.3h0M211.7 236.9h0M204.4 262.6h0M219.7 265.9h0M161.5 274.2h0M244.5 231.4h0M250.4 219.1h0M156.0 257.3h0M173.0 277.6h0M237.2 212.1h0M211.5 264.9h0M242.6 221.1h0M174.6 258.9h0M140.8 278.9h0M173.3 276.5h0M306.8 176.9h0M168.7 281.7h0M260.7 209.3h0M263.4 210.9h0M242.6 210.5h0M209.0 240.1h0M254.3 207.7h0M208.7 236.4h0M180.6 244.5h0M180.7 284.6h0M242.5 218.9h0M235.6 242.5h0M205.7 251.7h0M257.8 191.4h0M223.7 218.9h0M203.4 286.6h0M233.9 225.7h0M262.9 196.6h0M156.5 283.1h0M229.9 239.3h0M303.6 179.3h0M167.3 249.7h0M226.4 213.9h0M175.0 274.2h0M282.3 204.9h0M160.1 262.9h0M197.7 271.1h0M174.6 262.0h0M312.1 169.2h0M254.2 224.9h0M216.7 230.5h0M241.3 198.6h0M168.5 278.3h0M224.3 222.2h0M311.9 149.6h0M151.6 273.1h0M180.1 267.7h0M218.9 226.9h0M310.0 171.9h0M163.2 253.9h0M296.3 195.9h0M183.5 281.1h0M260.2 198.7h0M219.5 255.9h0M187.7 239.6h0M267.5 213.3h0M234.7 208.1h0M250.4 209.4h0M282.2 190.8h0M218.5 232.3h0M191.1 249.2h0M178.5 282.6h0M170.9 259.9h0M285.4 187.3h0M293.1 193.2h0M169.7 275.7h0M177.9 268.7h0M153.5 283.7h0M259.8 212.6h0M196.8 266.6h0M165.3 255.3h0M196.0 268.7h0M219.0 230.6h0M300.0 169.5h0M306.7 177.3h0M250.0 231.0h0M237.0 218.2h0M253.4 200.2h0M227.4 241.9h0M185.4 247.4h0M220.7 250.3h0M181.5 275.1h0M160.9 280.7h0M158.3 264.7h0M268.8 202.5h0M306.0 159.9h0M233.4 238.8h0M157.4 259.5h0M308.9 166.7h0M308.1 184.5h0M156.1 273.4h0M158.4 255.2h0M195.3 233.6h0M177.7 273.5h0M219.0 264.7h0M193.7 242.4h0M181.8 247.5h0M260.2 197.0h0M277.9 180.4h0M148.8 280.4h0M232.2 244.3h0M215.4 256.3h0M201.3 236.7h0M183.5 259.0h0M236.7 225.3h0M252.9 209.2h0M168.9 283.8h0M174.3 259.2h0M169.9 283.4h0M209.4 237.5h0M160.5 257.7h0M254.4 227.1h0M309.9 146.3h0M271.0 177.4h0M293.0 187.7h0M189.0 243.6h0M217.7 223.4h0M205.9 241.8h0M230.7 252.4h0M185.0 237.5h0M181.4 260.0h0M225.2 210.5h0M208.7 252.5h0M210.4 269.9h0M207.0 232.8h0M199.9 284.8h0M220.3 248.1h0M197.6 276.5h0M249.5 208.8h0M280.1 177.2h0M234.8 230.3h0M294.7 189.9h0M275.7 208.4h0M197.1 254.2h0M181.0 243.8h0M278.0 178.9h0M259.8 224.8h0M223.9 237.6h0M197.5 254.2h0M266.4 190.9h0M181.8 262.4h0M244.1 220.8h0M210.3 242.0h0M252.4 215.1h0M268.9 207.8h0M264.5 226.2h0M310.9 142.1h0M225.0 214.2h0M222.3 252.5h0M210.3 237.6h0M290.7 188.4h0M228.7 215.9h0M227.1 243.6h0M194.1 276.5h0M227.8 246.3h0M249.0 194.9h0M176.7 262.0h0M256.6 198.6h0M222.8 217.0h0M295.8 171.5h0M270.6 176.5h0M158.0 281.8h0M265.4 181.7h0M162.0 263.6h0M172.2 256.1h0M218.0 218.7h0M148.0 283.7h0M175.7 246.9h0M268.1 187.7h0M251.1 238.5h0M299.9 179.1h0M284.5 167.9h0M250.6 202.6h0M171.0 266.8h0M165.6 267.4h0M198.7 231.8h0M239.4 220.0h0M251.0 229.7h0M220.5 230.7h0M188.6 282.4h0M308.7 170.6h0M203.8 235.5h0M286.7 188.5h0M179.7 268.5h0M187.1 247.6h0M196.7 273.8h0M212.4 238.5h0M256.4 212.3h0M245.2 213.6h0M231.5 222.8h0M207.4 234.6h0M218.1 228.7h0M196.6 274.1h0M221.4 255.8h0M178.6 279.4h0M213.1 247.3h0M276.9 193.5h0M191.0 285.7h0M215.5 258.2h0M278.5 205.3h0M241.3 237.5h0M202.1 278.2h0M184.1 265.1h0M281.5 192.6h0M212.2 266.4h0M208.8 238.4h0M223.6 233.8h0M219.9 238.4h0M170.0 267.1h0M243.3 203.2h0M185.2 245.0h0M178.9 268.9h0M210.1 249.6h0M178.4 267.7h0M307.2 161.7h0M139.5 269.2h0M259.2 196.1h0M251.5 212.8h0M225.2 216.5h0M270.9 207.3h0M237.8 214.7h0M180.0 272.2h0M247.1 216.5h0M220.3 266.6h0M283.1 197.3h0M223.0 229.6h0M189.0 249.7h0M265.2 209.5h0M204.4 279.6h0M233.2 216.3h0M253.0 205.4h0M172.1 269.0h0M248.9 237.0h0M215.4 239.5h0M281.6 207.3h0M232.2 253.5h0M310.3 171.5h0M208.9 262.3h0M207.0 245.7h0M223.2 250.6h0M293.5 178.2h0M229.3 215.5h0M190.5 269.8h0M202.3 251.7h0M162.5 261.9h0M159.5 257.1h0M205.5 225.3h0M216.1 261.6h0M227.8 233.9h0M222.1 220.0h0M259.2 187.0h0M189.0 281.5h0M249.2 219.7h0M151.4 266.9h0M248.8 215.8h0M228.8 245.4h0M248.4 224.7h0M251.6 239.3h0M196.5 252.0h0M291.1 181.5h0M168.9 264.5h0M195.5 240.8h0M252.7 215.7h0M175.7 280.4h0M263.1 200.0h0M310.9 157.0h0M270.5 189.6h0M241.7 222.0h0M141.5 278.8h0M229.2 244.5h0M305.7 180.7h0M273.0 208.0h0M302.0 175.2h0M284.7 188.9h0M174.5 279.1h0M241.0 240.4h0M253.2 205.8h0M269.7 199.4h0M192.6 244.9h0M208.1 243.9h0M307.3 171.5h0M207.8 251.1h0M229.1 249.7h0M285.8 182.2h0M262.9 219.0h0M215.6 267.7h0M270.8 200.3h0M187.0 243.5h0M164.1 273.7h0M313.0 164.3h0M246.1 200.5h0M299.3 174.1h0M272.9 203.0h0M172.1 262.3h0M203.3 251.9h0M182.1 241.5h0M252.7 223.6h0M251.3 236.0h0M289.2 181.4h0M163.9 276.8h0M161.1 259.4h0M292.8 165.9h0M222.3 242.4h0M291.4 198.0h0M196.6 246.1h0M166.1 256.2h0M251.3 224.4h0M302.5 161.8h0M164.9 254.8h0M273.5 207.7h0M145.7 279.6h0M272.1 188.4h0M255.6 190.3h0M213.7 223.9h0M223.0 240.5h0M164.0 272.3h0M146.7 275.4h0M312.1 169.1h0M206.4 248.1h0M194.0 257.8h0M287.5 177.6h0M172.0 278.1h0M216.6 226.4h0M235.1 250.7h0M261.8 197.2h0M263.7 221.1h0M266.8 221.4h0M216.6 219.7h0M176.8 250.9h0M248.5 237.5h0M268.3 183.7h0M283.2 193.9h0M175.7 252.3h0M313.1 146.8h0M280.3 187.8h0M239.3 230.2h0M206.7 246.5h0M253.7 226.1h0M143.2 270.8h0M238.1 215.0h0M166.8 259.5h0M262.6 211.3h0M270.5 202.7h0M261.3 197.2h0M246.0 201.9h0M283.6 178.0h0M283.0 181.6h0M182.6 282.5h0M224.8 210.8h0M253.9 199.4h0M170.6 265.3h0M266.9 227.1h0M200.9 228.4h0M231.9 226.5h0M257.4 204.9h0M204.4 239.8h0M264.2 206.2h0M233.4 221.0h0M185.9 261.9h0M233.8 231.8h0M238.3 206.9h0M308.3 155.7h0M253.2 196.3h0M232.0 215.4h0M164.8 274.5h0M234.1 206.9h0M220.9 218.3h0M164.2 270.8h0M289.4 198.3h0M235.4 240.4h0M252.9 210.1h0M235.2 232.7h0M286.6 186.2h0M256.7 225.5h0M187.3 241.2h0M308.7 158.4h0M289.7 193.8h0M219.7 268.7h0M265.0 196.0h0M207.1 268.8h0M204.6 230.1h0M311.6 183.5h0M302.9 183.8h0M139.1 275.9h0M254.3 195.3h0M243.7 187.0h0M230.2 229.1h0M269.6 190.4h0M273.9 212.9h0M229.3 219.6h0M246.4 215.9h0M155.5 256.4h0M272.6 197.0h0M162.6 282.4h0M223.5 246.1h0M186.0 236.4h0M140.8 275.2h0M267.1 215.9h0M172.1 244.7h0M184.3 253.1h0M187.0 283.5h0M247.5 191.9h0M140.2 281.0h0M166.1 252.2h0M251.3 187.8h0M252.2 201.4h0M208.5 231.1h0M285.8 182.0h0M283.8 186.4h0M298.2 183.9h0M272.8 178.4h0M230.8 227.4h0M225.0 233.2h0M270.5 195.0h0M286.2 192.8h0M266.1 186.1h0M168.3 257.6h0M268.0 209.1h0M195.1 284.7h0M220.8 235.0h0M158.7 255.0h0M250.2 234.4h0M222.0 243.6h0M198.6 262.9h0M218.7 232.4h0M232.1 245.8h0M311.3 153.8h0M202.0 264.2h0M280.1 178.9h0M169.2 261.0h0M203.7 273.2h0M249.0 223.2h0M264.1 217.9h0M244.4 202.4h0M167.8 282.6h0M270.1 202.5h0M231.6 215.3h0M189.5 272.3h0M224.5 228.1h0M235.3 224.8h0M247.3 198.7h0M228.3 242.0h0M243.4 228.1h0M239.7 239.2h0M311.3 160.3h0M256.7 212.8h0M250.2 197.3h0M282.7 183.0h0M294.9 183.8h0M247.6 234.4h0M250.2 229.4h0M244.1 226.0h0M266.4 224.2h0M170.7 277.9h0M258.9 220.8h0M277.9 194.7h0M222.2 240.0h0M169.8 284.4h0M289.9 186.6h0M245.2 211.6h0M205.8 264.2h0M164.2 273.0h0M311.3 182.6h0M235.0 240.4h0M247.8 240.6h0M254.2 225.9h0M236.3 228.4h0M202.6 243.7h0M277.5 190.2h0M252.2 225.2h0M311.7 184.1h0M289.6 186.6h0M241.4 220.2h0M157.8 280.0h0M182.3 250.6h0M224.6 229.2h0M199.7 240.1h0M217.1 250.6h0M175.2 250.6h0M292.2 198.1h0M232.5 207.5h0M218.9 269.6h0M211.3 250.7h0M287.1 184.4h0M265.4 195.8h0M285.2 189.8h0M206.8 263.7h0M288.6 199.5h0M161.2 253.8h0M304.3 168.1h0M236.5 236.8h0M200.5 239.3h0M225.4 238.3h0M149.0 279.8h0M222.4 212.4h0M216.7 247.9h0M296.2 159.4h0M205.4 287.2h0M232.4 240.2h0M236.6 238.8h0M271.5 188.8h0M211.1 222.8h0M291.2 182.3h0M239.1 223.3h0M173.8 277.3h0M230.9 254.3h0M251.4 215.0h0M305.7 171.7h0M155.1 262.8h0M161.7 283.7h0M243.5 225.3h0M269.0 196.4h0M299.4 166.8h0M296.3 167.0h0M219.6 229.3h0M219.4 234.0h0M161.2 261.7h0M189.2 253.3h0M176.0 253.1h0M231.9 239.5h0M179.0 251.3h0M226.0 214.0h0M151.9 276.3h0M271.0 205.3h0M197.9 273.3h0M282.6 209.3h0M228.2 234.7h0M254.7 216.8h0M148.3 271.0h0M252.3 227.4h0M240.7 207.4h0M304.0 145.2h0M280.2 203.5h0M223.2 223.6h0M146.8 280.3h0M206.3 278.6h0M186.2 253.7h0M257.9 210.9h0M202.1 231.2h0M167.8 257.5h0M170.4 249.1h0M150.4 268.4h0M152.6 260.5h0M244.5 212.3h0M163.2 274.8h0M189.4 283.4h0M236.1 210.1h0M267.2 189.9h0M310.7 173.0h0M259.3 192.8h0M263.4 191.6h0M296.6 174.0h0M263.0 192.0h0M196.8 245.3h0M268.7 201.6h0M146.6 271.9h0M272.2 208.3h0M182.9 280.2h0M244.7 234.0h0M165.3 270.0h0M248.3 238.5h0M163.4 282.0h0M163.7 265.2h0M198.7 246.3h0M151.8 264.1h0M248.4 212.4h0M226.3 223.1h0M184.9 257.5h0M184.5 251.5h0M310.2 178.2h0M173.1 283.5h0M235.3 242.8h0M295.7 192.2h0M152.4 271.9h0M221.2 218.6h0M162.0 260.9h0M302.0 172.4h0M217.8 217.9h0M194.6 263.9h0M220.0 246.0h0M255.8 220.6h0M306.1 181.5h0M229.3 234.7h0M261.9 198.2h0M302.0 170.6h0M301.3 179.5h0M185.7 284.2h0M263.2 219.7h0M249.0 194.7h0M193.5 248.8h0M289.6 180.9h0M141.8 274.7h0M219.9 264.7h0M198.1 266.7h0M235.4 221.7h0M308.7 166.5h0M279.5 185.7h0M204.4 279.8h0M193.9 250.9h0M280.4 199.8h0M190.1 245.8h0M209.7 231.8h0M213.4 240.7h0M264.2 201.4h0M231.1 247.3h0M247.7 230.4h0M247.9 230.7h0M218.7 266.4h0M294.1 188.6h0M272.2 213.3h0M309.4 150.1h0M186.9 242.7h0M195.4 244.2h0M262.3 224.8h0M225.1 252.5h0M219.4 245.7h0M177.1 278.1h0M294.6 183.1h0M159.0 275.6h0M251.7 192.9h0M176.9 249.3h0M215.8 250.7h0M151.5 271.4h0M155.8 277.9h0M221.7 217.6h0M201.4 250.1h0M196.0 251.0h0M259.7 223.0h0M263.9 193.9h0M267.9 208.9h0M285.6 198.5h0M219.9 248.7h0M234.6 209.3h0M230.7 224.3h0M165.2 256.0h0M180.1 284.6h0M190.1 273.3h0M251.9 212.4h0M236.3 202.3h0M193.5 279.8h0M229.0 241.3h0M171.6 271.4h0M185.4 261.5h0M181.5 273.6h0M169.3 270.7h0M194.9 276.7h0M249.4 223.3h0M154.8 263.7h0M273.4 212.0h0M282.1 206.4h0M217.7 218.3h0M174.0 274.3h0M294.0 177.5h0M283.7 203.4h0M181.4 283.6h0M280.7 193.1h0M152.4 267.9h0M307.8 185.1h0M202.9 277.8h0M307.0 150.2h0M218.6 241.2h0M209.5 268.0h0M197.6 253.4h0M195.0 258.2h0M222.8 227.6h0M221.3 228.5h0M181.7 258.6h0M298.8 175.9h0M271.7 205.3h0M168.0 277.5h0M284.4 187.6h0M187.8 243.3h0M207.7 229.3h0M308.4 184.8h0M181.0 253.4h0M273.3 191.2h0M218.8 251.0h0M258.2 200.3h0M189.1 253.2h0M244.9 218.0h0M226.3 222.0h0M203.6 225.5h0M253.3 220.8h0M223.9 238.9h0M226.5 243.4h0M275.5 204.6h0M218.7 269.1h0M213.4 230.8h0M235.5 217.4h0M217.3 257.1h0M205.7 256.6h0M170.6 271.9h0M193.7 248.2h0M184.0 264.3h0M180.7 273.1h0M264.6 195.7h0M298.5 166.9h0M211.9 255.2h0M280.6 211.7h0M295.8 145.4h0M148.4 271.8h0M257.9 196.2h0M261.1 209.7h0M287.5 183.9h0M211.7 242.2h0M237.2 207.0h0M223.7 225.8h0M282.7 189.4h0M283.2 178.5h0M191.4 247.8h0M306.4 178.8h0M154.4 262.9h0M296.8 171.9h0M153.4 268.2h0M226.3 243.2h0M156.4 261.8h0M182.1 271.2h0M180.7 251.0h0M189.2 274.5h0M252.9 201.3h0M312.8 185.2h0M266.5 203.4h0M226.9 249.4h0M293.3 187.6h0M252.4 183.4h0M176.5 258.3h0M177.1 246.6h0M287.1 177.4h0M243.9 219.6h0M233.6 230.5h0M239.4 228.0h0M155.5 281.8h0M180.2 253.3h0M177.6 267.8h0M224.8 221.5h0M275.9 203.9h0M160.5 270.5h0M210.5 251.7h0M184.0 249.2h0M208.0 260.4h0M190.3 249.1h0M267.3 199.4h0M221.4 253.7h0M220.8 213.2h0M253.5 191.5h0M237.6 228.1h0M165.9 263.2h0M305.5 156.8h0M250.7 201.5h0M229.2 244.9h0M198.6 261.1h0M256.1 201.9h0M298.4 168.9h0M205.5 254.5h0M178.5 248.5h0M309.3 165.9h0M292.4 179.5h0M308.1 182.2h0M232.8 245.6h0M208.1 233.7h0M277.8 188.3h0M276.4 189.7h0M191.3 238.8h0M158.2 259.4h0M264.7 191.4h0M220.1 225.8h0M265.9 216.4h0M232.0 201.8h0M194.8 281.8h0M183.2 270.8h0M176.5 263.9h0M279.0 182.4h0M191.8 279.8h0M284.6 194.3h0M215.1 253.0h0M265.5 185.7h0M164.0 264.7h0M208.4 264.9h0M235.9 217.1h0M225.2 241.2h0M225.8 231.4h0M230.5 211.2h0M312.2 137.2h0M249.1 203.8h0M240.7 238.6h0M228.7 221.9h0M296.7 187.5h0M306.6 158.1h0M274.7 179.6h0M264.8 227.2h0M144.6 279.9h0M238.3 237.6h0M222.1 236.4h0M267.9 193.7h0M266.2 224.7h0M269.6 203.2h0M309.9 155.6h0M173.4 279.2h0M175.1 247.2h0M250.4 214.4h0M157.7 255.3h0M264.1 212.4h0M181.2 258.2h0M261.5 200.5h0M281.6 204.9h0M192.6 249.6h0M188.6 283.9h0M220.1 267.0h0M217.5 236.9h0M193.2 263.2h0M305.8 168.0h0M300.9 181.8h0M255.9 209.2h0M175.9 247.3h0M311.9 158.2h0M195.6 286.4h0M245.9 222.0h0M235.7 220.6h0M258.1 208.2h0M269.8 201.7h0M225.3 233.8h0M168.0 270.5h0M260.3 221.4h0M312.8 151.4h0M206.7 255.2h0M259.0 213.3h0M267.6 181.2h0M235.5 241.8h0M137.2 272.7h0M290.6 177.7h0M210.6 252.4h0M253.4 198.2h0M267.9 203.0h0M269.3 192.0h0M213.4 223.6h0M193.3 244.6h0M177.3 265.7h0M279.4 179.6h0M234.5 249.6h0M162.6 260.3h0M151.5 262.0h0M247.1 237.4h0M207.4 230.4h0M189.8 270.0h0M159.2 281.4h0M300.4 171.1h0M246.2 236.0h0M210.6 258.8h0M269.6 210.0h0M204.7 226.8h0M158.0 274.6h0M199.0 245.6h0M251.0 208.4h0M245.9 195.3h0M211.8 239.3h0M184.5 246.3h0M254.5 197.3h0M165.9 280.4h0M237.3 226.4h0M229.8 213.9h0M203.2 247.1h0M243.4 232.7h0M207.5 244.9h0M214.9 243.9h0M220.7 249.1h0M233.2 238.0h0M277.0 196.2h0M261.7 211.6h0M172.3 277.5h0M262.0 215.6h0M300.8 156.1h0M215.9 263.8h0M154.7 260.6h0M211.3 269.3h0M245.2 233.2h0M173.3 277.6h0M307.8 184.0h0M197.1 276.6h0M205.4 231.6h0M187.7 286.0h0M226.9 208.8h0M251.1 233.7h0M262.5 201.9h0M198.7 271.2h0M260.0 194.7h0M257.4 214.7h0M256.3 218.5h0M304.7 178.3h0M266.0 189.9h0M202.4 255.0h0M286.5 185.9h0M244.3 233.5h0M264.6 214.9h0M203.7 253.8h0M254.2 199.6h0M249.2 224.8h0M212.0 251.8h0M233.7 232.3h0M310.8 166.0h0M273.9 205.1h0M183.5 269.9h0M170.8 282.0h0M216.9 236.4h0M295.1 191.0h0M275.0 176.5h0M219.1 256.4h0M264.9 187.3h0M183.0 267.3h0M279.8 185.2h0M225.4 252.6h0M235.7 225.6h0M258.0 216.9h0M300.3 179.9h0M203.2 279.8h0M249.2 221.0h0M231.6 239.0h0M263.9 197.8h0M201.1 233.4h0M187.2 275.4h0M174.2 283.2h0M208.5 239.2h0M263.2 225.2h0M211.2 263.7h0M243.8 227.7h0M229.7 221.7h0M235.8 250.6h0M215.4 265.4h0M184.6 271.9h0M295.2 177.4h0M161.9 260.3h0M312.6 175.4h0M238.9 205.8h0M204.0 261.4h0M298.8 174.8h0M192.4 278.5h0M223.7 213.3h0M211.6 228.8h0M217.7 226.2h0M215.1 231.0h0M217.9 232.1h0M196.3 269.5h0M297.1 194.0h0M200.1 253.5h0M186.6 270.7h0M150.4 264.5h0M278.8 195.8h0M294.7 199.8h0M238.7 210.3h0M232.9 240.4h0M267.7 192.4h0M214.5 269.7h0M186.4 246.1h0M196.2 280.4h0M298.6 195.3h0M155.6 277.6h0M222.1 247.4h0M267.3 226.1h0M150.2 268.5h0M301.7 180.5h0M232.9 253.7h0M296.8 185.1h0M276.8 186.6h0M187.0 259.5h0M270.3 186.3h0M206.9 245.8h0M198.7 257.3h0M311.6 169.8h0M210.3 250.4h0M248.4 212.2h0M310.2 179.4h0M175.9 273.9h0M228.2 213.3h0M287.2 190.3h0M255.8 205.4h0M293.7 187.5h0M224.7 249.9h0M256.2 216.6h0M192.6 275.4h0M215.3 257.2h0M286.3 189.9h0M187.6 284.7h0M222.3 224.0h0M261.8 205.1h0M305.8 165.3h0M243.7 232.5h0M262.7 225.7h0M171.5 270.8h0M191.3 273.5h0M243.5 220.5h0M285.6 170.9h0M283.1 211.0h0M221.5 209.9h0M241.7 234.4h0M211.2 238.9h0M262.4 222.5h0M259.8 208.0h0M259.3 217.1h0M312.0 171.4h0M155.2 262.5h0M220.5 259.8h0M252.9 204.1h0M178.7 245.5h0M202.4 249.1h0M251.5 219.9h0M219.9 256.4h0M186.1 246.3h0M303.0 181.6h0M282.6 185.8h0M270.7 207.1h0M219.2 236.7h0M252.4 220.8h0M267.2 224.4h0M159.1 262.8h0M193.0 244.6h0M167.7 251.1h0M175.0 252.1h0M200.4 271.1h0M254.7 226.8h0M275.4 185.6h0M215.4 269.8h0M280.3 187.0h0M195.2 259.7h0M250.4 192.6h0M307.3 163.2h0M203.2 257.4h0M239.6 233.7h0M218.8 242.0h0M233.6 223.1h0M173.6 272.3h0M228.7 216.9h0M141.6 279.3h0M206.0 272.1h0M243.2 203.9h0M234.5 221.8h0M208.5 226.2h0M251.0 228.6h0M219.8 237.2h0M230.7 225.6h0M163.6 272.5h0M142.9 273.7h0M208.8 250.2h0M148.6 275.9h0M213.6 246.2h0M160.2 265.7h0M172.2 281.7h0M210.3 256.1h0M193.9 252.9h0M166.2 269.7h0M254.9 222.3h0M220.6 244.3h0M237.4 233.8h0M218.5 246.7h0M252.5 218.8h0M148.8 273.8h0M254.2 211.7h0M283.1 200.8h0M238.4 223.1h0M269.4 192.0h0M193.1 247.8h0M272.4 200.3h0M280.7 212.5h0M310.1 182.7h0M295.8 179.4h0M230.4 217.9h0M189.1 244.2h0M307.1 181.1h0M192.8 274.2h0M295.1 177.2h0M172.4 250.9h0M165.5 259.4h0M271.4 199.9h0M282.8 207.9h0M204.2 282.7h0M243.3 205.6h0M209.4 225.5h0M221.6 228.4h0M240.8 225.1h0M264.0 194.3h0M299.2 175.2h0M270.3 210.4h0M238.8 227.2h0M207.9 259.2h0M294.6 185.7h0M300.3 172.0h0M187.6 274.1h0M260.8 222.4h0M195.9 262.4h0M167.5 253.0h0M182.7 261.8h0M285.7 174.4h0M270.0 197.5h0M170.0 256.1h0M176.4 277.3h0M243.8 240.2h0M275.0 210.5h0M220.6 257.6h0M233.0 215.8h0M243.7 223.1h0M178.9 252.0h0M265.3 203.2h0M231.7 239.2h0M191.4 273.7h0M206.7 230.4h0M162.4 261.7h0M270.2 183.0h0M216.5 224.6h0M251.1 237.4h0M248.2 231.6h0M220.7 236.1h0M231.7 254.8h0M220.9 251.6h0M271.2 185.2h0M177.6 245.1h0M178.2 282.0h0M204.7 248.6h0M239.7 237.9h0M278.2 197.8h0M165.3 272.1h0M284.4 190.7h0M199.4 233.0h0M273.8 191.8h0M268.1 188.6h0M193.5 248.0h0M192.7 267.4h0M235.3 227.3h0M270.1 205.4h0M153.8 280.7h0M205.3 264.0h0M221.3 239.4h0M225.0 230.6h0M312.2 172.6h0M279.3 212.4h0M215.9 265.7h0M310.1 166.2h0M209.0 258.9h0M145.6 273.1h0M229.3 218.5h0M257.6 206.2h0M238.6 220.2h0M311.9 141.0h0M152.1 284.3h0M259.2 219.3h0M252.0 216.0h0M302.5 169.4h0M250.9 213.6h0M308.2 153.1h0M269.7 200.1h0M261.5 192.3h0M275.8 208.5h0M257.7 214.8h0M163.0 263.7h0M219.0 225.6h0M219.4 228.8h0M287.1 196.6h0M188.7 254.2h0M273.1 185.7h0M225.0 224.5h0M271.4 201.8h0M223.6 218.7h0M187.4 279.3h0M239.8 228.0h0M195.7 275.9h0M192.2 256.0h0M206.3 242.1h0M266.6 204.4h0M239.6 204.0h0M164.6 257.8h0M253.6 224.1h0M249.2 231.0h0M246.7 225.5h0M158.1 254.4h0M240.0 238.2h0M309.5 153.7h0M271.1 202.6h0M225.0 253.6h0M229.8 246.7h0M252.0 209.3h0M177.1 263.5h0M270.3 213.1h0M232.1 216.6h0M199.1 235.7h0M267.3 227.0h0M158.1 265.3h0M182.3 266.8h0M239.7 216.4h0M194.9 243.2h0M264.1 204.3h0M259.4 223.9h0M233.7 212.5h0M161.3 254.5h0M156.7 278.4h0M263.1 226.5h0M272.1 211.6h0M261.8 223.0h0M264.3 194.9h0M227.8 217.9h0M285.9 199.5h0M161.9 278.8h0M180.4 263.2h0M217.9 261.0h0M242.0 231.8h0M259.4 203.7h0M201.6 250.6h0M301.0 167.7h0M223.6 227.8h0M207.5 220.4h0M168.8 253.9h0M275.3 194.3h0M179.9 264.5h0M193.3 251.0h0M151.6 266.3h0M283.6 185.2h0M162.4 265.2h0M229.1 229.8h0M147.1 272.3h0M203.0 230.3h0M226.8 226.1h0M193.7 243.2h0M180.4 264.2h0M270.4 203.9h0M262.1 194.0h0M203.4 255.0h0M240.5 236.6h0M232.8 242.0h0M176.3 249.5h0M271.1 205.4h0M278.8 206.2h0M173.6 284.6h0M291.5 199.7h0M256.6 195.0h0M190.4 237.8h0M277.9 192.0h0M234.0 211.6h0M277.3 186.0h0M258.3 219.6h0M247.6 209.5h0M215.7 247.3h0M182.5 252.7h0M187.3 267.9h0M210.2 229.0h0M162.8 253.3h0M272.8 185.4h0M178.8 258.2h0M234.6 246.9h0M180.4 272.5h0M162.4 256.3h0M293.5 187.1h0M276.1 188.6h0M216.3 232.6h0M246.4 231.0h0M248.2 201.3h0M273.5 177.6h0M264.9 210.6h0M186.4 239.4h0M293.9 177.2h0M248.1 195.6h0M160.0 258.5h0M242.4 225.8h0M233.3 245.1h0M168.2 260.4h0M197.0 282.9h0M186.3 261.6h0M220.2 250.4h0M198.8 225.9h0M235.7 247.4h0M210.9 238.7h0M283.1 192.6h0M150.3 267.5h0M239.2 212.1h0M274.8 209.6h0M208.8 228.6h0M242.1 225.1h0M169.7 263.9h0M204.6 240.8h0M205.3 245.5h0M266.7 216.7h0M266.7 218.8h0M196.2 249.1h0M239.1 217.7h0M236.9 234.9h0M176.2 249.2h0M206.1 241.8h0M224.8 248.9h0M262.6 209.6h0M264.2 215.8h0M183.9 260.3h0M222.5 236.6h0M277.3 181.2h0M215.6 247.2h0M206.8 229.8h0M220.2 239.7h0M240.8 219.3h0M227.5 236.5h0M218.7 216.6h0M208.3 259.6h0M183.4 281.6h0M288.1 183.5h0M178.8 279.5h0M225.5 211.1h0M179.5 279.4h0M159.8 280.1h0M248.0 224.5h0M305.2 176.8h0M267.4 226.4h0M222.8 224.5h0M276.8 187.7h0M184.7 279.1h0M148.0 274.8h0M242.6 207.3h0M256.8 196.9h0M282.5 180.5h0M143.7 274.3h0M146.6 282.7h0M141.9 276.4h0M296.4 166.7h0M214.2 251.3h0M158.8 265.4h0M179.0 250.3h0M202.4 274.6h0M225.0 244.1h0M176.9 281.7h0M160.5 259.7h0M263.3 218.8h0M252.5 224.3h0M259.4 205.3h0M205.5 265.1h0M151.6 263.3h0M312.7 171.6h0M214.1 252.1h0M269.2 211.4h0M239.8 223.0h0M180.4 251.6h0M156.1 264.4h0M233.6 210.0h0M288.1 185.1h0M194.9 271.5h0M228.3 251.4h0M199.9 230.6h0M243.4 231.5h0M296.2 192.8h0M251.2 216.6h0M194.0 252.1h0M301.1 179.8h0M312.2 171.6h0M262.0 198.5h0M162.9 269.1h0M171.3 263.4h0M289.4 199.3h0M218.1 246.0h0M256.1 216.9h0M237.2 214.6h0M155.7 255.9h0M167.7 275.9h0M238.7 194.4h0M219.4 231.2h0M214.0 265.1h0M223.5 242.7h0M291.7 176.2h0M220.5 254.8h0M160.8 268.6h0M149.2 273.4h0M246.2 209.0h0M251.6 238.4h0M239.8 213.5h0M254.0 213.0h0M288.0 180.9h0M183.3 281.3h0M189.2 249.8h0M274.3 211.3h0M291.4 197.2h0M248.2 200.3h0M260.9 208.7h0M257.4 211.9h0M183.8 249.7h0M231.1 239.7h0M260.2 196.2h0M229.1 248.5h0M177.2 284.0h0M253.7 222.5h0M154.1 260.0h0M215.3 265.8h0M233.2 225.6h0M156.0 265.0h0M234.5 214.9h0M242.8 214.7h0M273.2 201.1h0M273.3 206.8h0M193.7 261.7h0M274.1 212.9h0M219.7 233.0h0M255.2 217.5h0M285.1 170.4h0M163.7 254.2h0M266.5 203.3h0M225.3 254.3h0M312.3 179.6h0M273.9 186.0h0M245.0 238.3h0M164.7 274.6h0M280.5 197.4h0M287.9 196.7h0M231.6 212.5h0M277.4 194.3h0M165.8 260.0h0M226.1 232.7h0M198.4 243.7h0M267.0 225.2h0M269.4 209.1h0M275.4 202.4h0M147.1 270.0h0M217.4 213.6h0M200.0 258.7h0M270.7 180.9h0M165.2 259.0h0M240.2 204.3h0M205.0 233.7h0M182.7 241.3h0M208.1 236.6h0M271.1 208.7h0M193.0 283.8h0M204.4 263.6h0M276.3 187.9h0M306.3 178.6h0M255.8 222.1h0M236.4 206.3h0M238.9 213.6h0M302.3 181.8h0M237.3 226.2h0M229.0 233.3h0M216.4 234.9h0M224.2 227.2h0M254.0 217.2h0M243.3 207.8h0M216.5 225.3h0M311.1 152.3h0M273.4 165.2h0M187.5 237.2h0M218.9 246.6h0M189.0 241.4h0M246.4 213.7h0M287.1 193.9h0M211.0 253.9h0M233.7 241.7h0M226.5 239.1h0M226.9 236.7h0M290.2 166.7h0M228.1 242.2h0M178.9 269.9h0M281.7 188.7h0M212.1 227.5h0M291.1 179.9h0M225.4 217.0h0M171.1 256.0h0M292.3 178.7h0M210.9 258.8h0M249.4 227.1h0M159.0 254.5h0M288.0 166.4h0M239.1 217.3h0M223.4 215.6h0M251.2 204.9h0M290.9 176.7h0M247.8 220.4h0M312.0 180.0h0M155.5 262.1h0M281.4 192.2h0M302.2 184.4h0M267.2 202.7h0M253.1 196.5h0M274.5 184.1h0M309.2 156.7h0M163.9 253.2h0M284.1 190.5h0M279.9 195.1h0M266.9 188.6h0M166.9 266.7h0M310.2 185.3h0M252.8 208.5h0M223.9 218.1h0M310.6 163.4h0M266.8 193.4h0M245.0 214.1h0M152.2 258.7h0M202.3 244.0h0M212.0 252.4h0M308.6 163.4h0M210.8 262.8h0M270.9 198.0h0M260.4 205.5h0M218.4 259.3h0M292.7 186.4h0M185.3 257.1h0M238.0 217.3h0M166.9 261.3h0M217.0 264.8h0M288.1 189.2h0M306.8 172.5h0M189.5 253.6h0M221.1 235.3h0M195.2 264.7h0M148.4 276.4h0M248.7 197.6h0M243.7 216.4h0M208.3 242.7h0M237.9 223.4h0M244.2 236.0h0M248.6 230.6h0M268.6 206.5h0M234.9 211.8h0M227.5 211.7h0M209.3 247.4h0M183.8 284.2h0M162.6 253.8h0M157.7 278.8h0M168.2 253.2h0M305.4 169.7h0M267.3 207.5h0M210.1 268.7h0M188.1 263.6h0M145.8 281.1h0M208.1 241.9h0M223.2 240.8h0M240.1 235.1h0M239.7 211.7h0M275.0 191.1h0M280.1 199.5h0M183.1 259.3h0M215.5 247.3h0M262.6 190.9h0M197.9 240.4h0M178.8 276.4h0M259.7 223.2h0M257.3 197.9h0M256.7 190.8h0M159.2 256.5h0M152.8 269.7h0M224.4 253.0h0M249.2 201.5h0M175.5 276.8h0M215.5 231.5h0M248.5 225.1h0M299.0 194.4h0M220.2 235.5h0M183.5 260.7h0M147.8 270.9h0M207.8 247.7h0M206.7 231.9h0M172.8 251.1h0M179.3 274.9h0M261.9 203.5h0M242.3 228.2h0M194.5 262.4h0M217.1 238.4h0M295.4 174.4h0M238.1 240.6h0M202.4 228.2h0M249.1 193.6h0M213.1 260.7h0M265.9 184.0h0M219.8 230.8h0M211.6 223.5h0M264.2 203.7h0M154.9 282.7h0M208.9 231.3h0M203.7 258.8h0M240.1 202.8h0M245.2 217.3h0M142.7 282.4h0M288.1 163.3h0M311.3 161.4h0M276.5 193.9h0M155.4 266.8h0M274.3 190.6h0M283.4 175.1h0M234.4 222.2h0M155.9 275.2h0M270.1 186.8h0M228.8 251.0h0M293.7 181.5h0M199.6 241.1h0M274.7 187.1h0M276.1 182.6h0M275.3 188.2h0M262.8 215.5h0M243.8 222.1h0M222.4 248.7h0M246.3 232.7h0M291.5 195.6h0M214.5 260.7h0M299.4 174.2h0M249.7 221.2h0M234.0 198.8h0M252.2 198.9h0M226.5 215.4h0M212.9 253.5h0M204.4 247.8h0M251.8 199.3h0M265.9 190.6h0M245.1 207.3h0M257.8 225.8h0M297.1 196.5h0M244.9 205.0h0M276.2 206.6h0M243.0 213.2h0M311.6 179.5h0M190.9 266.8h0M138.5 279.4h0M248.6 212.2h0M211.7 265.5h0M138.3 278.9h0M155.6 256.6h0M207.7 253.7h0M160.2 277.5h0M162.2 269.7h0M226.8 229.5h0M242.7 199.9h0M272.7 194.6h0M217.3 268.7h0M250.1 213.0h0M199.2 241.3h0M259.6 201.6h0M194.0 252.6h0M234.3 235.0h0M199.7 246.7h0M275.6 195.6h0M187.3 284.0h0M272.0 183.5h0M218.2 247.0h0M217.1 224.4h0M198.3 261.5h0M262.8 206.8h0M216.0 222.0h0M245.1 236.6h0M141.1 280.8h0M268.2 179.8h0M233.5 235.0h0M173.7 266.8h0M212.1 252.9h0M165.4 260.6h0M289.4 190.3h0M139.8 276.8h0M191.7 240.0h0M291.9 178.5h0M288.7 164.9h0M308.6 149.6h0M202.9 240.4h0M181.0 248.9h0M188.4 239.9h0M243.6 219.0h0M156.1 266.7h0M284.6 190.4h0M185.1 260.4h0M252.4 226.5h0M231.2 253.5h0M284.4 190.7h0M267.2 187.0h0M278.7 211.3h0M156.3 272.6h0M233.6 254.3h0M277.4 200.1h0M196.2 276.7h0M193.1 257.3h0M247.9 213.1h0M144.8 275.9h0M259.9 223.7h0M261.3 197.0h0M290.6 172.2h0M165.7 260.9h0M303.0 170.7h0M143.9 270.6h0M225.6 253.3h0M245.8 228.4h0M280.2 198.7h0M168.1 266.7h0M203.0 225.9h0M192.4 235.2h0M281.3 213.0h0M166.3 284.8h0M222.9 246.1h0M235.5 216.3h0M175.7 268.0h0M163.8 253.3h0M229.0 213.7h0M261.9 207.7h0M295.3 198.3h0M241.8 213.6h0M185.8 266.8h0M312.0 178.2h0M224.5 250.1h0M183.5 278.1h0M217.5 257.8h0M212.5 248.7h0M228.5 254.6h0M157.5 263.9h0M241.4 215.7h0M211.6 229.6h0M184.9 247.8h0M153.1 273.7h0M250.5 195.6h0M210.2 269.5h0M244.0 219.6h0M184.5 252.2h0M217.0 241.4h0M245.5 234.6h0M272.1 205.5h0M150.8 278.9h0M152.8 272.5h0M290.3 196.2h0M156.5 274.9h0M156.6 270.0h0M292.4 190.1h0M290.8 182.4h0M291.6 190.4h0M188.3 261.4h0M241.1 239.8h0M250.8 195.2h0M266.0 198.5h0M169.9 282.0h0M272.8 189.4h0M222.5 237.6h0M277.1 188.7h0M251.4 223.6h0M272.8 206.1h0M248.2 204.4h0M172.0 257.6h0M220.0 228.8h0M177.1 246.3h0M146.7 274.4h0M218.5 239.5h0M297.6 188.9h0M260.3 216.9h0M151.2 279.6h0M295.5 165.4h0M165.7 267.1h0M264.1 222.5h0M262.0 218.3h0M157.1 268.0h0M168.1 271.4h0M254.6 217.3h0M256.8 203.8h0M281.7 202.3h0M182.1 268.8h0M220.3 214.7h0M295.0 169.8h0M232.3 235.3h0M273.4 196.8h0M215.3 229.1h0M181.4 267.7h0M273.7 196.3h0M299.1 182.8h0M147.4 276.6h0M259.8 208.1h0M247.7 210.2h0M272.7 182.4h0M208.6 266.8h0M152.2 272.4h0M292.4 185.9h0M255.6 196.1h0M179.2 256.2h0M271.9 212.5h0M286.4 179.7h0M203.7 276.3h0M249.2 240.0h0M284.0 183.8h0M294.8 188.4h0M267.4 193.1h0M224.7 254.4h0M293.6 184.9h0M217.2 228.4h0M279.5 188.8h0M243.4 207.6h0M193.5 278.9h0M261.8 217.8h0M295.3 168.8h0M272.5 191.6h0M219.5 238.3h0M244.5 215.6h0M198.8 245.9h0M288.9 179.2h0M208.1 244.0h0M247.8 228.3h0M152.4 272.9h0M197.7 260.3h0M258.1 226.2h0M195.0 276.2h0M259.6 191.1h0M196.3 234.3h0M193.7 254.3h0M253.6 204.6h0M310.4 170.1h0M143.6 273.8h0M233.0 220.4h0M210.9 254.6h0M192.3 253.4h0M215.3 263.6h0M260.3 220.5h0M241.2 212.8h0M185.0 279.2h0M188.2 243.6h0M149.5 279.7h0M178.9 252.2h0M194.9 236.3h0M230.0 253.3h0M259.6 185.6h0M281.2 177.2h0M206.8 243.9h0M205.6 265.6h0M277.5 185.4h0M258.7 202.5h0M294.9 167.5h0M274.2 195.6h0M197.4 280.2h0M274.9 198.6h0M253.8 224.2h0M213.5 225.7h0M194.4 275.9h0M310.5 162.5h0M255.8 183.0h0M149.7 281.1h0M175.2 248.9h0M143.6 272.7h0M259.4 203.2h0M237.9 240.8h0M244.7 233.9h0M166.4 260.3h0M281.4 194.3h0M307.0 170.2h0M256.8 214.9h0M261.3 207.2h0M238.9 233.2h0M201.4 271.0h0M195.6 242.7h0M217.6 244.4h0M202.0 242.1h0M247.0 201.4h0M164.1 269.0h0M172.2 279.7h0M262.3 226.9h0M223.1 231.9h0M265.0 225.3h0M252.5 219.5h0M198.9 284.3h0M199.9 260.5h0M258.8 209.6h0M184.8 252.4h0M267.2 223.2h0M216.2 252.6h0M271.5 182.0h0M271.9 194.7h0M252.0 209.2h0M167.6 284.0h0M270.1 193.0h0M200.9 252.8h0M231.8 233.7h0M228.0 249.8h0M262.2 206.8h0M191.6 282.2h0M248.4 203.9h0M181.2 284.6h0M198.5 285.3h0M196.7 236.7h0M149.5 277.1h0M299.0 191.2h0M302.8 175.5h0M223.1 229.8h0M191.3 277.8h0M222.7 245.9h0M158.9 280.5h0M188.8 277.2h0M190.1 237.0h0M279.0 206.8h0M279.9 202.7h0M280.2 211.1h0M189.6 249.2h0M201.6 233.3h0M243.9 201.4h0M297.5 163.7h0M228.2 211.9h0M294.6 196.3h0M250.3 231.3h0M246.2 203.7h0M220.9 213.3h0M226.2 224.1h0M299.1 169.7h0M301.0 182.0h0M279.9 183.0h0M308.7 147.9h0M274.6 193.2h0M195.8 269.8h0M293.5 183.7h0M155.1 260.6h0M284.0 186.7h0M243.9 223.9h0M259.0 212.2h0M277.8 190.0h0M154.6 255.6h0M240.9 208.3h0M310.3 148.8h0M261.3 202.5h0M249.8 223.4h0M141.2 279.5h0M197.2 273.6h0M290.5 186.1h0M255.7 196.5h0M277.4 184.1h0M219.1 247.6h0M143.8 279.5h0M307.8 163.7h0M248.3 199.3h0M272.7 188.7h0M180.0 277.2h0M260.4 223.3h0M280.3 183.3h0M260.9 207.8h0M282.8 179.2h0M259.3 210.0h0M216.1 254.7h0M159.1 271.9h0M233.1 251.8h0M191.8 237.7h0M232.1 232.9h0M188.3 248.8h0M176.8 247.0h0M148.6 275.7h0M259.6 221.7h0M255.5 201.8h0M235.9 255.5h0M258.4 224.2h0M255.0 216.3h0M234.0 251.8h0M293.9 198.4h0M229.5 228.5h0M256.4 227.2h0M271.0 184.6h0M312.8 184.8h0M155.5 282.3h0M272.2 213.1h0M270.8 189.7h0M285.5 169.7h0M165.0 258.3h0M304.0 162.6h0M156.9 284.5h0M204.7 247.3h0M169.0 262.1h0M162.0 271.4h0M273.1 206.1h0M219.1 219.9h0M184.4 247.7h0M152.6 276.2h0M225.0 252.8h0M283.3 195.3h0M237.8 216.7h0M251.3 198.2h0M302.8 181.1h0M290.8 185.3h0M254.7 204.7h0M230.4 212.2h0M265.0 214.7h0M204.7 253.1h0M216.0 266.7h0M250.7 203.5h0M224.8 232.4h0M156.3 279.3h0M142.1 282.9h0M189.5 269.1h0M265.7 201.3h0M283.0 203.6h0M213.8 269.7h0M266.1 202.1h0M280.9 188.4h0M271.2 186.9h0M157.3 272.2h0M170.8 280.4h0M194.9 248.3h0M194.7 284.5h0M249.4 237.8h0M291.1 176.4h0M312.4 150.3h0M245.1 212.4h0M303.9 160.1h0M249.3 227.2h0M244.5 237.0h0M312.8 160.0h0M233.8 221.1h0M243.2 220.4h0M275.1 175.3h0M183.1 256.4h0M138.1 277.9h0M193.4 256.4h0M309.1 169.3h0M237.2 220.1h0M284.9 187.4h0M270.7 194.0h0M250.8 227.4h0M248.8 233.0h0M218.4 246.5h0M194.7 252.1h0M225.4 246.3h0M163.9 273.6h0M247.4 188.0h0M252.9 219.8h0M249.5 205.0h0M152.1 262.1h0M312.6 173.5h0M247.4 211.1h0M312.8 184.0h0M196.5 283.3h0M221.0 218.3h0M140.2 276.8h0M171.7 247.8h0M241.4 210.1h0M290.2 181.6h0M247.7 220.9h0M169.1 278.1h0M280.6 200.8h0M224.4 239.7h0M291.5 187.2h0M216.8 236.3h0M243.2 229.4h0M282.4 199.3h0M207.5 228.1h0M215.5 262.9h0M187.1 257.6h0M139.1 271.3h0M256.8 217.3h0M279.5 207.1h0M152.2 271.1h0M220.0 223.0h0M202.6 268.4h0M205.9 256.5h0M220.1 245.1h0M238.4 211.4h0M234.3 210.3h0M277.8 192.2h0M242.7 234.7h0M184.9 269.6h0M245.9 213.3h0M228.0 210.7h0M270.8 176.9h0M272.8 209.4h0M196.1 281.0h0M160.7 277.5h0M306.8 173.7h0M242.9 240.9h0M214.1 263.8h0M178.1 265.1h0M300.9 185.1h0M193.2 268.6h0M202.4 265.3h0M291.3 199.0h0M203.5 246.8h0M148.5 275.2h0M297.6 194.6h0M173.0 271.5h0M242.1 206.9h0M264.5 200.9h0M196.5 282.1h0M300.5 177.4h0M279.3 184.8h0M225.6 245.3h0M237.6 214.4h0M266.3 207.1h0M274.8 198.9h0M220.1 268.6h0M244.2 234.8h0M259.9 215.8h0M223.1 221.4h0M247.7 216.4h0M286.6 181.8h0M214.5 259.0h0M229.3 246.7h0M216.4 261.1h0M290.5 184.3h0M151.3 281.0h0M205.9 220.7h0M261.8 223.1h0M212.6 269.7h0M312.6 173.1h0M261.6 202.8h0M174.1 267.9h0M312.6 144.9h0M251.3 225.2h0M186.2 267.9h0M283.2 199.3h0M173.6 261.4h0M281.1 197.1h0M202.7 276.8h0M163.7 269.1h0M269.8 192.2h0M266.5 190.4h0M264.8 195.3h0M154.1 282.1h0M220.5 241.9h0M189.7 280.8h0M217.3 229.4h0M216.8 266.2h0M167.7 254.8h0M203.7 243.8h0M272.2 191.1h0M279.1 182.8h0M270.9 188.2h0M220.5 219.2h0M219.2 221.3h0M201.0 257.5h0M219.4 259.5h0M247.5 223.1h0M280.9 208.9h0M307.5 171.4h0M151.4 277.6h0M260.2 210.3h0M190.1 236.2h0M199.5 274.3h0M278.1 190.2h0M308.9 143.4h0M233.4 222.2h0M298.1 184.8h0M152.9 257.3h0M194.5 272.8h0M281.3 193.1h0M243.0 234.3h0M168.3 249.5h0M250.8 219.5h0M211.9 248.8h0M178.4 278.7h0M178.3 278.1h0M227.9 223.5h0M307.3 169.9h0M286.2 193.0h0M151.8 277.0h0M172.5 279.8h0M166.1 277.1h0M244.2 223.1h0M167.9 251.3h0M232.6 251.8h0M169.1 249.6h0M244.5 233.6h0M171.2 244.1h0M239.1 214.9h0M184.6 255.6h0M174.6 268.9h0M243.8 229.7h0M247.1 212.6h0M295.9 180.8h0M180.5 277.6h0M246.4 227.1h0M246.1 234.1h0M262.1 183.0h0M309.7 169.3h0M263.0 218.4h0M139.4 280.5h0M204.0 246.8h0M261.1 204.1h0M188.5 243.7h0M214.4 239.0h0M200.7 251.6h0M194.2 235.3h0M266.3 211.6h0M237.8 210.8h0M201.5 269.4h0M251.6 235.7h0M213.0 221.9h0M217.3 245.3h0M238.3 229.9h0M214.9 231.8h0M251.9 203.0h0M200.0 231.3h0M221.7 245.9h0M228.9 225.1h0M165.5 260.7h0M267.7 189.0h0M254.1 209.0h0M230.1 241.3h0M243.4 224.9h0M268.0 189.9h0M175.1 274.8h0M265.2 185.0h0M255.6 210.2h0M257.4 196.4h0M152.7 280.2h0M275.9 187.2h0M256.8 210.5h0M246.2 216.0h0M179.6 244.8h0M239.7 226.6h0M167.8 264.2h0M251.5 198.8h0M177.2 277.9h0M256.8 211.0h0M198.2 251.9h0M305.6 171.0h0M206.0 284.2h0M189.7 286.1h0M249.7 199.4h0M255.3 197.3h0M306.0 161.5h0M287.3 198.4h0M243.8 233.8h0M244.0 240.2h0M210.7 229.0h0M210.8 265.9h0M176.7 266.7h0M258.2 214.6h0M193.6 232.5h0M277.5 193.4h0M210.1 241.1h0M204.2 240.1h0M298.4 175.0h0M224.7 242.5h0M185.7 274.2h0M274.6 192.5h0M242.9 216.8h0M277.5 205.4h0M242.8 234.9h0M242.3 240.6h0M142.4 282.5h0M294.2 183.7h0M192.8 237.4h0M259.0 222.0h0M140.8 277.0h0M263.4 215.1h0M198.0 247.5h0M202.7 238.7h0M184.2 270.6h0M271.7 190.7h0M292.5 181.5h0M233.9 254.8h0M262.5 210.3h0M296.1 184.0h0M218.7 222.7h0M182.2 261.8h0M241.9 207.3h0M183.3 252.5h0M250.1 222.2h0M174.1 257.8h0M164.7 258.5h0M249.5 209.4h0M246.0 203.9h0M197.7 275.4h0M234.2 214.6h0M284.1 191.4h0M174.3 266.2h0M239.3 214.5h0M184.5 262.7h0M161.6 263.6h0M222.0 229.1h0M151.7 259.8h0M222.8 247.6h0M275.2 209.3h0M287.4 176.9h0M232.8 244.7h0M166.2 274.0h0M190.7 254.2h0M164.2 279.2h0M237.1 220.3h0M260.8 174.2h0M280.1 213.0h0M240.9 234.1h0M233.6 244.2h0M305.7 177.9h0M152.4 283.0h0M193.9 257.0h0M142.0 283.1h0M217.8 224.8h0M261.3 194.7h0M270.1 197.3h0M170.4 249.2h0M189.9 257.5h0M186.8 274.5h0M139.6 281.8h0M282.1 198.9h0M188.4 244.6h0M256.9 203.6h0M257.5 225.1h0M280.6 181.0h0M296.7 191.2h0M245.5 216.2h0M274.9 185.7h0M235.0 211.8h0M229.5 243.5h0M189.9 245.3h0M222.8 224.6h0M296.5 179.5h0M274.1 185.7h0M188.4 240.3h0M168.8 258.4h0M169.8 282.9h0M215.0 232.5h0M239.8 230.7h0M293.9 184.8h0M170.2 272.8h0M198.1 275.1h0M305.8 174.2h0M220.3 234.9h0M163.9 279.0h0M246.3 209.1h0M157.6 260.0h0M226.1 241.7h0M204.6 260.9h0M182.8 270.9h0M311.5 161.7h0M140.4 274.4h0M174.5 251.5h0M290.1 183.5h0M246.7 220.5h0M215.8 249.9h0M215.9 249.9h0M196.3 233.2h0M138.7 280.9h0M254.4 201.7h0M217.9 221.3h0M178.1 279.0h0M302.4 170.8h0M303.1 177.7h0M207.7 253.6h0M218.0 229.5h0M250.4 196.8h0M227.3 251.7h0M239.1 217.7h0M281.0 179.3h0M232.8 206.9h0M169.8 282.3h0M245.7 236.1h0M272.0 181.9h0M152.9 263.4h0M267.7 207.9h0M282.6 199.9h0M187.3 278.4h0M208.9 268.3h0M187.7 257.9h0M274.6 180.4h0M256.6 198.6h0M182.6 261.2h0M294.3 180.8h0M247.0 212.4h0M240.1 203.0h0M239.3 234.2h0M245.1 220.8h0M197.0 272.1h0M280.9 190.4h0M236.0 232.5h0M195.7 275.3h0M193.3 270.7h0M202.5 239.6h0M179.6 246.7h0M224.9 249.7h0M226.2 225.5h0M219.2 241.5h0M230.9 252.8h0M309.0 182.2h0M235.2 229.8h0M283.4 212.9h0M254.8 222.0h0M237.0 232.9h0M192.7 272.7h0M234.0 248.0h0M146.9 274.6h0M222.8 238.7h0M292.4 190.6h0M203.2 229.6h0M243.2 211.2h0M281.9 201.5h0M252.1 204.7h0M298.1 195.2h0M286.2 199.2h0M261.5 194.6h0M263.8 191.5h0M257.0 194.9h0M250.5 213.1h0M174.0 280.0h0M160.3 258.7h0M153.7 268.0h0M294.0 187.6h0M234.0 213.4h0M151.3 257.9h0M264.1 184.2h0M150.7 274.1h0M252.1 194.3h0M299.9 180.5h0M207.0 267.5h0M207.2 261.4h0M183.3 280.2h0M311.4 162.3h0M292.9 173.8h0M168.0 262.3h0M282.4 193.7h0M244.2 219.4h0M157.0 275.7h0M197.3 264.2h0M148.0 270.5h0M233.3 244.0h0M157.0 259.4h0M179.6 266.4h0M276.3 211.9h0M292.0 184.5h0M157.6 259.5h0M160.8 277.9h0M232.6 223.3h0M213.3 223.9h0M238.0 236.3h0M156.3 273.2h0M236.3 227.0h0M255.7 221.9h0M194.9 284.7h0M257.7 190.6h0M234.2 239.4h0M302.2 172.1h0M263.4 207.6h0M274.8 192.0h0M224.6 249.6h0M210.2 230.2h0M190.0 285.4h0M310.8 179.9h0M220.1 267.7h0M278.3 203.6h0M262.6 193.2h0M215.7 236.1h0M259.4 211.6h0M138.0 283.3h0M245.0 227.1h0M251.0 225.4h0M296.6 193.5h0M195.9 277.5h0M249.7 203.3h0M285.7 170.1h0M253.4 191.5h0M248.4 226.6h0M221.5 252.4h0M223.5 237.8h0M219.0 231.3h0M239.2 233.2h0M264.1 194.6h0M191.7 261.6h0M260.3 210.1h0M252.6 211.1h0M266.9 180.7h0M226.9 237.8h0M239.2 236.8h0M147.2 278.0h0M157.9 277.4h0M214.6 269.8h0M256.9 224.0h0M311.0 169.9h0M175.0 268.0h0M165.6 283.1h0M191.5 269.0h0M210.7 248.8h0M189.7 238.2h0M272.2 209.7h0M266.4 190.7h0M203.0 264.2h0M215.1 246.0h0M238.6 230.7h0M309.2 173.4h0M187.3 256.6h0M311.2 156.7h0M238.4 236.5h0M237.7 207.6h0M236.1 223.0h0M250.8 207.0h0M262.7 221.0h0M289.1 193.3h0M261.5 211.5h0M312.5 156.1h0M230.6 231.6h0M169.0 262.4h0M219.8 261.0h0M296.4 170.5h0M218.1 226.5h0M190.8 270.3h0M140.9 276.8h0M213.1 232.8h0M282.9 178.9h0M231.8 215.4h0M302.4 185.7h0M193.9 265.5h0M291.0 197.2h0M288.3 186.2h0M253.4 224.7h0M207.1 234.2h0M228.2 247.4h0M233.2 228.1h0M275.6 211.6h0M309.2 177.3h0M250.2 230.4h0M194.6 274.4h0M263.4 194.7h0M234.7 201.1h0M251.6 230.5h0M201.2 236.6h0M214.0 233.1h0M246.1 206.2h0M232.3 209.6h0M270.8 201.9h0M174.0 265.5h0M274.1 201.9h0M236.0 219.3h0M268.4 192.4h0M182.3 270.9h0M261.4 203.9h0M183.3 242.7h0M277.5 194.5h0M181.2 274.1h0M216.4 240.0h0M181.8 256.3h0M237.2 222.1h0M268.9 203.9h0M205.3 269.5h0M257.2 191.9h0M225.2 251.4h0M254.6 192.0h0M232.6 209.1h0M230.6 247.9h0M296.0 187.3h0M215.0 246.7h0M162.8 280.3h0M261.9 192.5h0M252.6 214.4h0M282.3 207.6h0M207.0 260.9h0M175.9 255.8h0M260.2 207.0h0M253.1 211.4h0M195.3 258.3h0M189.9 277.9h0M241.6 229.2h0M188.1 257.3h0M212.8 236.0h0M236.5 228.1h0M226.7 217.9h0M226.7 245.7h0M216.6 268.7h0M267.8 196.2h0M148.7 280.5h0M224.4 244.6h0M253.2 219.0h0M213.4 246.2h0M244.0 220.4h0M158.2 266.2h0M216.5 260.2h0M240.2 238.2h0M236.7 218.8h0M253.0 189.1h0M164.4 253.6h0M168.2 284.8h0M196.2 262.7h0M225.8 211.0h0M291.5 190.7h0M245.1 227.7h0M202.5 253.6h0M170.7 259.0h0M298.3 181.8h0M154.4 274.2h0M193.1 286.5h0M271.0 202.8h0M222.1 234.3h0M302.3 169.3h0M248.2 211.3h0M144.7 283.6h0M183.4 274.2h0M224.8 221.0h0M173.4 283.8h0M162.0 283.6h0M265.2 190.2h0M312.3 143.6h0M140.5 277.7h0M215.5 242.5h0M284.7 179.5h0M268.3 197.5h0M174.9 273.7h0M201.6 258.0h0M225.0 238.4h0M189.3 267.8h0M262.8 212.0h0M168.0 256.2h0M192.3 248.1h0M284.9 189.4h0M207.2 246.6h0M221.7 214.1h0M177.2 249.4h0M235.8 240.5h0M171.1 266.6h0M288.7 183.1h0M235.2 221.2h0M167.9 252.6h0M312.2 172.5h0M267.8 200.5h0M165.5 271.9h0M213.2 235.3h0M201.2 270.3h0M233.3 226.2h0M162.0 271.7h0M184.7 253.3h0M268.6 188.2h0M168.2 281.0h0M201.6 271.4h0M269.0 206.4h0M299.1 182.9h0M196.0 232.6h0M192.4 273.0h0M224.8 209.9h0M207.2 246.9h0M229.1 213.9h0M227.3 218.8h0M166.5 264.4h0M202.6 242.1h0M220.9 223.5h0M238.0 221.0h0M213.0 228.6h0M170.9 251.2h0M156.1 268.8h0M246.5 225.6h0M190.7 262.6h0M273.9 198.7h0M165.7 254.2h0M159.8 254.7h0M244.1 201.6h0M310.6 134.7h0M242.5 226.9h0M273.4 209.5h0M260.4 195.9h0M200.2 279.0h0M256.9 219.9h0M203.4 268.2h0M271.7 180.8h0M283.1 191.5h0M139.3 273.1h0M284.2 176.4h0M217.8 225.5h0M172.7 248.8h0M249.4 208.0h0M222.9 237.9h0M202.8 269.1h0M142.6 272.8h0M206.5 240.4h0M305.8 172.7h0M286.7 191.4h0M263.8 205.4h0M270.7 186.4h0M257.8 195.5h0M198.3 255.7h0M239.4 205.9h0M272.1 196.4h0M183.8 276.0h0M183.0 245.4h0M163.1 258.9h0M218.8 217.1h0M193.1 263.6h0M215.4 252.4h0M186.0 247.4h0M255.8 196.8h0M224.2 215.8h0M168.8 250.2h0M244.6 197.0h0M245.0 220.4h0M216.6 243.9h0M243.9 233.3h0M243.4 239.5h0M204.0 230.9h0M267.1 223.0h0M210.7 246.4h0M225.9 236.8h0M253.0 208.1h0M137.3 283.7h0M274.6 204.4h0M248.6 224.8h0M231.4 237.3h0M271.4 201.5h0M187.9 243.7h0M220.1 227.2h0M249.3 214.7h0M238.6 218.3h0M247.2 223.2h0M219.6 232.1h0M270.3 191.9h0M232.4 245.9h0M235.9 228.1h0M259.6 207.5h0M274.1 184.5h0M233.5 250.2h0M193.6 285.7h0M252.5 215.0h0M246.3 218.6h0M199.9 277.4h0M173.8 269.6h0M238.8 228.9h0M172.3 265.5h0M201.9 282.6h0M247.0 208.7h0M255.9 192.8h0M180.9 251.5h0M155.9 260.9h0M236.0 229.4h0M185.7 239.1h0M168.1 272.2h0M247.3 198.6h0M139.3 279.6h0M225.2 214.9h0M312.5 151.2h0M233.9 244.8h0M292.8 196.4h0M164.9 266.4h0M311.9 159.8h0M270.2 193.6h0M181.4 267.4h0M274.5 204.6h0M287.5 194.2h0M299.4 195.2h0M179.9 265.6h0M271.9 213.1h0M252.8 220.8h0M252.9 207.0h0M206.9 251.9h0M158.6 281.1h0M188.3 272.3h0M195.1 280.6h0M239.0 211.0h0M269.6 209.4h0M211.8 230.2h0M231.0 216.1h0M286.6 190.6h0M241.7 215.0h0M264.7 216.5h0M179.4 245.5h0M198.7 262.1h0M242.0 210.5h0M304.2 185.1h0M223.8 237.5h0M145.8 277.4h0M279.1 187.6h0M210.8 261.7h0M170.6 283.1h0M191.1 242.0h0M206.2 245.3h0M298.8 171.7h0M139.3 281.2h0M256.7 212.3h0M162.4 265.8h0M257.6 197.9h0M299.3 172.6h0M279.6 196.0h0M270.0 209.1h0M162.4 260.5h0M175.9 262.1h0M152.5 266.1h0M137.2 274.8h0M238.6 232.7h0M145.2 278.8h0M159.4 266.6h0M208.4 242.7h0M183.6 249.3h0M256.7 201.9h0M174.7 271.5h0M186.4 253.8h0M261.1 210.8h0M211.4 227.2h0M241.6 229.7h0M219.4 238.6h0M177.4 278.5h0M252.8 183.9h0M261.4 195.3h0M206.2 277.7h0M240.2 227.5h0M146.4 279.2h0M262.4 206.6h0M234.8 221.2h0M286.6 179.6h0M195.3 241.3h0M173.5 264.4h0M304.3 166.4h0M259.5 226.8h0M175.5 273.9h0M210.4 269.9h0M248.0 239.1h0M311.3 169.6h0M249.7 229.0h0M216.4 226.7h0M199.2 239.5h0M142.2 281.8h0M312.1 179.1h0M156.9 258.0h0M229.5 203.8h0M255.0 218.7h0M198.6 278.3h0M288.1 199.6h0M258.9 223.2h0M267.0 207.1h0M178.4 269.4h0M245.9 232.8h0M157.2 276.9h0M241.9 229.6h0M201.4 286.6h0M185.5 268.0h0M248.7 230.1h0M274.4 195.2h0M227.2 216.2h0M232.3 249.0h0M196.5 251.4h0M156.4 282.9h0M250.8 205.3h0M257.6 222.9h0M252.8 198.9h0M192.9 251.6h0M240.0 222.9h0M216.7 255.6h0M211.2 255.4h0M273.0 206.8h0M261.8 206.3h0M285.4 191.0h0M293.5 180.3h0M285.2 171.8h0M209.4 234.2h0M162.7 263.8h0M247.5 236.2h0M166.9 257.9h0M217.0 254.7h0M191.8 259.4h0M174.3 281.1h0M305.3 174.6h0M260.4 207.1h0M273.4 201.2h0M155.9 269.3h0M266.9 221.0h0M278.4 201.6h0M259.9 188.1h0M243.0 211.9h0M271.2 195.1h0M157.4 265.8h0M218.7 269.0h0M293.9 186.3h0M252.3 199.3h0M229.9 252.4h0M162.1 251.6h0M190.3 274.5h0M288.5 182.7h0M249.6 224.5h0M244.6 204.6h0M152.9 269.5h0M228.0 242.7h0M263.5 191.1h0M164.2 258.6h0M167.3 263.1h0M292.4 185.5h0M257.0 199.2h0M227.8 221.3h0M278.5 182.6h0M238.6 239.8h0M256.6 224.2h0M312.2 141.7h0M184.2 249.3h0M205.1 259.6h0M272.1 189.6h0M178.8 266.7h0M292.3 194.9h0M236.8 228.8h0M180.3 248.1h0M156.6 274.6h0M289.5 182.2h0M137.8 281.3h0M244.4 214.5h0M310.9 142.9h0M198.1 274.8h0M236.8 213.9h0M147.1 272.6h0M181.9 284.2h0M300.6 174.6h0M258.1 217.5h0M198.5 267.7h0M194.0 275.5h0M157.2 253.5h0M301.1 181.7h0M287.5 168.3h0M248.6 214.9h0M271.2 168.0h0M251.2 205.0h0M276.4 204.7h0M208.0 232.2h0M262.0 220.9h0M232.5 220.6h0M273.4 204.3h0M256.7 214.8h0M242.8 217.2h0M175.2 279.9h0M223.0 247.0h0M188.0 254.9h0M265.3 196.0h0M289.4 188.8h0M253.6 194.9h0M203.9 230.2h0M162.3 282.5h0M290.4 189.2h0M210.9 241.3h0M288.4 198.8h0M265.7 188.9h0M274.5 198.2h0M313.0 176.9h0M163.8 274.8h0M198.4 277.2h0M252.4 204.9h0M258.5 219.0h0M191.7 264.4h0M252.9 223.9h0M226.1 250.7h0M266.7 208.9h0M188.9 280.6h0M263.9 206.6h0M170.3 281.3h0M305.3 172.8h0M281.8 183.3h0M199.4 232.3h0M244.5 240.3h0M281.8 200.1h0M178.9 252.2h0M277.8 204.0h0M187.5 253.9h0M192.2 238.3h0M234.0 218.8h0M175.6 273.6h0M172.8 274.1h0M305.0 175.1h0M186.7 253.2h0M216.5 240.0h0M296.5 177.3h0M163.5 273.3h0M139.9 281.8h0M238.9 232.6h0M153.6 272.5h0M239.1 239.4h0M203.9 242.8h0M294.5 170.5h0M217.9 223.8h0M216.9 267.8h0M261.3 219.2h0M285.0 194.9h0M224.7 230.9h0M217.7 232.6h0M144.6 278.1h0M265.7 210.9h0M200.1 266.9h0M186.8 250.0h0M277.2 177.5h0M161.4 252.3h0M281.3 208.5h0M194.7 238.7h0M161.8 278.3h0M246.7 223.9h0M207.4 244.9h0M223.7 250.5h0M240.9 215.9h0M188.6 277.6h0M309.6 160.0h0M160.4 273.7h0M215.8 237.0h0M250.8 223.4h0M249.2 231.0h0M169.7 264.8h0M176.8 281.2h0M233.2 211.7h0M211.3 245.2h0M253.8 226.5h0M204.1 234.8h0M226.4 220.8h0M157.7 279.6h0M284.1 189.9h0M209.8 225.9h0M306.6 163.3h0M233.3 231.1h0M304.1 169.4h0M197.2 235.4h0M195.3 285.4h0M287.0 183.5h0M238.4 236.3h0M291.3 175.8h0M197.2 248.5h0M255.2 204.1h0M204.3 222.4h0M234.2 209.0h0M266.2 215.5h0M148.7 276.6h0M219.5 257.3h0M268.0 202.7h0M185.6 276.4h0M273.5 199.9h0M265.1 197.5h0M188.7 258.7h0M154.3 264.3h0M255.6 201.8h0M241.1 209.2h0M309.4 158.1h0M249.5 229.3h0M249.9 208.9h0M263.8 199.0h0M187.4 282.8h0M234.1 226.3h0M235.3 239.5h0M273.4 199.4h0M212.1 266.4h0M236.7 217.8h0M244.5 209.8h0M222.8 224.7h0M144.4 273.3h0M253.0 218.8h0M199.2 247.7h0M226.3 249.0h0M221.3 253.4h0M312.7 175.9h0M244.5 201.9h0M254.6 213.3h0M208.2 249.5h0M220.1 243.8h0M272.6 183.2h0M298.8 180.2h0M312.0 158.7h0M221.2 227.2h0M291.2 196.9h0M269.2 200.7h0M203.5 260.4h0M198.3 235.8h0M253.4 187.3h0M221.4 226.1h0M288.9 185.6h0M302.3 179.4h0M297.3 188.5h0M246.3 239.7h0M141.8 279.5h0M296.1 189.4h0M230.0 255.3h0M293.5 192.6h0M216.5 243.2h0M246.2 213.3h0M205.1 283.4h0M205.3 248.9h0M163.6 278.0h0M233.4 205.7h0M292.7 186.4h0M286.4 175.3h0M217.3 252.6h0M236.0 204.8h0M221.5 240.2h0M192.9 242.6h0M142.6 273.0h0M255.8 208.1h0M206.8 269.2h0M236.7 237.1h0M263.5 193.5h0M226.5 229.8h0M202.2 256.5h0M304.3 180.8h0M186.1 273.0h0M240.9 223.7h0M287.7 176.4h0M168.8 282.7h0M293.7 187.7h0M143.4 282.9h0M157.1 281.8h0M242.5 209.7h0M169.9 249.9h0M210.2 269.4h0M304.3 182.1h0M243.4 209.2h0M261.8 220.6h0M251.7 205.5h0M272.3 202.0h0M215.6 225.6h0M202.0 283.3h0M230.0 247.0h0M255.2 196.8h0M307.3 180.2h0M149.5 273.3h0M252.7 221.8h0M219.8 220.2h0M232.8 228.3h0M197.6 271.7h0M291.7 190.5h0M156.4 259.7h0M305.3 171.5h0M216.0 267.9h0M216.8 254.1h0M196.8 270.5h0M240.1 235.9h0M217.6 232.2h0M239.9 232.1h0M296.3 182.8h0M208.4 229.2h0M276.8 208.0h0M277.7 203.6h0M262.1 212.5h0M224.8 250.5h0M236.3 230.3h0M219.8 233.2h0M213.4 244.2h0M272.1 187.3h0M254.8 211.5h0M257.9 217.8h0M238.6 214.7h0M155.1 276.6h0M309.0 147.8h0M174.4 251.2h0M200.6 250.7h0M231.5 230.0h0M160.1 264.0h0M232.0 213.1h0M238.2 232.5h0M247.3 222.6h0M261.5 221.2h0M296.4 178.4h0M161.1 284.7h0M194.9 252.7h0M290.5 191.3h0M186.7 258.7h0M218.4 255.7h0M219.5 239.8h0M277.5 204.4h0M192.3 274.9h0M263.6 226.9h0M157.0 272.5h0M210.2 232.5h0M255.6 224.8h0M232.3 226.6h0M270.3 210.6h0M142.6 277.9h0M152.8 281.0h0M262.0 197.1h0M141.3 275.5h0M244.7 213.8h0M216.3 251.8h0M169.7 268.9h0M312.4 153.6h0M192.2 284.0h0M220.9 218.6h0M224.6 239.1h0M312.2 140.8h0M266.5 196.0h0M281.5 198.8h0M266.0 223.5h0M224.1 216.4h0M259.2 224.3h0M289.6 166.5h0M218.4 255.9h0M179.6 266.1h0M198.0 263.6h0M139.1 275.0h0M206.9 259.3h0M148.7 279.7h0M229.5 253.1h0M310.0 185.0h0M165.0 280.6h0M309.5 162.8h0M183.3 265.4h0M206.2 236.7h0M211.6 223.1h0M197.1 231.4h0M177.3 248.7h0M306.2 165.0h0M240.0 236.6h0M168.3 283.1h0M226.4 216.4h0M241.4 235.9h0M177.3 283.8h0M191.7 259.7h0M273.8 190.6h0M271.1 211.1h0M227.9 212.8h0M249.0 240.4h0M173.5 260.8h0M261.3 186.9h0M216.2 260.3h0M279.8 213.2h0M301.3 177.3h0M243.0 238.9h0M229.1 218.1h0M180.7 265.6h0M312.7 136.6h0M147.0 274.5h0M235.3 249.8h0M291.0 192.6h0M195.4 264.8h0M221.2 221.3h0M182.2 243.7h0M286.1 192.9h0M264.3 226.6h0M269.8 208.5h0M204.7 273.0h0M192.8 235.2h0M197.1 233.1h0M265.5 206.4h0M214.5 250.3h0M218.1 264.0h0M278.4 198.1h0M244.3 226.3h0M217.8 226.0h0M182.3 251.1h0M224.7 235.7h0M269.4 205.7h0M199.1 272.4h0M306.1 185.7h0M151.4 273.3h0M189.8 242.6h0M151.0 282.7h0M199.5 279.8h0M221.1 244.9h0M185.9 282.2h0M276.2 193.4h0M221.4 228.8h0M175.2 263.8h0M152.0 278.0h0M270.5 179.8h0M239.4 240.0h0M263.5 218.5h0M155.3 275.6h0M262.0 224.3h0M220.1 264.5h0M178.3 273.3h0M245.4 201.8h0M210.1 262.8h0M219.3 255.0h0M207.4 229.1h0M195.2 266.9h0M260.7 195.3h0M227.9 218.2h0M272.2 199.6h0M310.5 151.9h0M165.8 273.7h0M283.8 193.4h0M256.7 217.3h0M215.1 242.8h0M256.6 194.3h0M159.3 265.9h0M272.4 193.0h0M159.2 277.5h0M219.5 249.2h0M155.9 261.6h0M246.7 231.4h0M265.5 198.5h0M171.6 253.0h0M293.6 188.1h0M178.7 283.3h0M262.0 199.7h0M171.4 275.6h0M186.2 247.3h0M251.8 204.7h0M261.1 188.8h0M144.8 275.9h0M286.1 184.9h0M274.6 212.0h0M181.0 283.6h0M258.9 215.1h0M232.7 246.0h0M273.4 200.7h0M250.8 208.3h0M263.7 214.4h0M155.0 280.0h0M255.3 196.8h0M226.8 253.7h0M269.8 190.8h0M272.2 179.7h0M236.8 235.2h0M280.4 186.9h0M288.3 177.8h0M173.6 277.4h0M186.9 273.2h0M290.0 192.2h0M202.2 286.3h0M223.9 242.1h0M158.1 266.1h0M213.0 224.4h0M177.0 276.1h0M168.5 281.5h0M260.4 198.0h0M298.2 188.9h0M215.5 261.8h0M155.7 280.8h0M252.3 198.3h0M196.9 284.5h0M250.6 204.7h0M186.4 247.5h0M227.6 247.8h0M224.3 229.3h0M176.1 264.5h0M237.2 213.0h0M254.4 201.1h0M181.1 246.7h0M178.9 248.8h0M177.4 268.6h0M209.9 269.8h0M273.5 192.7h0M223.0 223.3h0M222.8 219.9h0M208.2 250.5h0M267.0 215.2h0M270.9 176.6h0M151.4 275.4h0M230.4 249.8h0M184.5 262.1h0M192.7 248.3h0M253.5 224.3h0M313.1 162.4h0M226.0 218.8h0M232.4 207.8h0M232.2 215.6h0M193.5 276.9h0M300.9 179.0h0M243.0 226.0h0M230.6 237.0h0M172.3 265.3h0M160.1 257.6h0M149.5 279.0h0M183.7 244.8h0M259.3 200.3h0M174.9 248.3h0M248.7 231.2h0M178.7 268.6h0M205.4 227.9h0M274.5 211.9h0M261.7 201.0h0M178.1 257.2h0M279.9 199.6h0M309.1 160.4h0M270.0 202.3h0M225.5 255.6h0M257.2 195.8h0M152.0 281.5h0M251.0 238.1h0M219.1 242.3h0M194.7 241.6h0M195.8 248.8h0M277.7 207.1h0M266.3 187.3h0M281.8 203.0h0M168.6 272.0h0M259.4 219.9h0M212.9 244.1h0M220.8 218.6h0M243.0 238.2h0M208.9 251.9h0M213.4 237.6h0M298.5 178.6h0M263.1 195.2h0M163.5 278.2h0M285.1 188.7h0M186.0 258.6h0M154.0 273.6h0M217.2 268.3h0M235.3 233.0h0M309.8 165.0h0M197.3 277.2h0M192.2 255.5h0M197.4 284.8h0M218.4 268.1h0M172.0 274.8h0M208.6 258.7h0M153.5 263.4h0M236.2 209.7h0M298.0 181.2h0M265.0 216.5h0M205.5 228.7h0M137.2 276.1h0M244.4 208.6h0M225.9 229.4h0M145.7 272.5h0M230.2 238.6h0M181.5 278.0h0M235.4 206.5h0M169.7 269.8h0M255.1 220.9h0M151.2 262.8h0M252.3 188.0h0M297.2 191.6h0M220.0 254.6h0M255.1 210.1h0M286.9 176.6h0M201.5 248.4h0M186.2 239.9h0M195.8 242.5h0M219.4 228.3h0M285.2 199.0h0M254.1 222.8h0M176.5 266.2h0M264.3 220.3h0M257.1 194.2h0M163.5 266.5h0M195.2 268.1h0M250.2 239.2h0M256.1 210.2h0M162.5 257.0h0M146.1 279.1h0M231.6 212.5h0M207.1 257.1h0M182.2 256.3h0M179.5 254.1h0M282.9 208.8h0M234.2 209.1h0M229.5 234.4h0M311.3 176.3h0M215.6 267.9h0M236.1 233.5h0M175.3 284.1h0M258.0 222.8h0M257.4 208.0h0M252.0 219.7h0M262.6 200.4h0M255.0 191.7h0M232.0 206.2h0M257.4 216.2h0M215.4 231.3h0M194.9 261.2h0M224.2 241.6h0M194.2 261.3h0M313.0 136.8h0M236.5 201.2h0M205.7 243.1h0M195.5 275.9h0M270.8 209.1h0M266.8 215.9h0M233.3 229.3h0M223.3 222.2h0M248.0 224.4h0M243.5 210.9h0M225.1 245.9h0M209.2 227.3h0M212.4 228.6h0M295.6 183.6h0M210.6 235.4h0M192.0 255.7h0M276.6 199.7h0M219.5 226.7h0M172.8 270.5h0M161.1 270.7h0M251.2 219.3h0M265.9 217.1h0M294.3 169.6h0M187.9 280.7h0M257.2 218.0h0M215.0 221.8h0M263.9 226.8h0M294.2 188.7h0M279.9 196.7h0M195.5 243.8h0M196.0 261.7h0M141.8 275.9h0M238.4 233.4h0M197.7 275.3h0M154.0 273.3h0M266.1 206.5h0M160.0 271.7h0M226.9 235.8h0M290.3 182.1h0M219.3 228.6h0M260.8 224.0h0M275.4 196.5h0M261.2 189.2h0M278.4 212.9h0M279.2 212.3h0M309.3 184.6h0M224.6 222.7h0M284.2 191.9h0M243.3 235.0h0M207.3 252.7h0M244.4 229.2h0M274.1 190.1h0M237.5 236.4h0M154.0 269.6h0M208.3 233.9h0M283.1 200.7h0M243.3 236.0h0M225.8 216.2h0M229.8 236.4h0M167.3 283.1h0M295.5 167.1h0M279.6 196.7h0M139.0 278.5h0M146.6 269.8h0M164.6 254.4h0M211.7 233.8h0M289.8 176.5h0M256.5 197.1h0M195.8 245.9h0M173.9 258.6h0M203.0 239.6h0M276.1 182.8h0M214.9 269.9h0M190.0 239.1h0M235.9 254.6h0M247.7 196.7h0M184.5 280.8h0M244.3 214.3h0M173.6 255.9h0M265.2 186.1h0M299.4 174.3h0M266.4 205.4h0M241.1 235.6h0M220.8 241.5h0M188.5 249.1h0M248.8 236.1h0M286.6 199.8h0M227.3 255.5h0M306.3 171.4h0M196.2 271.5h0M239.0 228.4h0M250.4 227.4h0M223.6 217.7h0M220.7 227.8h0M167.3 256.1h0M284.2 176.2h0M180.6 284.5h0M184.0 252.9h0M165.9 274.7h0M209.3 268.6h0M184.4 280.0h0M235.6 249.8h0M249.6 200.7h0M202.4 245.5h0M293.4 196.5h0M167.2 274.5h0M222.9 218.1h0M226.6 247.4h0M210.3 263.4h0M244.1 230.7h0M268.2 209.1h0M200.8 275.9h0M224.9 211.9h0M204.8 243.9h0M187.5 256.1h0M214.2 241.3h0M189.9 284.4h0M266.7 216.5h0M276.0 191.3h0M250.7 209.9h0M270.5 180.9h0M216.5 248.9h0M231.4 223.2h0M276.9 213.0h0M271.7 208.7h0M160.8 266.4h0M155.3 277.3h0M207.9 260.2h0M260.0 213.8h0M189.7 237.7h0M276.2 188.0h0M180.9 276.6h0M288.0 166.6h0M248.4 199.7h0M304.9 182.3h0M235.6 245.0h0M234.8 234.1h0M168.0 270.7h0M251.6 218.7h0M280.8 202.8h0M216.9 270.1h0M286.4 178.1h0M253.7 196.7h0M241.5 230.0h0M234.7 250.5h0M204.1 267.0h0M284.5 176.8h0M230.8 241.1h0M261.2 221.3h0M244.7 204.2h0M200.0 263.3h0M220.5 258.7h0M263.2 206.1h0M288.7 191.5h0M139.4 274.1h0M259.1 216.6h0M230.3 249.7h0M205.1 278.8h0M240.9 234.8h0M170.0 271.0h0M193.3 265.2h0M261.9 206.3h0M261.4 212.3h0M257.4 203.5h0M277.3 193.9h0M146.6 281.9h0M266.1 217.9h0M231.3 212.1h0M266.6 216.9h0M233.5 252.6h0M285.8 187.5h0M257.8 223.0h0M275.4 198.6h0M278.7 205.0h0M140.9 280.0h0M312.7 183.5h0M217.1 245.5h0M182.0 282.2h0M238.5 204.5h0M265.2 206.9h0M282.2 203.5h0M244.2 226.3h0M298.5 196.8h0M267.4 219.8h0M261.3 203.0h0M283.0 192.1h0M278.0 199.8h0M235.6 245.4h0M288.6 181.6h0M214.4 245.7h0M168.3 257.4h0M237.4 231.5h0M301.7 150.3h0M181.1 252.9h0M215.2 265.9h0M206.9 254.9h0M232.1 230.5h0M165.0 257.1h0M283.5 189.8h0M177.8 263.5h0M287.1 191.0h0M278.9 193.0h0M264.7 187.0h0M308.6 177.7h0M217.8 217.0h0M275.6 209.5h0M242.3 228.5h0M223.4 220.1h0M243.5 229.0h0M211.2 251.7h0M249.9 218.7h0M261.6 210.0h0M268.4 200.8h0M215.6 258.3h0M219.3 222.3h0M242.2 218.4h0M219.4 230.6h0M289.0 191.9h0M235.6 243.4h0M266.4 224.9h0M234.8 253.6h0M296.9 186.0h0M294.0 189.7h0M152.4 270.1h0M248.3 202.5h0M271.8 205.4h0M228.8 212.6h0M199.7 242.0h0M260.5 195.9h0M282.1 211.6h0M294.7 177.2h0M219.5 265.7h0M138.0 274.6h0M217.1 219.5h0M213.3 232.1h0M288.0 198.9h0M198.4 274.3h0M243.2 211.4h0M192.4 235.0h0M253.1 208.4h0M183.9 261.7h0M192.2 249.1h0M199.7 226.9h0M180.0 245.4h0M227.7 236.3h0M145.3 278.5h0M193.7 268.7h0M228.9 227.1h0M220.5 237.8h0M216.0 230.7h0M176.0 254.3h0M168.4 257.9h0M165.4 279.4h0M236.4 230.8h0M193.9 272.2h0M194.6 258.7h0M302.3 175.0h0M179.1 260.7h0M184.4 261.3h0M244.9 212.8h0M200.4 258.3h0M210.1 243.8h0M218.5 249.8h0M214.1 247.2h0M200.0 231.8h0M311.6 153.7h0M222.3 249.8h0M289.5 184.8h0M270.5 208.8h0M219.4 220.6h0M157.4 268.3h0M216.6 241.5h0M268.1 201.7h0M271.5 191.7h0M210.2 255.2h0M274.4 201.1h0M228.3 234.5h0M295.1 196.0h0M170.6 255.0h0M149.0 271.4h0M235.9 232.0h0M246.5 237.2h0M166.5 271.1h0M238.6 234.7h0M307.2 154.4h0M266.5 217.6h0M229.5 244.5h0M226.9 243.3h0M295.2 173.3h0M279.8 199.5h0M259.3 221.6h0M163.5 277.2h0M245.2 218.5h0M237.8 234.1h0M158.7 261.3h0M300.9 167.8h0M266.9 194.1h0M280.9 195.8h0M165.3 278.4h0M237.1 204.8h0M191.4 246.3h0M251.4 237.2h0M257.9 217.4h0M198.2 264.1h0M304.3 156.2h0M220.6 255.4h0M240.3 224.1h0M250.2 211.4h0M296.5 186.3h0M249.6 230.1h0M258.9 202.8h0M254.3 208.4h0M201.8 276.2h0M210.0 229.7h0M197.4 249.3h0M294.7 180.2h0M284.2 196.3h0M194.4 232.6h0M303.7 168.8h0M193.2 277.0h0M248.4 217.9h0M187.7 272.8h0M189.5 280.9h0M305.0 186.2h0M233.7 239.6h0M186.7 253.0h0M241.6 229.5h0M184.2 257.2h0M254.8 201.0h0M248.6 204.5h0M152.8 280.8h0M285.1 169.1h0M245.3 210.7h0M235.8 215.2h0M280.2 182.1h0M261.0 186.7h0M167.4 284.3h0M262.2 178.1h0M223.5 254.2h0M252.2 218.1h0M167.4 262.1h0M300.3 175.3h0M232.4 229.7h0M236.2 216.7h0M164.4 273.0h0M249.8 198.3h0M257.1 203.7h0M275.3 191.0h0M168.3 274.6h0M234.2 237.1h0M222.6 243.2h0M143.5 283.0h0M252.4 226.2h0M265.3 200.8h0M199.7 249.2h0M171.7 251.5h0M222.6 219.0h0M283.8 196.8h0M203.3 247.9h0M172.0 282.1h0M233.4 211.7h0M306.5 167.3h0M192.5 261.1h0M160.3 270.6h0M170.6 275.9h0M233.1 241.3h0M240.6 220.4h0M261.3 222.3h0M241.7 224.9h0M177.2 255.2h0M263.6 199.5h0M225.5 244.2h0M250.4 238.1h0M155.1 271.9h0M213.2 238.1h0M205.6 264.5h0M151.0 274.9h0M140.2 274.6h0M255.6 209.3h0M190.2 263.9h0M312.2 146.8h0M218.2 236.7h0M159.9 270.8h0M251.0 217.6h0M215.0 236.6h0M293.0 191.9h0M242.1 233.5h0M300.9 156.6h0M160.1 273.6h0M208.8 244.5h0M245.2 211.2h0M207.4 228.4h0M250.4 235.8h0M238.1 195.1h0M207.3 268.6h0M199.5 279.4h0M212.8 240.5h0M143.5 281.6h0M264.1 189.7h0M275.9 202.6h0M148.4 273.7h0M301.6 182.1h0M245.3 222.7h0M198.4 244.5h0M211.6 239.4h0M246.1 240.0h0M270.1 202.0h0M198.9 272.3h0M210.8 262.6h0M172.8 271.5h0M233.5 210.4h0M184.2 267.4h0M221.6 217.1h0M209.1 246.6h0M217.2 237.8h0M279.6 184.5h0M200.1 285.8h0M228.8 241.0h0M228.9 229.4h0M235.0 209.0h0M152.1 281.1h0M298.2 161.7h0M186.8 280.3h0M308.1 173.5h0M140.1 280.1h0M170.4 281.4h0M299.0 186.7h0M276.3 187.4h0M164.1 260.4h0M182.1 279.5h0M254.2 192.8h0M238.6 205.0h0M207.3 232.8h0M187.0 266.7h0M176.4 260.1h0M197.8 244.6h0M236.9 227.1h0M183.0 279.0h0M227.1 244.9h0M254.9 200.0h0M206.0 227.6h0M270.0 198.6h0M233.3 248.3h0M172.9 270.5h0M177.9 258.3h0M221.2 222.5h0M159.6 274.9h0M207.8 243.9h0M221.1 238.6h0M186.5 245.5h0M229.9 239.8h0M150.6 268.7h0M304.0 170.8h0M260.9 209.0h0M204.3 225.1h0M172.4 284.2h0M246.3 231.5h0M225.8 224.4h0M266.6 199.5h0M185.9 279.3h0M282.0 183.3h0M267.2 213.7h0M228.4 218.7h0M265.2 205.2h0M312.7 150.9h0M232.6 222.2h0M260.1 195.7h0M234.8 204.3h0M162.5 258.1h0M196.4 272.2h0M217.6 233.3h0M202.2 271.3h0M174.7 278.4h0M225.2 231.4h0M151.1 260.7h0M275.1 185.4h0M261.5 216.5h0M188.6 259.2h0M235.6 247.9h0M225.4 232.3h0M263.7 196.4h0M158.6 272.8h0M220.8 244.8h0M159.4 265.1h0M233.8 207.4h0M301.4 156.4h0M231.9 227.8h0M241.1 211.1h0M174.6 266.1h0M242.5 200.0h0M268.2 194.4h0M180.3 262.4h0M175.6 277.9h0M194.1 269.6h0M230.1 232.3h0M205.9 241.8h0M181.0 259.9h0M285.5 181.4h0M160.1 276.9h0M175.1 252.4h0M233.5 212.9h0M269.0 205.0h0M218.0 220.5h0M151.7 262.6h0M175.3 247.8h0M192.5 246.8h0M260.5 196.1h0M286.7 196.1h0M205.8 250.7h0M189.5 240.4h0M259.5 204.1h0M277.3 194.4h0M145.2 273.8h0M246.9 234.4h0M239.1 221.4h0M296.8 192.8h0M259.5 208.8h0M279.8 203.9h0M252.2 163.7h0M188.4 262.9h0M167.5 261.5h0M221.2 226.5h0M254.3 192.6h0M263.2 197.6h0M268.7 192.0h0M268.7 202.6h0M239.1 214.8h0M277.0 183.7h0M263.7 203.4h0M224.7 234.7h0M252.3 220.9h0M142.0 273.9h0M310.6 178.2h0M267.7 175.1h0M282.2 192.2h0M291.8 199.0h0M278.2 181.9h0M181.0 267.2h0M264.9 204.5h0M230.3 238.5h0M294.8 195.2h0M203.9 235.7h0M251.2 236.4h0M240.5 204.9h0M293.2 174.2h0M202.4 266.9h0M164.2 270.4h0M186.6 273.6h0M223.0 246.6h0M173.4 285.3h0M227.2 204.4h0M139.6 270.8h0M264.1 226.8h0M272.4 178.1h0M301.9 170.8h0M211.5 218.5h0M252.8 214.0h0M304.2 170.3h0M301.4 167.5h0M244.6 211.6h0M144.4 275.3h0M295.7 193.7h0M147.3 271.4h0M214.0 249.8h0M192.0 242.9h0M272.1 198.3h0M210.6 260.1h0M153.6 273.3h0M285.1 184.8h0M266.8 193.8h0M193.1 282.9h0M186.7 285.7h0M165.9 276.5h0M271.9 187.4h0M227.0 235.1h0M199.4 259.9h0M167.3 274.0h0M196.4 285.8h0M274.6 213.0h0M237.1 233.9h0M224.8 236.6h0M218.3 262.0h0M145.1 280.1h0M252.7 196.8h0M215.8 265.5h0M301.6 179.4h0M263.6 181.3h0M190.2 285.6h0M187.9 272.7h0M218.4 230.3h0M190.7 240.6h0M155.4 266.0h0M186.5 272.7h0M266.6 199.4h0M243.5 230.1h0M207.5 251.1h0M222.3 250.8h0M249.7 200.8h0M163.0 283.1h0M300.4 158.5h0M270.5 189.4h0M139.1 282.4h0M160.6 261.5h0M218.3 243.8h0M180.1 258.0h0M180.6 264.3h0M256.0 216.1h0M253.9 214.1h0M264.0 216.3h0M301.9 168.9h0M270.7 190.2h0M270.5 205.6h0M186.9 253.0h0M165.7 283.4h0M283.2 202.2h0M142.6 282.8h0M232.9 209.4h0M295.2 196.2h0M291.6 178.2h0M174.6 267.3h0M220.2 223.3h0M219.7 230.4h0M153.5 261.8h0M195.5 246.1h0M272.2 188.0h0M227.0 240.8h0M178.0 274.9h0M243.7 226.4h0M285.6 179.1h0M162.9 265.7h0M248.2 239.2h0M177.1 256.7h0M238.1 212.7h0M256.3 215.9h0M230.5 217.1h0M243.6 217.0h0M218.4 257.7h0M277.8 182.2h0M232.9 220.3h0M154.6 265.3h0M180.7 248.8h0M163.2 266.1h0M231.1 226.0h0M295.5 187.1h0M218.2 251.7h0M227.3 238.3h0M191.0 245.9h0M245.7 234.1h0M179.7 262.9h0M175.0 266.6h0M288.3 199.3h0M168.2 284.0h0M255.9 223.1h0M219.9 265.9h0M142.6 281.2h0M275.9 209.1h0M259.7 206.0h0M252.5 201.4h0M220.1 237.2h0M235.7 222.6h0M221.4 227.5h0M245.8 214.6h0M246.3 223.9h0M241.6 212.2h0M172.5 252.3h0M191.1 264.7h0M231.9 210.8h0M283.3 179.8h0M253.9 203.5h0M298.2 191.4h0M145.1 281.9h0M289.8 173.1h0M210.8 254.6h0M294.6 186.9h0M261.7 186.9h0M228.3 229.8h0M184.2 268.5h0M177.7 257.6h0M155.4 283.5h0M247.4 208.8h0M242.6 227.3h0M181.8 270.1h0M180.6 282.3h0M234.0 225.9h0M312.7 142.3h0M251.4 232.0h0M216.1 244.9h0M261.1 197.1h0M293.3 177.6h0M286.3 190.6h0M265.3 225.4h0M188.9 278.9h0M201.6 282.6h0M230.5 236.3h0M286.4 189.4h0M190.5 278.5h0M161.4 284.6h0M311.4 156.2h0M247.2 218.4h0M206.0 247.9h0M256.7 199.0h0M284.9 191.4h0M228.0 255.8h0M242.3 211.9h0M190.8 274.4h0M266.8 206.6h0M259.2 202.7h0M194.9 242.3h0M235.3 226.8h0M228.7 215.7h0M167.7 271.3h0M250.5 205.6h0M283.3 194.3h0M228.8 235.4h0M246.9 208.4h0M172.5 252.5h0M194.4 239.4h0M300.0 176.0h0M194.3 260.3h0M239.4 204.3h0M147.7 280.0h0M207.3 238.8h0M177.4 279.4h0M153.7 269.8h0M228.6 217.1h0M168.3 254.9h0M229.2 219.1h0M148.5 271.4h0M172.0 282.2h0M311.6 180.1h0M234.2 208.2h0M178.1 260.4h0M265.6 196.2h0M192.6 237.8h0M186.0 241.9h0M191.5 236.7h0M219.7 264.2h0M232.0 247.4h0M237.3 222.5h0M259.2 191.3h0M226.3 203.9h0M241.0 232.9h0M190.2 264.0h0M173.0 274.0h0M311.5 161.1h0M260.5 192.2h0M221.5 233.4h0M202.0 279.8h0M197.7 255.4h0M266.5 189.5h0M239.4 238.0h0M183.8 250.9h0M282.7 213.0h0M259.3 204.9h0M158.4 275.7h0M165.9 279.1h0M183.2 253.9h0M271.7 191.3h0M242.4 206.8h0M218.7 238.2h0M170.1 255.1h0M205.3 271.0h0M251.9 196.2h0M179.1 277.7h0M237.8 197.1h0M165.9 260.6h0M297.8 170.5h0M231.6 233.6h0M175.9 284.7h0M168.4 280.0h0M181.1 266.6h0M250.2 201.0h0M164.5 276.8h0M288.0 182.0h0M298.0 193.5h0M268.9 197.7h0M253.7 195.7h0M164.1 261.2h0M144.3 275.3h0M214.2 256.7h0M193.3 253.7h0M171.5 282.4h0M232.4 225.7h0M265.6 226.9h0M218.9 269.7h0M275.0 193.0h0M202.3 277.0h0M187.2 238.5h0M230.3 248.6h0M177.8 279.2h0M293.6 178.9h0M258.2 191.9h0M158.8 255.0h0M281.3 203.2h0M159.1 264.0h0M166.7 262.1h0M177.8 270.2h0M272.6 197.3h0M280.2 197.3h0M262.0 192.2h0M190.7 251.3h0M216.8 249.2h0M197.3 270.5h0M233.0 218.9h0M249.7 229.5h0M234.2 205.8h0M251.8 208.1h0M288.9 183.7h0M201.7 235.4h0M296.4 182.3h0M285.0 192.7h0M166.4 265.6h0M166.9 273.0h0M212.1 245.4h0M175.5 265.9h0M240.8 228.8h0M266.3 210.3h0M271.8 183.3h0M145.2 273.5h0M252.7 196.8h0M172.9 281.6h0M275.3 184.0h0M166.8 277.8h0M161.4 263.3h0M203.2 274.0h0M169.1 261.1h0M231.8 214.2h0M164.1 268.8h0M212.6 236.1h0M257.4 208.9h0M145.8 271.5h0M242.0 200.7h0M243.0 233.7h0M250.8 216.1h0M236.3 210.8h0M151.8 281.2h0M140.3 279.1h0M199.8 238.8h0M291.1 168.3h0M212.6 246.6h0M216.3 253.2h0M270.2 184.0h0M170.9 258.6h0M158.3 283.4h0M190.3 244.5h0M173.0 255.8h0M295.0 165.8h0M146.1 276.5h0M166.2 250.0h0M169.3 265.4h0M250.7 218.1h0M177.8 267.9h0M221.3 231.6h0M225.3 214.8h0M278.2 197.1h0M189.9 282.7h0M151.6 265.4h0M248.0 209.5h0M196.3 276.3h0M163.0 261.1h0M273.5 173.9h0M264.4 189.4h0M308.0 180.2h0M162.3 264.0h0M196.4 243.5h0M296.2 198.6h0M228.0 248.7h0M274.2 203.3h0M188.9 253.6h0M215.9 243.4h0M274.8 202.3h0M144.8 283.2h0M209.0 250.0h0M173.0 249.4h0M168.9 266.4h0M303.3 169.1h0M306.9 180.0h0M145.3 271.9h0M142.4 275.4h0M274.4 187.2h0M263.9 224.2h0M172.3 263.7h0M196.2 261.6h0M267.3 207.1h0M235.1 238.7h0M158.6 261.5h0M242.4 210.3h0M256.2 216.5h0M204.3 257.2h0M201.4 242.4h0M153.2 268.0h0M185.1 255.5h0M241.4 206.4h0M227.2 233.9h0M269.4 207.6h0M236.7 217.3h0M221.8 244.2h0M213.2 264.0h0M139.2 277.4h0M271.7 212.2h0M311.0 157.1h0M280.3 178.8h0M309.4 179.8h0M266.2 218.3h0M183.5 243.6h0M196.6 283.0h0M155.3 256.3h0M279.1 191.4h0M219.6 253.8h0M244.5 204.1h0M233.2 228.7h0M206.9 265.6h0M251.0 206.8h0M247.3 211.3h0M303.4 173.2h0M277.1 199.7h0M216.3 251.3h0M233.9 250.1h0M197.0 253.5h0M197.4 271.3h0M281.2 186.1h0M197.6 272.5h0M279.5 194.8h0M190.3 239.3h0M173.7 267.8h0M213.5 259.3h0M242.9 203.3h0M277.5 190.4h0M210.5 252.5h0M175.5 245.0h0M302.3 166.2h0M204.6 274.0h0M218.3 232.1h0M299.3 195.5h0M246.1 229.9h0M271.9 191.0h0M152.7 270.6h0M178.4 283.0h0M152.2 271.3h0M242.6 207.8h0M261.2 202.0h0M207.6 238.9h0M195.8 256.6h0M234.2 207.0h0M269.4 185.7h0M237.7 218.9h0M154.2 279.1h0M204.6 282.4h0M250.6 230.6h0M244.9 200.2h0M210.8 249.7h0M198.3 244.3h0M288.7 184.2h0M270.2 212.5h0M169.3 262.4h0M198.2 243.3h0M183.0 268.2h0M284.3 191.1h0M225.3 240.5h0M164.7 266.6h0M178.7 245.9h0M298.7 196.0h0M224.2 246.6h0M209.3 266.3h0M163.7 253.3h0M281.5 207.2h0M267.5 226.4h0M268.7 191.6h0M208.7 235.1h0M234.0 208.2h0M214.3 266.4h0M140.5 281.9h0M271.5 190.5h0M223.3 223.9h0M231.7 250.9h0M243.2 233.8h0M220.6 268.1h0M234.1 247.5h0M302.3 169.8h0M312.3 146.5h0M185.4 271.8h0M193.7 254.9h0M311.5 180.1h0M272.0 176.2h0M177.3 246.3h0M272.8 188.5h0M238.6 217.1h0M296.8 179.2h0M258.9 196.1h0M249.6 239.0h0M289.1 194.3h0M275.3 189.5h0M240.5 231.4h0M224.0 215.3h0M202.4 229.9h0M190.0 284.2h0M228.7 214.6h0M160.8 278.5h0M231.2 209.5h0M156.1 277.8h0M144.5 273.7h0M174.1 278.7h0M281.0 200.2h0M250.2 222.3h0M207.9 249.0h0M236.7 210.6h0M305.9 180.0h0M179.3 247.2h0M263.2 222.3h0M270.2 200.4h0M166.3 278.0h0M222.1 225.4h0M256.0 193.9h0M275.9 206.2h0M211.3 238.5h0M247.2 222.6h0M249.7 220.9h0M145.2 273.4h0M218.8 223.5h0M219.7 225.6h0M200.3 229.2h0M264.5 214.7h0M153.7 282.4h0M256.6 203.0h0M310.7 154.4h0M233.1 230.6h0M244.7 202.4h0M159.0 271.8h0M201.4 253.2h0M161.5 254.7h0M304.9 162.0h0M165.0 256.2h0M159.2 265.2h0M167.0 251.7h0M250.1 202.5h0M277.2 182.4h0M231.5 215.5h0M291.6 189.5h0M263.8 219.7h0M253.0 187.3h0M263.1 210.9h0M274.0 198.7h0M228.1 247.3h0M237.6 239.5h0M241.7 238.9h0M280.1 186.2h0M242.6 213.9h0M158.1 270.9h0M215.5 265.9h0M260.2 216.5h0M187.3 246.6h0M145.9 279.2h0M255.6 217.0h0M189.2 281.3h0M277.4 184.4h0M217.1 224.8h0M257.1 196.8h0M186.2 268.2h0M202.7 268.5h0M205.6 243.1h0M204.3 240.5h0M278.0 178.9h0M209.2 263.6h0M176.7 256.3h0M234.5 206.9h0M165.6 261.2h0M248.3 235.8h0M298.9 182.0h0M149.3 280.4h0M172.8 273.0h0M244.5 218.7h0M276.2 198.6h0M178.3 279.2h0M238.4 207.1h0M210.4 249.8h0M254.8 222.5h0M235.2 250.1h0M302.0 177.4h0M282.4 213.3h0M201.0 269.3h0M197.6 252.4h0M256.6 201.8h0M242.5 237.1h0M267.3 191.2h0M308.2 169.3h0M312.9 164.0h0M262.9 199.2h0M178.4 262.8h0M245.7 233.9h0M285.6 198.1h0M191.4 254.5h0M298.9 190.4h0M189.4 277.9h0M267.9 186.3h0M182.5 270.2h0M245.6 216.0h0M230.3 239.2h0M294.1 181.9h0M193.4 282.5h0M163.9 265.7h0M200.5 236.8h0M232.6 251.9h0M285.3 179.2h0M246.6 240.4h0M223.8 223.1h0M215.5 258.3h0M292.5 188.6h0M246.4 235.9h0M234.1 241.1h0M195.5 248.5h0M220.4 268.1h0M279.0 191.6h0M277.9 193.8h0M228.6 251.1h0M269.2 188.6h0M268.8 176.9h0M226.8 243.9h0M244.8 240.4h0M235.9 254.2h0M277.1 197.4h0M161.7 257.2h0M268.0 188.6h0M227.8 249.6h0M289.7 188.6h0M225.1 233.5h0M273.4 184.3h0M165.3 257.6h0M177.8 253.9h0M163.8 279.8h0M155.3 264.8h0M252.3 210.5h0M253.0 216.7h0M215.6 243.7h0M161.6 258.4h0M255.1 226.1h0M182.4 254.5h0M184.0 249.7h0M255.8 203.2h0M140.7 279.5h0M201.5 226.9h0M297.0 189.2h0M169.4 283.4h0M175.8 269.5h0M238.5 203.7h0M209.2 250.5h0M248.5 204.4h0M274.7 193.4h0M139.7 272.0h0M190.6 281.9h0M267.1 206.1h0M304.9 175.5h0M191.1 283.3h0M256.4 207.9h0M273.9 209.7h0M286.8 196.1h0M250.7 204.7h0M138.0 270.6h0M253.4 223.4h0M161.7 275.6h0M206.4 241.3h0M186.3 274.3h0M291.5 196.2h0M283.5 200.7h0M221.6 228.0h0M188.4 264.1h0M143.6 283.2h0M215.1 231.4h0M173.1 262.2h0M183.3 248.9h0M188.3 284.6h0M272.3 195.2h0M175.1 273.8h0M173.6 275.2h0M188.4 264.7h0M278.1 205.9h0M214.8 265.4h0M281.9 183.7h0M223.3 245.4h0M172.4 255.5h0M237.9 237.6h0M254.0 217.9h0M193.2 245.0h0M188.7 250.7h0M250.1 238.2h0M203.9 261.0h0M234.5 213.5h0M263.4 202.4h0M237.2 211.1h0M224.2 227.7h0M277.8 183.7h0M151.4 264.2h0M242.7 199.0h0M239.0 237.5h0M260.1 222.2h0M175.3 272.8h0M243.7 213.9h0M264.2 186.2h0M230.7 222.5h0M156.8 283.7h0M162.3 268.2h0M258.9 194.0h0M172.9 279.1h0M193.5 243.9h0M178.7 284.0h0M221.8 221.9h0M271.0 199.3h0M208.4 249.2h0M228.6 239.1h0M240.4 229.4h0M164.6 273.5h0M224.6 241.6h0M222.1 237.2h0M226.4 255.7h0M233.7 225.4h0M191.6 286.3h0M229.8 234.0h0M245.0 220.3h0M230.4 235.0h0M222.6 248.5h0M193.1 249.8h0M268.6 206.3h0M164.0 283.9h0M231.6 250.8h0M239.8 207.3h0M219.6 239.5h0M270.4 207.7h0M221.3 233.6h0M188.6 285.0h0M261.3 184.8h0M280.5 182.5h0M265.7 187.7h0M299.1 185.2h0M267.7 199.0h0M275.6 206.0h0M307.6 166.4h0M208.6 255.3h0M264.5 218.2h0M184.0 243.8h0M206.2 237.6h0M266.8 195.3h0M222.3 219.1h0M264.1 219.6h0M309.0 180.1h0M170.6 266.0h0M210.6 249.8h0M305.8 177.9h0M236.0 246.2h0M252.6 196.4h0M213.5 219.5h0M253.6 227.0h0M185.1 246.0h0M137.6 283.4h0M194.7 236.9h0M224.9 232.3h0M158.6 269.0h0M243.7 207.7h0M275.1 171.6h0M218.2 228.2h0M158.2 254.4h0M309.4 183.5h0M265.9 196.0h0M252.9 210.8h0M274.8 195.5h0M283.5 177.4h0M172.0 258.0h0M219.5 260.6h0M163.4 279.0h0M228.2 238.7h0M215.7 233.5h0M190.4 243.1h0M265.4 216.2h0M279.1 194.1h0M178.3 268.3h0M258.9 202.0h0M247.4 234.6h0M161.3 269.9h0M232.3 199.8h0M239.3 225.7h0M190.1 247.2h0M255.4 204.6h0M218.2 259.3h0M166.2 259.8h0M186.5 244.5h0M214.2 244.4h0M228.6 221.5h0M247.6 207.2h0M298.8 180.8h0M166.5 269.6h0M227.1 232.8h0M222.0 249.2h0M240.5 236.5h0M201.3 232.2h0M267.7 210.7h0M252.6 213.4h0M207.5 261.7h0M278.8 198.3h0M248.7 222.8h0M164.9 271.2h0M154.7 273.1h0M270.4 206.0h0M166.7 259.8h0M165.4 271.9h0M264.3 220.2h0M243.4 228.4h0M273.0 190.9h0M255.0 216.3h0M193.0 260.4h0M271.0 209.2h0M221.0 227.7h0M197.7 255.5h0M305.6 168.0h0M184.4 263.0h0M281.2 201.1h0M174.4 246.2h0M159.6 263.0h0M155.6 278.2h0M247.2 229.7h0M224.1 255.1h0M159.2 265.7h0M227.9 236.7h0M304.2 177.8h0M252.3 191.6h0M281.4 190.5h0M287.7 187.8h0M290.4 176.8h0M143.9 274.8h0M278.2 175.7h0M269.2 182.1h0M216.3 228.0h0M174.4 272.9h0M259.3 220.7h0M275.7 198.6h0M250.7 211.9h0M237.3 206.7h0M277.4 176.1h0M150.3 278.0h0M267.5 199.9h0M255.5 209.0h0M200.1 228.5h0M158.1 268.6h0M170.0 268.1h0M200.2 248.0h0M218.0 236.9h0M224.5 234.4h0M240.2 213.7h0M302.6 182.2h0M294.1 185.1h0M250.8 240.4h0M173.1 277.9h0M176.1 260.2h0M283.8 190.1h0M245.3 234.2h0M307.6 172.1h0M152.0 259.3h0M264.4 193.7h0M182.1 253.3h0M306.2 165.8h0M227.5 247.5h0M144.5 281.2h0M299.6 183.2h0M311.3 140.8h0M226.6 232.3h0M193.0 278.7h0M243.8 224.9h0M214.9 237.5h0M234.2 224.1h0M284.8 193.8h0M244.6 209.4h0M249.2 237.7h0M263.7 194.9h0M221.1 251.3h0M227.0 238.4h0M153.0 283.6h0M206.0 249.1h0M248.3 219.3h0M311.0 185.4h0M303.7 163.1h0M304.1 166.9h0M261.3 200.2h0M235.1 253.7h0M267.1 221.1h0M189.3 264.4h0M161.7 275.5h0M225.6 247.5h0M171.9 268.4h0M306.2 177.6h0M272.3 196.0h0M213.2 235.3h0M283.3 201.0h0M274.3 204.2h0M245.3 211.5h0M258.7 207.1h0M183.0 282.1h0M283.6 197.5h0M236.9 216.1h0M239.1 223.0h0M167.5 254.2h0M196.1 243.9h0M245.9 211.9h0M260.6 193.0h0M208.2 259.4h0M169.6 247.6h0M227.9 222.8h0M291.1 179.8h0M154.3 274.1h0M173.6 266.7h0M233.3 234.2h0M231.9 210.2h0M222.2 238.1h0M241.4 210.7h0M169.0 248.6h0M140.7 275.1h0M264.5 193.5h0M193.6 247.7h0M174.3 251.5h0M198.3 277.9h0M311.6 147.6h0M244.0 213.7h0M182.7 284.3h0M275.5 199.8h0M170.1 254.0h0M305.8 165.4h0M271.8 185.8h0M197.4 263.2h0M194.9 270.6h0M212.0 248.7h0M162.1 272.7h0M175.5 281.2h0M195.2 250.2h0M212.0 246.1h0M257.1 208.6h0M160.1 273.0h0M170.0 259.2h0" stroke="#0576c8"/>
<path d="M227.4 196.1h0M293.6 149.3h0M247.6 189.7h0M256.4 180.4h0M303.0 129.2h0M195.3 213.7h0M275.0 171.7h0M305.6 134.5h0M258.1 162.7h0M195.1 221.6h0M304.3 154.2h0M195.6 219.3h0M236.9 189.1h0M227.0 189.7h0M212.9 200.3h0M223.3 195.9h0M296.3 141.5h0M295.8 136.7h0M199.9 218.7h0M298.3 159.9h0M244.1 189.4h0M255.6 179.9h0M194.0 219.6h0M225.5 204.1h0M199.5 222.9h0M197.6 212.2h0M272.0 154.8h0M291.1 157.7h0M261.4 178.1h0M268.8 155.2h0M283.1 158.6h0M221.2 208.9h0M204.3 217.3h0M243.6 191.4h0M261.2 157.2h0M278.2 164.8h0M277.1 154.7h0M242.3 172.4h0M218.8 205.4h0M212.0 207.7h0M245.4 170.6h0M265.6 157.8h0M248.4 181.9h0M273.5 174.0h0M292.8 156.9h0M226.9 188.4h0M193.7 219.5h0M279.9 147.8h0M259.1 161.5h0M274.3 176.4h0M257.1 160.3h0M287.4 138.5h0M281.1 145.8h0M265.0 173.9h0M205.9 213.5h0M242.9 182.1h0M216.6 203.1h0M237.9 177.2h0M306.8 131.8h0M268.1 156.3h0M214.1 202.3h0M269.3 177.1h0M301.9 132.6h0M258.0 175.8h0M306.3 121.7h0M199.0 221.2h0M301.9 136.0h0M185.6 230.1h0M269.5 167.6h0M203.5 215.7h0M241.5 175.9h0M301.5 151.3h0M291.8 138.2h0M284.1 144.5h0M206.8 207.8h0M235.8 178.4h0M302.0 139.0h0M297.5 153.5h0M200.1 218.6h0M279.3 148.7h0M312.8 106.5h0M313.2 113.8h0M312.4 104.3h0M313.0 121.2h0M312.7 119.6h0M313.4 106.6h0M313.2 114.7h0M312.8 125.7h0M313.0 129.3h0M313.5 114.9h0M313.0 122.5h0M314.2 115.8h0M312.8 111.6h0M314.0 116.0h0M313.2 116.0h0M313.2 108.2h0M313.0 105.4h0M312.4 124.1h0M312.1 130.5h0M313.7 110.9h0M313.8 123.8h0M314.2 109.6h0M311.6 132.8h0M312.7 128.8h0M313.1 122.8h0M312.9 127.1h0M311.5 132.5h0M312.5 123.2h0M313.6 116.5h0M312.3 108.7h0M313.5 106.7h0M312.3 130.8h0M312.7 122.4h0M313.3 117.8h0M309.6 132.6h0M310.7 148.8h0M308.6 149.0h0M309.1 141.7h0M306.1 128.1h0M310.9 148.4h0M310.8 143.7h0M307.1 128.5h0M309.0 127.1h0M306.5 148.8h0M310.6 134.1h0M310.1 143.1h0M297.3 129.5h0M298.3 130.3h0M311.0 76.2h0" stroke="#1a5e8e"/>
</g>

<g id="axes">
<line x1="62.5" y1="288.7" x2="62.5" y2="82.3" class="a"/>
<line x1="62.5" y1="288.7" x2="285.3" y2="366.3" class="a"/>
<line x1="285.3" y1="366.3" x2="508.3" y2="288.7" class="a"/>
<line x1="62.5" y1="288.7" x2="56.6" y2="286.6" class="a"/>
<line x1="62.5" y1="254.3" x2="56.6" y2="252.2" class="a"/>
<line x1="62.5" y1="219.9" x2="56.6" y2="217.8" class="a"/>
<line x1="62.5" y1="185.5" x2="56.6" y2="183.4" class="a"/>
<line x1="62.5" y1="151.1" x2="56.6" y2="149.0" class="a"/>
<line x1="62.5" y1="116.7" x2="56.6" y2="114.6" class="a"/>
<line x1="62.5" y1="82.3" x2="56.6" y2="80.2" class="a"/>
<line x1="62.5" y1="288.7" x2="56.6" y2="290.8" class="a"/>
<line x1="136.8" y1="314.6" x2="130.8" y2="316.6" class="a"/>
<line x1="211.0" y1="340.4" x2="205.1" y2="342.5" class="a"/>
<line x1="285.3" y1="366.3" x2="279.4" y2="368.4" class="a"/>
<line x1="285.3" y1="366.3" x2="291.2" y2="368.4" class="a"/>
<line x1="341.1" y1="346.9" x2="347.0" y2="349.0" class="a"/>
<line x1="396.8" y1="327.5" x2="402.7" y2="329.6" class="a"/>
<line x1="452.6" y1="308.1" x2="458.5" y2="310.2" class="a"/>
<line x1="508.3" y1="288.7" x2="514.2" y2="290.8" class="a"/>
</g>
<g class="tk">
<text x="51.7" y="290.0" text-anchor="end">0</text>
<text x="51.7" y="255.6" text-anchor="end">500</text>
<text x="51.7" y="221.2" text-anchor="end">1000</text>
<text x="51.7" y="186.8" text-anchor="end">1500</text>
<text x="51.7" y="152.4" text-anchor="end">2000</text>
<text x="51.7" y="118.0" text-anchor="end">2500</text>
<text x="51.7" y="83.6" text-anchor="end">3000</text>
<text x="52.0" y="305.5" text-anchor="end">0</text>
<text x="126.3" y="331.4" text-anchor="end">50</text>
<text x="200.5" y="357.2" text-anchor="end">100</text>
<text x="274.8" y="383.1" text-anchor="end">150</text>
<text x="295.8" y="383.6" text-anchor="start">0</text>
<text x="351.6" y="364.2" text-anchor="start">1000</text>
<text x="407.3" y="344.8" text-anchor="start">2000</text>
<text x="463.1" y="325.4" text-anchor="start">3000</text>
<text x="518.8" y="306.0" text-anchor="start">4000</text>
</g>
<text class="lab" transform="translate(15,185.5) rotate(-90)" text-anchor="middle"><tspan font-style="italic">SNR</tspan> (-)</text>
<text class="lab" x="123" y="402.6" font-size="14.2px"><tspan font-style="italic">N</tspan> / <tspan font-style="italic" dx="0.8">t</tspan><tspan font-size="11px" dy="6.8">int</tspan><tspan dy="-6.8"> (DN / ms)</tspan></text>
<text class="lab" x="392.4" y="384"><tspan font-style="italic">t</tspan><tspan font-size="11px" dy="7">int</tspan><tspan dy="-7"> ( ms)</tspan></text>
<g id="legend">
<rect x="381.3" y="13.9" width="106.2" height="35.2" fill="#fff" stroke="#555" stroke-width="0.9"/>
<circle cx="408.2" cy="23.8" r="1.15" fill="#1f6390"/>
<rect x="388.9" y="33.9" width="38.8" height="10.6" fill="#0dad60"/>
<text x="431.9" y="28.6" font-size="11.7px" fill="#000" stroke="#000" stroke-width="0.2">Observed</text>
<text x="431.9" y="44.1" font-size="11.7px" fill="#000" stroke="#000" stroke-width="0.2">Fit</text>
</g>
</svg>
</body></html>
